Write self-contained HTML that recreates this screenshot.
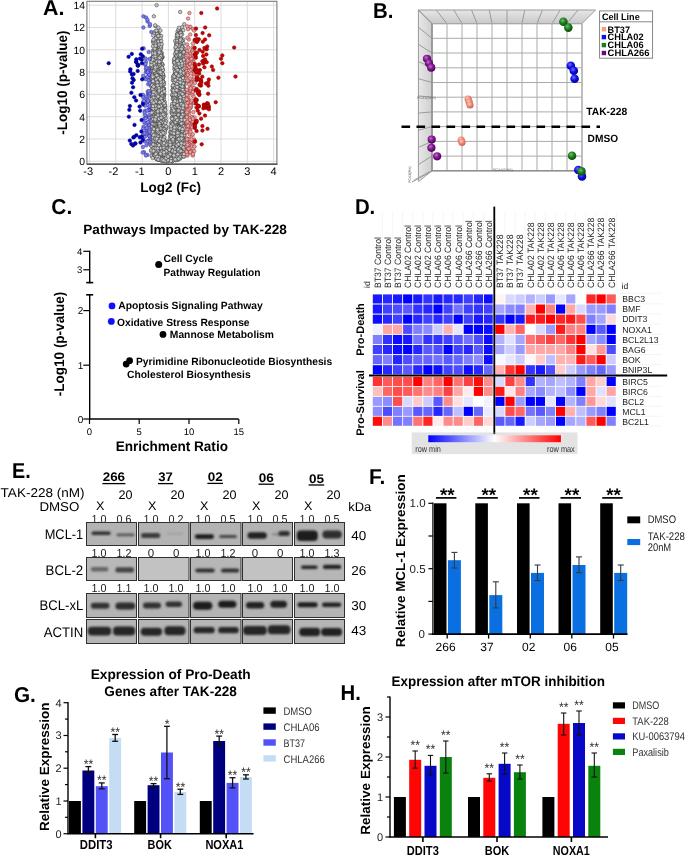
<!DOCTYPE html>
<html><head><meta charset="utf-8"><style>
html,body{margin:0;padding:0;background:#fff;width:685px;height:855px;overflow:hidden;}
svg{display:block;will-change:transform;filter:blur(0.35px);}
text{text-rendering:geometricPrecision;}
body{-webkit-font-smoothing:antialiased;}
</style></head><body>
<svg width="685" height="855" viewBox="0 0 685 855" font-family="Liberation Sans, sans-serif">
<defs>
<linearGradient id="gtop" x1="0" y1="0" x2="0" y2="1"><stop offset="0" stop-color="#e6e6e6"/><stop offset="1" stop-color="#c9c9c9"/></linearGradient>
<linearGradient id="gleft" x1="0" y1="0" x2="1" y2="0"><stop offset="0" stop-color="#e8e8e8"/><stop offset="1" stop-color="#cfcfcf"/></linearGradient>
<linearGradient id="gbar" x1="0" y1="0" x2="1" y2="0"><stop offset="0" stop-color="#0000ff"/><stop offset="0.5" stop-color="#ffffff"/><stop offset="1" stop-color="#ff0000"/></linearGradient>
<radialGradient id="sp" cx="0.4" cy="0.35" r="0.65"><stop offset="0" stop-color="#c070d0"/><stop offset="0.5" stop-color="#80188f"/><stop offset="1" stop-color="#4a0058"/></radialGradient>
<radialGradient id="ss" cx="0.4" cy="0.35" r="0.65"><stop offset="0" stop-color="#ffd0c0"/><stop offset="0.5" stop-color="#f08a78"/><stop offset="1" stop-color="#c86050"/></radialGradient>
<radialGradient id="sg" cx="0.4" cy="0.35" r="0.65"><stop offset="0" stop-color="#70c070"/><stop offset="0.5" stop-color="#1f7f1f"/><stop offset="1" stop-color="#0a4a0a"/></radialGradient>
<radialGradient id="sb" cx="0.4" cy="0.35" r="0.65"><stop offset="0" stop-color="#7070ff"/><stop offset="0.5" stop-color="#1010e8"/><stop offset="1" stop-color="#000090"/></radialGradient>
<filter id="bl7" x="-30%" y="-80%" width="160%" height="260%"><feGaussianBlur stdDeviation="1.05"/></filter>
<filter id="bl8" x="-50%" y="-80%" width="200%" height="260%"><feGaussianBlur stdDeviation="0.8"/></filter>
<filter id="bl10" x="-50%" y="-80%" width="200%" height="260%"><feGaussianBlur stdDeviation="1.0"/></filter>
</defs>
<rect width="685" height="855" fill="#fff"/>
<text x="43.0" y="14.9" font-size="21.5" font-weight="bold" textLength="21.4" lengthAdjust="spacingAndGlyphs">A.</text>
<rect x="86.9" y="1.3" width="190.0" height="162.9" fill="#fff"/>
<line x1="89.5" y1="1.3" x2="89.5" y2="164.2" stroke="#d9d9d9" stroke-width="0.9"/>
<line x1="115.8" y1="1.3" x2="115.8" y2="164.2" stroke="#d9d9d9" stroke-width="0.9"/>
<line x1="142.1" y1="1.3" x2="142.1" y2="164.2" stroke="#d9d9d9" stroke-width="0.9"/>
<line x1="168.4" y1="1.3" x2="168.4" y2="164.2" stroke="#d9d9d9" stroke-width="0.9"/>
<line x1="194.7" y1="1.3" x2="194.7" y2="164.2" stroke="#d9d9d9" stroke-width="0.9"/>
<line x1="221.0" y1="1.3" x2="221.0" y2="164.2" stroke="#d9d9d9" stroke-width="0.9"/>
<line x1="247.3" y1="1.3" x2="247.3" y2="164.2" stroke="#d9d9d9" stroke-width="0.9"/>
<line x1="273.6" y1="1.3" x2="273.6" y2="164.2" stroke="#d9d9d9" stroke-width="0.9"/>
<line x1="86.9" y1="161.3" x2="276.9" y2="161.3" stroke="#d9d9d9" stroke-width="0.9"/>
<line x1="86.9" y1="139.0" x2="276.9" y2="139.0" stroke="#d9d9d9" stroke-width="0.9"/>
<line x1="86.9" y1="116.7" x2="276.9" y2="116.7" stroke="#d9d9d9" stroke-width="0.9"/>
<line x1="86.9" y1="94.4" x2="276.9" y2="94.4" stroke="#d9d9d9" stroke-width="0.9"/>
<line x1="86.9" y1="72.1" x2="276.9" y2="72.1" stroke="#d9d9d9" stroke-width="0.9"/>
<line x1="86.9" y1="49.8" x2="276.9" y2="49.8" stroke="#d9d9d9" stroke-width="0.9"/>
<line x1="86.9" y1="27.5" x2="276.9" y2="27.5" stroke="#d9d9d9" stroke-width="0.9"/>
<line x1="86.9" y1="5.2" x2="276.9" y2="5.2" stroke="#d9d9d9" stroke-width="0.9"/>
<g fill="#c8c8c8" stroke="#3a3a3a" stroke-width="0.55">
<circle cx="176.9" cy="114.4" r="1.75"/>
<circle cx="159.8" cy="152.9" r="1.75"/>
<circle cx="163.3" cy="151.2" r="1.75"/>
<circle cx="178.2" cy="70.4" r="1.75"/>
<circle cx="157.3" cy="140.4" r="1.75"/>
<circle cx="174.6" cy="68.7" r="1.75"/>
<circle cx="178.3" cy="152.7" r="1.75"/>
<circle cx="181.2" cy="95.6" r="1.75"/>
<circle cx="175.4" cy="125.9" r="1.75"/>
<circle cx="158.2" cy="100.7" r="1.75"/>
<circle cx="174.0" cy="155.6" r="1.75"/>
<circle cx="178.9" cy="60.5" r="1.75"/>
<circle cx="152.1" cy="92.6" r="1.75"/>
<circle cx="158.7" cy="105.4" r="1.75"/>
<circle cx="162.3" cy="136.9" r="1.75"/>
<circle cx="158.5" cy="104.6" r="1.75"/>
<circle cx="178.4" cy="81.7" r="1.75"/>
<circle cx="173.8" cy="109.3" r="1.75"/>
<circle cx="162.3" cy="135.8" r="1.75"/>
<circle cx="164.3" cy="160.7" r="1.75"/>
<circle cx="183.1" cy="86.6" r="1.75"/>
<circle cx="155.7" cy="104.4" r="1.75"/>
<circle cx="166.5" cy="152.3" r="1.75"/>
<circle cx="166.4" cy="161.3" r="1.75"/>
<circle cx="174.9" cy="157.6" r="1.75"/>
<circle cx="184.5" cy="108.5" r="1.75"/>
<circle cx="160.3" cy="93.8" r="1.75"/>
<circle cx="153.1" cy="41.2" r="1.75"/>
<circle cx="184.7" cy="84.7" r="1.75"/>
<circle cx="154.5" cy="123.5" r="1.75"/>
<circle cx="151.7" cy="84.1" r="1.75"/>
<circle cx="165.8" cy="128.4" r="1.75"/>
<circle cx="160.2" cy="157.3" r="1.75"/>
<circle cx="163.1" cy="129.3" r="1.75"/>
<circle cx="181.5" cy="70.8" r="1.75"/>
<circle cx="181.4" cy="149.0" r="1.75"/>
<circle cx="153.9" cy="52.6" r="1.75"/>
<circle cx="174.3" cy="103.1" r="1.75"/>
<circle cx="182.1" cy="142.9" r="1.75"/>
<circle cx="165.2" cy="110.5" r="1.75"/>
<circle cx="160.6" cy="85.0" r="1.75"/>
<circle cx="157.6" cy="124.8" r="1.75"/>
<circle cx="158.5" cy="123.7" r="1.75"/>
<circle cx="152.8" cy="76.7" r="1.75"/>
<circle cx="175.4" cy="88.6" r="1.75"/>
<circle cx="165.0" cy="160.7" r="1.75"/>
<circle cx="154.7" cy="56.2" r="1.75"/>
<circle cx="162.3" cy="145.9" r="1.75"/>
<circle cx="178.8" cy="79.9" r="1.75"/>
<circle cx="156.7" cy="87.1" r="1.75"/>
<circle cx="176.4" cy="92.0" r="1.75"/>
<circle cx="174.8" cy="80.2" r="1.75"/>
<circle cx="156.2" cy="143.7" r="1.75"/>
<circle cx="172.5" cy="138.9" r="1.75"/>
<circle cx="155.6" cy="129.5" r="1.75"/>
<circle cx="175.5" cy="137.9" r="1.75"/>
<circle cx="177.5" cy="132.9" r="1.75"/>
<circle cx="175.8" cy="158.7" r="1.75"/>
<circle cx="174.0" cy="152.0" r="1.75"/>
<circle cx="165.2" cy="155.6" r="1.75"/>
<circle cx="183.3" cy="100.1" r="1.75"/>
<circle cx="162.7" cy="78.6" r="1.75"/>
<circle cx="152.9" cy="61.5" r="1.75"/>
<circle cx="153.9" cy="149.2" r="1.75"/>
<circle cx="174.3" cy="95.5" r="1.75"/>
<circle cx="161.5" cy="84.9" r="1.75"/>
<circle cx="162.4" cy="154.0" r="1.75"/>
<circle cx="163.9" cy="88.8" r="1.75"/>
<circle cx="177.5" cy="125.0" r="1.75"/>
<circle cx="157.3" cy="89.5" r="1.75"/>
<circle cx="176.3" cy="111.6" r="1.75"/>
<circle cx="155.7" cy="153.4" r="1.75"/>
<circle cx="155.4" cy="124.3" r="1.75"/>
<circle cx="159.2" cy="120.4" r="1.75"/>
<circle cx="156.9" cy="138.5" r="1.75"/>
<circle cx="160.5" cy="125.9" r="1.75"/>
<circle cx="166.3" cy="161.1" r="1.75"/>
<circle cx="165.1" cy="160.6" r="1.75"/>
<circle cx="158.5" cy="155.3" r="1.75"/>
<circle cx="174.2" cy="104.8" r="1.75"/>
<circle cx="155.0" cy="56.3" r="1.75"/>
<circle cx="181.1" cy="141.1" r="1.75"/>
<circle cx="173.7" cy="76.6" r="1.75"/>
<circle cx="154.3" cy="142.0" r="1.75"/>
<circle cx="173.0" cy="80.3" r="1.75"/>
<circle cx="173.6" cy="88.4" r="1.75"/>
<circle cx="159.8" cy="54.5" r="1.75"/>
<circle cx="154.4" cy="89.7" r="1.75"/>
<circle cx="159.0" cy="68.1" r="1.75"/>
<circle cx="159.5" cy="79.0" r="1.75"/>
<circle cx="179.1" cy="63.9" r="1.75"/>
<circle cx="175.4" cy="93.7" r="1.75"/>
<circle cx="172.9" cy="158.8" r="1.75"/>
<circle cx="157.3" cy="130.9" r="1.75"/>
<circle cx="178.2" cy="140.8" r="1.75"/>
<circle cx="165.8" cy="127.8" r="1.75"/>
<circle cx="166.0" cy="160.8" r="1.75"/>
<circle cx="154.5" cy="115.5" r="1.75"/>
<circle cx="177.7" cy="39.7" r="1.75"/>
<circle cx="178.7" cy="107.3" r="1.75"/>
<circle cx="153.4" cy="109.0" r="1.75"/>
<circle cx="161.4" cy="119.9" r="1.75"/>
<circle cx="152.6" cy="87.2" r="1.75"/>
<circle cx="179.7" cy="69.9" r="1.75"/>
<circle cx="180.2" cy="57.0" r="1.75"/>
<circle cx="173.1" cy="119.8" r="1.75"/>
<circle cx="160.5" cy="92.9" r="1.75"/>
<circle cx="177.7" cy="66.2" r="1.75"/>
<circle cx="162.6" cy="137.0" r="1.75"/>
<circle cx="163.1" cy="96.1" r="1.75"/>
<circle cx="153.1" cy="111.7" r="1.75"/>
<circle cx="156.0" cy="52.6" r="1.75"/>
<circle cx="163.0" cy="106.7" r="1.75"/>
<circle cx="176.1" cy="88.3" r="1.75"/>
<circle cx="154.9" cy="122.0" r="1.75"/>
<circle cx="155.1" cy="34.8" r="1.75"/>
<circle cx="152.2" cy="76.2" r="1.75"/>
<circle cx="179.7" cy="145.5" r="1.75"/>
<circle cx="154.0" cy="67.5" r="1.75"/>
<circle cx="175.3" cy="127.6" r="1.75"/>
<circle cx="171.0" cy="142.8" r="1.75"/>
<circle cx="160.7" cy="85.3" r="1.75"/>
<circle cx="156.5" cy="74.2" r="1.75"/>
<circle cx="180.9" cy="127.3" r="1.75"/>
<circle cx="161.5" cy="116.7" r="1.75"/>
<circle cx="162.4" cy="64.6" r="1.75"/>
<circle cx="181.5" cy="112.3" r="1.75"/>
<circle cx="177.3" cy="88.1" r="1.75"/>
<circle cx="153.3" cy="42.4" r="1.75"/>
<circle cx="158.6" cy="89.4" r="1.75"/>
<circle cx="152.3" cy="64.9" r="1.75"/>
<circle cx="160.1" cy="140.7" r="1.75"/>
<circle cx="176.6" cy="134.4" r="1.75"/>
<circle cx="165.3" cy="107.1" r="1.75"/>
<circle cx="174.5" cy="120.7" r="1.75"/>
<circle cx="178.2" cy="109.6" r="1.75"/>
<circle cx="160.9" cy="154.2" r="1.75"/>
<circle cx="155.2" cy="31.3" r="1.75"/>
<circle cx="158.7" cy="50.2" r="1.75"/>
<circle cx="180.2" cy="112.2" r="1.75"/>
<circle cx="154.8" cy="123.3" r="1.75"/>
<circle cx="183.7" cy="127.4" r="1.75"/>
<circle cx="162.4" cy="105.3" r="1.75"/>
<circle cx="158.5" cy="73.3" r="1.75"/>
<circle cx="161.1" cy="47.9" r="1.75"/>
<circle cx="152.5" cy="156.4" r="1.75"/>
<circle cx="159.4" cy="122.9" r="1.75"/>
<circle cx="180.2" cy="127.4" r="1.75"/>
<circle cx="178.2" cy="65.0" r="1.75"/>
<circle cx="159.0" cy="54.3" r="1.75"/>
<circle cx="183.8" cy="139.1" r="1.75"/>
<circle cx="181.1" cy="87.8" r="1.75"/>
<circle cx="176.5" cy="92.5" r="1.75"/>
<circle cx="178.7" cy="144.0" r="1.75"/>
<circle cx="180.1" cy="123.6" r="1.75"/>
<circle cx="162.6" cy="129.8" r="1.75"/>
<circle cx="175.8" cy="124.4" r="1.75"/>
<circle cx="160.0" cy="63.0" r="1.75"/>
<circle cx="165.9" cy="152.1" r="1.75"/>
<circle cx="161.9" cy="137.6" r="1.75"/>
<circle cx="159.4" cy="116.7" r="1.75"/>
<circle cx="174.6" cy="108.6" r="1.75"/>
<circle cx="161.1" cy="160.4" r="1.75"/>
<circle cx="157.2" cy="94.5" r="1.75"/>
<circle cx="157.0" cy="68.4" r="1.75"/>
<circle cx="182.8" cy="140.2" r="1.75"/>
<circle cx="171.9" cy="145.5" r="1.75"/>
<circle cx="177.6" cy="91.3" r="1.75"/>
<circle cx="181.9" cy="41.8" r="1.75"/>
<circle cx="157.4" cy="41.1" r="1.75"/>
<circle cx="152.8" cy="86.2" r="1.75"/>
<circle cx="169.8" cy="155.3" r="1.75"/>
<circle cx="177.6" cy="39.8" r="1.75"/>
<circle cx="155.9" cy="100.4" r="1.75"/>
<circle cx="161.1" cy="96.5" r="1.75"/>
<circle cx="162.8" cy="94.9" r="1.75"/>
<circle cx="166.4" cy="142.7" r="1.75"/>
<circle cx="182.4" cy="69.0" r="1.75"/>
<circle cx="174.5" cy="87.2" r="1.75"/>
<circle cx="151.2" cy="133.2" r="1.75"/>
<circle cx="174.3" cy="151.8" r="1.75"/>
<circle cx="183.5" cy="43.1" r="1.75"/>
<circle cx="173.4" cy="131.1" r="1.75"/>
<circle cx="183.0" cy="137.9" r="1.75"/>
<circle cx="161.0" cy="136.8" r="1.75"/>
<circle cx="151.9" cy="77.2" r="1.75"/>
<circle cx="180.1" cy="70.0" r="1.75"/>
<circle cx="161.9" cy="109.1" r="1.75"/>
<circle cx="183.5" cy="53.5" r="1.75"/>
<circle cx="163.6" cy="76.4" r="1.75"/>
<circle cx="182.1" cy="156.4" r="1.75"/>
<circle cx="170.1" cy="142.2" r="1.75"/>
<circle cx="165.3" cy="160.9" r="1.75"/>
<circle cx="179.2" cy="75.9" r="1.75"/>
<circle cx="156.5" cy="141.8" r="1.75"/>
<circle cx="155.7" cy="103.0" r="1.75"/>
<circle cx="180.5" cy="79.8" r="1.75"/>
<circle cx="157.5" cy="125.3" r="1.75"/>
<circle cx="157.0" cy="102.5" r="1.75"/>
<circle cx="179.7" cy="132.4" r="1.75"/>
<circle cx="153.8" cy="43.4" r="1.75"/>
<circle cx="172.5" cy="160.4" r="1.75"/>
<circle cx="161.7" cy="53.8" r="1.75"/>
<circle cx="182.7" cy="112.7" r="1.75"/>
<circle cx="179.2" cy="58.1" r="1.75"/>
<circle cx="174.4" cy="122.8" r="1.75"/>
<circle cx="153.9" cy="33.7" r="1.75"/>
<circle cx="178.4" cy="53.1" r="1.75"/>
<circle cx="183.6" cy="126.6" r="1.75"/>
<circle cx="181.9" cy="93.2" r="1.75"/>
<circle cx="180.0" cy="97.9" r="1.75"/>
<circle cx="167.0" cy="150.0" r="1.75"/>
<circle cx="166.5" cy="145.8" r="1.75"/>
<circle cx="182.0" cy="60.9" r="1.75"/>
<circle cx="152.8" cy="151.8" r="1.75"/>
<circle cx="182.4" cy="151.7" r="1.75"/>
<circle cx="153.2" cy="145.8" r="1.75"/>
<circle cx="177.3" cy="69.4" r="1.75"/>
<circle cx="176.5" cy="146.8" r="1.75"/>
<circle cx="156.9" cy="158.3" r="1.75"/>
<circle cx="179.0" cy="108.0" r="1.75"/>
<circle cx="155.0" cy="156.8" r="1.75"/>
<circle cx="172.9" cy="111.0" r="1.75"/>
<circle cx="159.2" cy="42.5" r="1.75"/>
<circle cx="164.6" cy="160.7" r="1.75"/>
<circle cx="152.7" cy="111.0" r="1.75"/>
<circle cx="179.7" cy="120.2" r="1.75"/>
<circle cx="181.4" cy="149.6" r="1.75"/>
<circle cx="162.0" cy="70.3" r="1.75"/>
<circle cx="158.5" cy="32.5" r="1.75"/>
<circle cx="155.2" cy="106.3" r="1.75"/>
<circle cx="153.4" cy="110.8" r="1.75"/>
<circle cx="156.6" cy="65.3" r="1.75"/>
<circle cx="173.9" cy="143.0" r="1.75"/>
<circle cx="172.9" cy="133.5" r="1.75"/>
<circle cx="173.3" cy="125.4" r="1.75"/>
<circle cx="183.7" cy="113.7" r="1.75"/>
<circle cx="181.3" cy="146.6" r="1.75"/>
<circle cx="159.8" cy="55.0" r="1.75"/>
<circle cx="154.3" cy="105.0" r="1.75"/>
<circle cx="180.4" cy="60.8" r="1.75"/>
<circle cx="177.8" cy="102.6" r="1.75"/>
<circle cx="152.8" cy="78.1" r="1.75"/>
<circle cx="154.7" cy="68.3" r="1.75"/>
<circle cx="173.7" cy="147.1" r="1.75"/>
<circle cx="177.2" cy="99.9" r="1.75"/>
<circle cx="158.2" cy="63.4" r="1.75"/>
<circle cx="157.4" cy="90.3" r="1.75"/>
<circle cx="178.6" cy="138.0" r="1.75"/>
<circle cx="180.6" cy="82.9" r="1.75"/>
<circle cx="154.7" cy="101.8" r="1.75"/>
<circle cx="166.1" cy="143.6" r="1.75"/>
<circle cx="155.9" cy="121.5" r="1.75"/>
<circle cx="154.5" cy="110.3" r="1.75"/>
<circle cx="154.5" cy="129.6" r="1.75"/>
<circle cx="151.8" cy="93.3" r="1.75"/>
<circle cx="175.9" cy="110.1" r="1.75"/>
<circle cx="177.3" cy="81.8" r="1.75"/>
<circle cx="155.0" cy="106.8" r="1.75"/>
<circle cx="158.4" cy="120.5" r="1.75"/>
<circle cx="181.8" cy="99.2" r="1.75"/>
<circle cx="182.3" cy="153.0" r="1.75"/>
<circle cx="183.7" cy="140.9" r="1.75"/>
<circle cx="160.9" cy="66.2" r="1.75"/>
<circle cx="153.7" cy="127.4" r="1.75"/>
<circle cx="182.4" cy="137.0" r="1.75"/>
<circle cx="181.6" cy="64.4" r="1.75"/>
<circle cx="153.3" cy="84.4" r="1.75"/>
<circle cx="162.7" cy="80.8" r="1.75"/>
<circle cx="157.1" cy="93.6" r="1.75"/>
<circle cx="156.2" cy="83.1" r="1.75"/>
<circle cx="157.9" cy="64.9" r="1.75"/>
<circle cx="153.1" cy="69.0" r="1.75"/>
<circle cx="177.8" cy="113.4" r="1.75"/>
<circle cx="180.9" cy="31.2" r="1.75"/>
<circle cx="181.3" cy="108.2" r="1.75"/>
<circle cx="161.8" cy="130.8" r="1.75"/>
<circle cx="183.5" cy="88.3" r="1.75"/>
<circle cx="156.0" cy="66.4" r="1.75"/>
<circle cx="154.1" cy="69.3" r="1.75"/>
<circle cx="157.0" cy="154.1" r="1.75"/>
<circle cx="181.5" cy="65.9" r="1.75"/>
<circle cx="176.1" cy="71.9" r="1.75"/>
<circle cx="175.2" cy="64.6" r="1.75"/>
<circle cx="176.4" cy="135.0" r="1.75"/>
<circle cx="158.2" cy="79.8" r="1.75"/>
<circle cx="179.3" cy="115.1" r="1.75"/>
<circle cx="178.3" cy="155.6" r="1.75"/>
<circle cx="175.4" cy="159.3" r="1.75"/>
<circle cx="174.9" cy="101.5" r="1.75"/>
<circle cx="152.3" cy="139.3" r="1.75"/>
<circle cx="167.2" cy="148.5" r="1.75"/>
<circle cx="182.1" cy="57.0" r="1.75"/>
<circle cx="181.5" cy="55.5" r="1.75"/>
<circle cx="164.3" cy="94.5" r="1.75"/>
<circle cx="169.8" cy="159.2" r="1.75"/>
<circle cx="164.5" cy="116.2" r="1.75"/>
<circle cx="156.0" cy="108.0" r="1.75"/>
<circle cx="160.1" cy="140.3" r="1.75"/>
<circle cx="181.2" cy="105.4" r="1.75"/>
<circle cx="152.6" cy="79.1" r="1.75"/>
<circle cx="182.1" cy="113.2" r="1.75"/>
<circle cx="154.6" cy="74.2" r="1.75"/>
<circle cx="176.9" cy="74.1" r="1.75"/>
<circle cx="165.6" cy="161.1" r="1.75"/>
<circle cx="181.9" cy="155.2" r="1.75"/>
<circle cx="183.7" cy="78.4" r="1.75"/>
<circle cx="181.1" cy="111.0" r="1.75"/>
<circle cx="180.3" cy="132.2" r="1.75"/>
<circle cx="153.8" cy="93.9" r="1.75"/>
<circle cx="182.9" cy="148.6" r="1.75"/>
<circle cx="161.2" cy="92.2" r="1.75"/>
<circle cx="158.6" cy="135.1" r="1.75"/>
<circle cx="175.8" cy="139.7" r="1.75"/>
<circle cx="175.5" cy="145.9" r="1.75"/>
<circle cx="151.1" cy="86.0" r="1.75"/>
<circle cx="180.8" cy="79.1" r="1.75"/>
<circle cx="162.7" cy="124.5" r="1.75"/>
<circle cx="184.0" cy="149.2" r="1.75"/>
<circle cx="152.6" cy="74.6" r="1.75"/>
<circle cx="177.1" cy="124.0" r="1.75"/>
<circle cx="183.8" cy="96.3" r="1.75"/>
<circle cx="153.7" cy="129.2" r="1.75"/>
<circle cx="181.7" cy="39.9" r="1.75"/>
<circle cx="151.6" cy="67.6" r="1.75"/>
<circle cx="182.7" cy="63.2" r="1.75"/>
<circle cx="163.9" cy="146.0" r="1.75"/>
<circle cx="170.7" cy="126.7" r="1.75"/>
<circle cx="152.2" cy="57.3" r="1.75"/>
<circle cx="152.8" cy="141.0" r="1.75"/>
<circle cx="174.2" cy="95.7" r="1.75"/>
<circle cx="178.7" cy="129.2" r="1.75"/>
<circle cx="162.2" cy="140.3" r="1.75"/>
<circle cx="152.8" cy="137.0" r="1.75"/>
<circle cx="163.1" cy="144.8" r="1.75"/>
<circle cx="161.4" cy="92.1" r="1.75"/>
<circle cx="175.9" cy="108.5" r="1.75"/>
<circle cx="177.6" cy="31.4" r="1.75"/>
<circle cx="176.6" cy="141.0" r="1.75"/>
<circle cx="154.2" cy="78.5" r="1.75"/>
<circle cx="156.3" cy="58.2" r="1.75"/>
<circle cx="181.1" cy="121.6" r="1.75"/>
<circle cx="171.2" cy="132.0" r="1.75"/>
<circle cx="179.0" cy="89.8" r="1.75"/>
<circle cx="156.9" cy="134.3" r="1.75"/>
<circle cx="164.1" cy="160.6" r="1.75"/>
<circle cx="180.7" cy="143.8" r="1.75"/>
<circle cx="153.6" cy="106.0" r="1.75"/>
<circle cx="176.3" cy="86.9" r="1.75"/>
<circle cx="153.9" cy="134.9" r="1.75"/>
<circle cx="178.7" cy="156.9" r="1.75"/>
<circle cx="174.7" cy="77.7" r="1.75"/>
<circle cx="165.4" cy="154.8" r="1.75"/>
<circle cx="182.7" cy="102.5" r="1.75"/>
<circle cx="184.0" cy="140.0" r="1.75"/>
<circle cx="179.5" cy="105.0" r="1.75"/>
<circle cx="176.5" cy="104.0" r="1.75"/>
<circle cx="183.6" cy="98.2" r="1.75"/>
<circle cx="176.4" cy="153.5" r="1.75"/>
<circle cx="174.6" cy="69.6" r="1.75"/>
<circle cx="153.3" cy="98.5" r="1.75"/>
<circle cx="178.2" cy="33.1" r="1.75"/>
<circle cx="177.3" cy="63.0" r="1.75"/>
<circle cx="176.5" cy="85.9" r="1.75"/>
<circle cx="158.6" cy="117.0" r="1.75"/>
<circle cx="173.1" cy="122.4" r="1.75"/>
<circle cx="162.8" cy="143.3" r="1.75"/>
<circle cx="179.2" cy="148.6" r="1.75"/>
<circle cx="156.6" cy="78.7" r="1.75"/>
<circle cx="160.1" cy="72.5" r="1.75"/>
<circle cx="160.5" cy="129.2" r="1.75"/>
<circle cx="151.9" cy="80.6" r="1.75"/>
<circle cx="158.3" cy="118.5" r="1.75"/>
<circle cx="155.0" cy="152.3" r="1.75"/>
<circle cx="175.2" cy="145.5" r="1.75"/>
<circle cx="182.2" cy="110.2" r="1.75"/>
<circle cx="176.1" cy="51.2" r="1.75"/>
<circle cx="178.6" cy="35.1" r="1.75"/>
<circle cx="182.0" cy="89.1" r="1.75"/>
<circle cx="157.1" cy="73.3" r="1.75"/>
<circle cx="158.7" cy="56.5" r="1.75"/>
<circle cx="159.8" cy="88.9" r="1.75"/>
<circle cx="175.7" cy="140.3" r="1.75"/>
<circle cx="163.9" cy="99.5" r="1.75"/>
<circle cx="184.3" cy="79.4" r="1.75"/>
<circle cx="177.4" cy="86.3" r="1.75"/>
<circle cx="157.0" cy="109.4" r="1.75"/>
<circle cx="158.1" cy="147.0" r="1.75"/>
<circle cx="180.0" cy="78.1" r="1.75"/>
<circle cx="159.4" cy="84.5" r="1.75"/>
<circle cx="183.6" cy="87.0" r="1.75"/>
<circle cx="177.2" cy="138.6" r="1.75"/>
<circle cx="183.6" cy="134.0" r="1.75"/>
<circle cx="154.1" cy="69.0" r="1.75"/>
<circle cx="157.2" cy="116.8" r="1.75"/>
<circle cx="155.4" cy="64.5" r="1.75"/>
<circle cx="177.4" cy="122.7" r="1.75"/>
<circle cx="171.6" cy="143.7" r="1.75"/>
<circle cx="182.0" cy="146.8" r="1.75"/>
<circle cx="174.4" cy="152.3" r="1.75"/>
<circle cx="152.8" cy="57.6" r="1.75"/>
<circle cx="158.2" cy="76.9" r="1.75"/>
<circle cx="179.5" cy="153.4" r="1.75"/>
<circle cx="182.3" cy="125.2" r="1.75"/>
<circle cx="183.4" cy="115.7" r="1.75"/>
<circle cx="158.3" cy="89.5" r="1.75"/>
<circle cx="153.4" cy="57.2" r="1.75"/>
<circle cx="163.0" cy="126.0" r="1.75"/>
<circle cx="174.0" cy="79.9" r="1.75"/>
<circle cx="162.5" cy="143.4" r="1.75"/>
<circle cx="160.4" cy="133.6" r="1.75"/>
<circle cx="162.0" cy="138.7" r="1.75"/>
<circle cx="159.7" cy="40.3" r="1.75"/>
<circle cx="153.2" cy="110.1" r="1.75"/>
<circle cx="172.6" cy="131.1" r="1.75"/>
<circle cx="180.9" cy="58.9" r="1.75"/>
<circle cx="173.6" cy="108.0" r="1.75"/>
<circle cx="153.1" cy="86.9" r="1.75"/>
<circle cx="173.1" cy="105.5" r="1.75"/>
<circle cx="155.8" cy="135.6" r="1.75"/>
<circle cx="166.0" cy="145.5" r="1.75"/>
<circle cx="155.2" cy="116.2" r="1.75"/>
<circle cx="182.8" cy="120.4" r="1.75"/>
<circle cx="157.0" cy="142.1" r="1.75"/>
<circle cx="159.7" cy="65.1" r="1.75"/>
<circle cx="153.4" cy="70.2" r="1.75"/>
<circle cx="160.8" cy="155.4" r="1.75"/>
<circle cx="172.4" cy="155.6" r="1.75"/>
<circle cx="162.5" cy="57.4" r="1.75"/>
<circle cx="179.2" cy="119.8" r="1.75"/>
<circle cx="152.8" cy="154.4" r="1.75"/>
<circle cx="178.4" cy="52.7" r="1.75"/>
<circle cx="179.6" cy="120.5" r="1.75"/>
<circle cx="154.2" cy="70.3" r="1.75"/>
<circle cx="172.8" cy="99.2" r="1.75"/>
<circle cx="155.7" cy="59.4" r="1.75"/>
<circle cx="160.9" cy="82.5" r="1.75"/>
<circle cx="180.7" cy="116.3" r="1.75"/>
<circle cx="175.4" cy="126.8" r="1.75"/>
<circle cx="156.9" cy="117.9" r="1.75"/>
<circle cx="180.4" cy="112.9" r="1.75"/>
<circle cx="182.3" cy="74.5" r="1.75"/>
<circle cx="162.1" cy="144.7" r="1.75"/>
<circle cx="164.4" cy="132.7" r="1.75"/>
<circle cx="165.5" cy="114.3" r="1.75"/>
<circle cx="178.5" cy="149.1" r="1.75"/>
<circle cx="167.2" cy="145.5" r="1.75"/>
<circle cx="177.0" cy="70.3" r="1.75"/>
<circle cx="161.1" cy="125.6" r="1.75"/>
<circle cx="182.1" cy="134.4" r="1.75"/>
<circle cx="173.2" cy="136.9" r="1.75"/>
<circle cx="154.2" cy="107.9" r="1.75"/>
<circle cx="180.0" cy="126.6" r="1.75"/>
<circle cx="160.1" cy="89.6" r="1.75"/>
<circle cx="184.3" cy="77.1" r="1.75"/>
<circle cx="163.6" cy="148.3" r="1.75"/>
<circle cx="179.3" cy="56.5" r="1.75"/>
<circle cx="176.7" cy="120.2" r="1.75"/>
<circle cx="174.1" cy="112.2" r="1.75"/>
<circle cx="175.7" cy="118.4" r="1.75"/>
<circle cx="154.4" cy="133.0" r="1.75"/>
<circle cx="180.5" cy="43.7" r="1.75"/>
<circle cx="175.3" cy="118.2" r="1.75"/>
<circle cx="162.2" cy="111.5" r="1.75"/>
<circle cx="156.0" cy="62.9" r="1.75"/>
<circle cx="177.2" cy="100.9" r="1.75"/>
<circle cx="182.2" cy="144.7" r="1.75"/>
<circle cx="174.7" cy="124.6" r="1.75"/>
<circle cx="157.4" cy="90.4" r="1.75"/>
<circle cx="162.3" cy="76.0" r="1.75"/>
<circle cx="173.9" cy="97.6" r="1.75"/>
<circle cx="164.3" cy="146.5" r="1.75"/>
<circle cx="178.6" cy="49.0" r="1.75"/>
<circle cx="163.8" cy="159.1" r="1.75"/>
<circle cx="179.6" cy="58.8" r="1.75"/>
<circle cx="155.6" cy="136.9" r="1.75"/>
<circle cx="152.9" cy="62.7" r="1.75"/>
<circle cx="175.7" cy="56.7" r="1.75"/>
<circle cx="159.8" cy="81.7" r="1.75"/>
<circle cx="178.7" cy="133.3" r="1.75"/>
<circle cx="157.8" cy="144.8" r="1.75"/>
<circle cx="163.4" cy="119.3" r="1.75"/>
<circle cx="176.2" cy="61.4" r="1.75"/>
<circle cx="173.2" cy="88.6" r="1.75"/>
<circle cx="172.7" cy="134.9" r="1.75"/>
<circle cx="152.7" cy="150.3" r="1.75"/>
<circle cx="156.4" cy="75.9" r="1.75"/>
<circle cx="156.4" cy="105.1" r="1.75"/>
<circle cx="162.9" cy="112.9" r="1.75"/>
<circle cx="156.7" cy="64.0" r="1.75"/>
<circle cx="171.4" cy="123.3" r="1.75"/>
<circle cx="181.5" cy="80.0" r="1.75"/>
<circle cx="153.2" cy="69.5" r="1.75"/>
<circle cx="179.0" cy="117.2" r="1.75"/>
<circle cx="177.7" cy="69.2" r="1.75"/>
<circle cx="159.7" cy="114.5" r="1.75"/>
<circle cx="153.3" cy="126.0" r="1.75"/>
<circle cx="176.5" cy="95.6" r="1.75"/>
<circle cx="158.0" cy="136.8" r="1.75"/>
<circle cx="185.0" cy="149.7" r="1.75"/>
<circle cx="158.0" cy="109.6" r="1.75"/>
<circle cx="161.6" cy="124.0" r="1.75"/>
<circle cx="152.8" cy="59.2" r="1.75"/>
<circle cx="184.7" cy="67.4" r="1.75"/>
<circle cx="175.4" cy="74.2" r="1.75"/>
<circle cx="179.4" cy="134.0" r="1.75"/>
<circle cx="175.9" cy="113.9" r="1.75"/>
<circle cx="156.7" cy="153.0" r="1.75"/>
<circle cx="171.5" cy="112.8" r="1.75"/>
<circle cx="161.7" cy="72.3" r="1.75"/>
<circle cx="177.1" cy="138.7" r="1.75"/>
<circle cx="181.2" cy="83.2" r="1.75"/>
<circle cx="181.9" cy="74.1" r="1.75"/>
<circle cx="184.2" cy="48.8" r="1.75"/>
<circle cx="172.3" cy="95.6" r="1.75"/>
<circle cx="177.2" cy="92.3" r="1.75"/>
<circle cx="156.7" cy="51.6" r="1.75"/>
<circle cx="177.8" cy="80.8" r="1.75"/>
<circle cx="170.4" cy="139.7" r="1.75"/>
<circle cx="179.4" cy="48.5" r="1.75"/>
<circle cx="182.8" cy="69.1" r="1.75"/>
<circle cx="156.5" cy="145.7" r="1.75"/>
<circle cx="153.2" cy="103.1" r="1.75"/>
<circle cx="159.4" cy="128.8" r="1.75"/>
<circle cx="183.8" cy="127.8" r="1.75"/>
<circle cx="153.8" cy="129.9" r="1.75"/>
<circle cx="155.5" cy="120.3" r="1.75"/>
<circle cx="182.9" cy="74.7" r="1.75"/>
<circle cx="163.1" cy="130.9" r="1.75"/>
<circle cx="153.3" cy="118.2" r="1.75"/>
<circle cx="166.2" cy="159.9" r="1.75"/>
<circle cx="152.8" cy="62.3" r="1.75"/>
<circle cx="174.5" cy="127.3" r="1.75"/>
<circle cx="151.6" cy="98.9" r="1.75"/>
<circle cx="159.1" cy="115.4" r="1.75"/>
<circle cx="155.1" cy="135.4" r="1.75"/>
<circle cx="159.8" cy="88.7" r="1.75"/>
<circle cx="180.9" cy="130.1" r="1.75"/>
<circle cx="157.9" cy="121.7" r="1.75"/>
<circle cx="164.8" cy="102.1" r="1.75"/>
<circle cx="183.1" cy="61.6" r="1.75"/>
<circle cx="152.3" cy="103.4" r="1.75"/>
<circle cx="165.1" cy="105.2" r="1.75"/>
<circle cx="154.5" cy="73.2" r="1.75"/>
<circle cx="153.5" cy="106.7" r="1.75"/>
<circle cx="178.4" cy="29.6" r="1.75"/>
<circle cx="154.2" cy="67.6" r="1.75"/>
<circle cx="155.6" cy="75.4" r="1.75"/>
<circle cx="180.1" cy="53.6" r="1.75"/>
<circle cx="180.3" cy="63.1" r="1.75"/>
<circle cx="154.8" cy="128.9" r="1.75"/>
<circle cx="161.9" cy="85.6" r="1.75"/>
<circle cx="182.4" cy="85.4" r="1.75"/>
<circle cx="183.5" cy="94.6" r="1.75"/>
<circle cx="159.9" cy="35.5" r="1.75"/>
<circle cx="161.2" cy="139.0" r="1.75"/>
<circle cx="157.6" cy="95.7" r="1.75"/>
<circle cx="174.7" cy="92.0" r="1.75"/>
<circle cx="178.1" cy="62.7" r="1.75"/>
<circle cx="156.5" cy="106.1" r="1.75"/>
<circle cx="173.4" cy="152.9" r="1.75"/>
<circle cx="182.3" cy="40.4" r="1.75"/>
<circle cx="171.0" cy="132.1" r="1.75"/>
<circle cx="176.2" cy="97.2" r="1.75"/>
<circle cx="179.3" cy="102.2" r="1.75"/>
<circle cx="163.9" cy="107.3" r="1.75"/>
<circle cx="180.5" cy="51.7" r="1.75"/>
<circle cx="159.8" cy="157.6" r="1.75"/>
<circle cx="154.3" cy="92.7" r="1.75"/>
<circle cx="162.2" cy="64.1" r="1.75"/>
<circle cx="176.8" cy="62.8" r="1.75"/>
<circle cx="165.8" cy="150.1" r="1.75"/>
<circle cx="179.9" cy="153.3" r="1.75"/>
<circle cx="182.2" cy="100.7" r="1.75"/>
<circle cx="161.0" cy="112.8" r="1.75"/>
<circle cx="179.0" cy="115.9" r="1.75"/>
<circle cx="154.2" cy="87.2" r="1.75"/>
<circle cx="176.7" cy="132.0" r="1.75"/>
<circle cx="175.0" cy="94.0" r="1.75"/>
<circle cx="176.4" cy="153.9" r="1.75"/>
<circle cx="154.6" cy="79.4" r="1.75"/>
<circle cx="153.5" cy="95.4" r="1.75"/>
<circle cx="170.6" cy="152.9" r="1.75"/>
<circle cx="180.2" cy="74.9" r="1.75"/>
<circle cx="160.7" cy="63.6" r="1.75"/>
<circle cx="184.7" cy="146.7" r="1.75"/>
<circle cx="162.1" cy="101.2" r="1.75"/>
<circle cx="154.5" cy="153.1" r="1.75"/>
<circle cx="173.4" cy="118.7" r="1.75"/>
<circle cx="183.3" cy="39.4" r="1.75"/>
<circle cx="157.3" cy="104.6" r="1.75"/>
<circle cx="176.3" cy="147.7" r="1.75"/>
<circle cx="185.2" cy="62.9" r="1.75"/>
<circle cx="178.7" cy="119.2" r="1.75"/>
<circle cx="174.5" cy="91.0" r="1.75"/>
<circle cx="174.4" cy="122.0" r="1.75"/>
<circle cx="182.1" cy="27.3" r="1.75"/>
<circle cx="157.4" cy="66.1" r="1.75"/>
<circle cx="164.9" cy="125.4" r="1.75"/>
<circle cx="181.7" cy="80.2" r="1.75"/>
<circle cx="155.6" cy="75.0" r="1.75"/>
<circle cx="160.6" cy="142.2" r="1.75"/>
<circle cx="152.8" cy="65.2" r="1.75"/>
<circle cx="171.9" cy="139.7" r="1.75"/>
<circle cx="157.1" cy="89.4" r="1.75"/>
<circle cx="158.4" cy="87.8" r="1.75"/>
<circle cx="152.6" cy="131.8" r="1.75"/>
<circle cx="158.6" cy="159.1" r="1.75"/>
<circle cx="159.9" cy="78.6" r="1.75"/>
<circle cx="174.0" cy="156.8" r="1.75"/>
<circle cx="180.9" cy="32.2" r="1.75"/>
<circle cx="155.1" cy="58.3" r="1.75"/>
<circle cx="178.7" cy="71.7" r="1.75"/>
<circle cx="179.0" cy="27.8" r="1.75"/>
<circle cx="162.4" cy="102.3" r="1.75"/>
<circle cx="162.0" cy="111.4" r="1.75"/>
<circle cx="178.4" cy="113.3" r="1.75"/>
<circle cx="181.0" cy="132.4" r="1.75"/>
<circle cx="155.6" cy="147.9" r="1.75"/>
<circle cx="184.5" cy="53.2" r="1.75"/>
<circle cx="177.2" cy="75.7" r="1.75"/>
<circle cx="163.0" cy="124.8" r="1.75"/>
<circle cx="154.3" cy="94.9" r="1.75"/>
<circle cx="180.3" cy="104.5" r="1.75"/>
<circle cx="179.9" cy="102.4" r="1.75"/>
<circle cx="167.4" cy="160.6" r="1.75"/>
<circle cx="153.2" cy="73.6" r="1.75"/>
<circle cx="159.3" cy="71.5" r="1.75"/>
<circle cx="181.4" cy="59.7" r="1.75"/>
<circle cx="162.8" cy="155.3" r="1.75"/>
<circle cx="178.2" cy="128.8" r="1.75"/>
<circle cx="175.2" cy="40.9" r="1.75"/>
<circle cx="160.6" cy="135.9" r="1.75"/>
<circle cx="177.5" cy="146.7" r="1.75"/>
<circle cx="179.9" cy="106.7" r="1.75"/>
<circle cx="155.7" cy="96.9" r="1.75"/>
<circle cx="179.1" cy="69.7" r="1.75"/>
<circle cx="154.8" cy="108.6" r="1.75"/>
<circle cx="154.3" cy="62.2" r="1.75"/>
<circle cx="160.7" cy="52.6" r="1.75"/>
<circle cx="181.5" cy="140.4" r="1.75"/>
<circle cx="177.4" cy="68.3" r="1.75"/>
<circle cx="180.5" cy="82.4" r="1.75"/>
<circle cx="180.1" cy="106.1" r="1.75"/>
<circle cx="176.4" cy="121.1" r="1.75"/>
<circle cx="172.4" cy="141.0" r="1.75"/>
<circle cx="157.6" cy="54.3" r="1.75"/>
<circle cx="173.6" cy="134.2" r="1.75"/>
<circle cx="159.5" cy="114.8" r="1.75"/>
<circle cx="153.2" cy="131.7" r="1.75"/>
<circle cx="156.8" cy="69.0" r="1.75"/>
<circle cx="177.0" cy="80.3" r="1.75"/>
<circle cx="175.4" cy="108.7" r="1.75"/>
<circle cx="180.6" cy="49.5" r="1.75"/>
<circle cx="157.2" cy="110.0" r="1.75"/>
<circle cx="160.1" cy="101.5" r="1.75"/>
<circle cx="178.2" cy="67.8" r="1.75"/>
<circle cx="176.1" cy="111.8" r="1.75"/>
<circle cx="182.1" cy="134.4" r="1.75"/>
<circle cx="160.0" cy="141.9" r="1.75"/>
<circle cx="179.4" cy="88.5" r="1.75"/>
<circle cx="182.0" cy="121.6" r="1.75"/>
<circle cx="181.6" cy="139.4" r="1.75"/>
<circle cx="154.6" cy="67.3" r="1.75"/>
<circle cx="152.8" cy="59.3" r="1.75"/>
<circle cx="164.2" cy="121.7" r="1.75"/>
<circle cx="174.9" cy="63.3" r="1.75"/>
<circle cx="166.1" cy="160.8" r="1.75"/>
<circle cx="182.0" cy="152.7" r="1.75"/>
<circle cx="175.2" cy="145.3" r="1.75"/>
<circle cx="153.5" cy="113.3" r="1.75"/>
<circle cx="159.2" cy="156.9" r="1.75"/>
<circle cx="177.4" cy="99.9" r="1.75"/>
<circle cx="153.9" cy="87.1" r="1.75"/>
<circle cx="158.2" cy="92.0" r="1.75"/>
<circle cx="161.2" cy="111.8" r="1.75"/>
<circle cx="180.2" cy="133.1" r="1.75"/>
<circle cx="180.6" cy="132.8" r="1.75"/>
<circle cx="156.5" cy="152.2" r="1.75"/>
<circle cx="156.9" cy="123.1" r="1.75"/>
<circle cx="159.2" cy="154.9" r="1.75"/>
<circle cx="155.3" cy="146.5" r="1.75"/>
<circle cx="182.5" cy="93.0" r="1.75"/>
<circle cx="177.3" cy="142.7" r="1.75"/>
<circle cx="151.6" cy="131.0" r="1.75"/>
<circle cx="182.0" cy="55.1" r="1.75"/>
<circle cx="167.0" cy="141.9" r="1.75"/>
<circle cx="179.0" cy="94.1" r="1.75"/>
<circle cx="179.8" cy="151.0" r="1.75"/>
<circle cx="176.1" cy="131.5" r="1.75"/>
<circle cx="157.4" cy="146.2" r="1.75"/>
<circle cx="162.0" cy="69.1" r="1.75"/>
<circle cx="155.2" cy="56.3" r="1.75"/>
<circle cx="178.0" cy="126.5" r="1.75"/>
<circle cx="184.5" cy="140.7" r="1.75"/>
<circle cx="182.2" cy="128.1" r="1.75"/>
<circle cx="152.4" cy="69.4" r="1.75"/>
<circle cx="151.7" cy="155.8" r="1.75"/>
<circle cx="174.4" cy="129.5" r="1.75"/>
<circle cx="171.6" cy="139.1" r="1.75"/>
<circle cx="154.7" cy="134.2" r="1.75"/>
<circle cx="172.3" cy="161.0" r="1.75"/>
<circle cx="173.5" cy="88.5" r="1.75"/>
<circle cx="163.8" cy="82.2" r="1.75"/>
<circle cx="176.0" cy="53.3" r="1.75"/>
<circle cx="161.5" cy="67.1" r="1.75"/>
<circle cx="173.2" cy="110.2" r="1.75"/>
<circle cx="173.7" cy="108.0" r="1.75"/>
<circle cx="175.1" cy="73.4" r="1.75"/>
<circle cx="179.2" cy="60.9" r="1.75"/>
<circle cx="182.8" cy="102.2" r="1.75"/>
<circle cx="182.2" cy="57.4" r="1.75"/>
<circle cx="154.6" cy="98.9" r="1.75"/>
<circle cx="160.8" cy="124.7" r="1.75"/>
<circle cx="180.4" cy="147.6" r="1.75"/>
<circle cx="158.2" cy="52.2" r="1.75"/>
<circle cx="180.0" cy="158.3" r="1.75"/>
<circle cx="157.1" cy="146.1" r="1.75"/>
<circle cx="180.6" cy="108.1" r="1.75"/>
<circle cx="152.0" cy="83.3" r="1.75"/>
<circle cx="162.6" cy="148.3" r="1.75"/>
<circle cx="180.3" cy="135.7" r="1.75"/>
<circle cx="161.8" cy="125.3" r="1.75"/>
<circle cx="181.0" cy="75.6" r="1.75"/>
<circle cx="163.1" cy="117.2" r="1.75"/>
<circle cx="180.2" cy="144.9" r="1.75"/>
<circle cx="159.2" cy="121.7" r="1.75"/>
<circle cx="175.4" cy="61.4" r="1.75"/>
<circle cx="181.6" cy="40.7" r="1.75"/>
<circle cx="159.9" cy="64.1" r="1.75"/>
<circle cx="175.2" cy="65.7" r="1.75"/>
<circle cx="161.9" cy="66.8" r="1.75"/>
<circle cx="158.5" cy="159.2" r="1.75"/>
<circle cx="160.7" cy="141.2" r="1.75"/>
<circle cx="158.6" cy="85.5" r="1.75"/>
<circle cx="159.6" cy="50.4" r="1.75"/>
<circle cx="172.4" cy="105.6" r="1.75"/>
<circle cx="162.4" cy="65.1" r="1.75"/>
<circle cx="162.7" cy="97.8" r="1.75"/>
<circle cx="158.3" cy="91.8" r="1.75"/>
<circle cx="158.8" cy="144.2" r="1.75"/>
<circle cx="178.5" cy="150.9" r="1.75"/>
<circle cx="176.7" cy="36.9" r="1.75"/>
<circle cx="176.9" cy="149.3" r="1.75"/>
<circle cx="155.3" cy="55.3" r="1.75"/>
<circle cx="178.5" cy="108.9" r="1.75"/>
<circle cx="177.3" cy="135.2" r="1.75"/>
<circle cx="156.7" cy="54.0" r="1.75"/>
<circle cx="153.9" cy="73.6" r="1.75"/>
<circle cx="171.7" cy="128.4" r="1.75"/>
<circle cx="154.7" cy="129.9" r="1.75"/>
<circle cx="154.8" cy="76.8" r="1.75"/>
<circle cx="158.2" cy="159.5" r="1.75"/>
<circle cx="175.6" cy="90.0" r="1.75"/>
<circle cx="182.0" cy="40.4" r="1.75"/>
<circle cx="155.7" cy="114.7" r="1.75"/>
<circle cx="158.2" cy="158.0" r="1.75"/>
<circle cx="180.7" cy="123.9" r="1.75"/>
<circle cx="164.3" cy="141.3" r="1.75"/>
<circle cx="173.7" cy="85.6" r="1.75"/>
<circle cx="182.3" cy="127.3" r="1.75"/>
<circle cx="177.3" cy="65.4" r="1.75"/>
<circle cx="162.1" cy="153.8" r="1.75"/>
<circle cx="182.2" cy="100.4" r="1.75"/>
<circle cx="155.8" cy="66.6" r="1.75"/>
<circle cx="172.8" cy="150.3" r="1.75"/>
<circle cx="155.2" cy="61.0" r="1.75"/>
<circle cx="177.3" cy="150.7" r="1.75"/>
<circle cx="155.3" cy="63.9" r="1.75"/>
<circle cx="182.4" cy="67.4" r="1.75"/>
<circle cx="183.9" cy="127.5" r="1.75"/>
<circle cx="182.4" cy="54.7" r="1.75"/>
<circle cx="164.5" cy="142.8" r="1.75"/>
<circle cx="156.5" cy="102.4" r="1.75"/>
<circle cx="165.0" cy="109.7" r="1.75"/>
<circle cx="151.4" cy="63.3" r="1.75"/>
<circle cx="182.4" cy="68.2" r="1.75"/>
<circle cx="179.4" cy="117.7" r="1.75"/>
<circle cx="160.0" cy="76.0" r="1.75"/>
<circle cx="156.1" cy="151.1" r="1.75"/>
<circle cx="168.2" cy="160.7" r="1.75"/>
<circle cx="171.9" cy="144.7" r="1.75"/>
<circle cx="161.5" cy="112.7" r="1.75"/>
<circle cx="165.8" cy="153.3" r="1.75"/>
<circle cx="158.5" cy="70.8" r="1.75"/>
<circle cx="179.0" cy="90.0" r="1.75"/>
<circle cx="173.0" cy="153.9" r="1.75"/>
<circle cx="155.2" cy="147.6" r="1.75"/>
<circle cx="173.6" cy="127.8" r="1.75"/>
<circle cx="176.4" cy="76.9" r="1.75"/>
<circle cx="180.9" cy="123.8" r="1.75"/>
<circle cx="180.3" cy="129.3" r="1.75"/>
<circle cx="159.8" cy="72.2" r="1.75"/>
<circle cx="182.8" cy="138.5" r="1.75"/>
<circle cx="155.9" cy="46.2" r="1.75"/>
<circle cx="172.1" cy="148.4" r="1.75"/>
<circle cx="159.5" cy="94.4" r="1.75"/>
<circle cx="175.7" cy="57.5" r="1.75"/>
<circle cx="163.3" cy="151.1" r="1.75"/>
<circle cx="182.3" cy="115.2" r="1.75"/>
<circle cx="173.4" cy="107.4" r="1.75"/>
<circle cx="163.9" cy="95.2" r="1.75"/>
<circle cx="180.9" cy="142.6" r="1.75"/>
<circle cx="157.7" cy="49.6" r="1.75"/>
<circle cx="164.8" cy="147.7" r="1.75"/>
<circle cx="157.6" cy="145.9" r="1.75"/>
<circle cx="158.2" cy="40.5" r="1.75"/>
<circle cx="171.7" cy="143.4" r="1.75"/>
<circle cx="184.3" cy="123.7" r="1.75"/>
<circle cx="154.9" cy="73.7" r="1.75"/>
<circle cx="153.5" cy="54.9" r="1.75"/>
<circle cx="158.4" cy="112.2" r="1.75"/>
<circle cx="153.8" cy="136.3" r="1.75"/>
<circle cx="178.0" cy="159.8" r="1.75"/>
<circle cx="164.1" cy="122.7" r="1.75"/>
<circle cx="156.1" cy="128.4" r="1.75"/>
<circle cx="182.1" cy="125.9" r="1.75"/>
<circle cx="178.5" cy="43.5" r="1.75"/>
<circle cx="178.0" cy="39.6" r="1.75"/>
<circle cx="152.0" cy="63.2" r="1.75"/>
<circle cx="152.9" cy="81.9" r="1.75"/>
<circle cx="164.7" cy="130.3" r="1.75"/>
<circle cx="172.4" cy="113.9" r="1.75"/>
<circle cx="157.6" cy="53.9" r="1.75"/>
<circle cx="180.0" cy="116.4" r="1.75"/>
<circle cx="172.9" cy="116.1" r="1.75"/>
<circle cx="182.4" cy="76.1" r="1.75"/>
<circle cx="158.2" cy="64.8" r="1.75"/>
<circle cx="156.0" cy="143.2" r="1.75"/>
<circle cx="182.0" cy="99.1" r="1.75"/>
<circle cx="159.4" cy="47.0" r="1.75"/>
<circle cx="182.3" cy="98.5" r="1.75"/>
<circle cx="157.8" cy="132.1" r="1.75"/>
<circle cx="152.6" cy="88.8" r="1.75"/>
<circle cx="181.3" cy="46.0" r="1.75"/>
<circle cx="164.9" cy="108.9" r="1.75"/>
<circle cx="184.2" cy="88.5" r="1.75"/>
<circle cx="182.1" cy="80.1" r="1.75"/>
<circle cx="157.5" cy="99.9" r="1.75"/>
<circle cx="159.2" cy="93.4" r="1.75"/>
<circle cx="183.4" cy="126.9" r="1.75"/>
<circle cx="181.7" cy="132.0" r="1.75"/>
<circle cx="161.7" cy="58.1" r="1.75"/>
<circle cx="179.0" cy="148.8" r="1.75"/>
<circle cx="181.7" cy="140.7" r="1.75"/>
<circle cx="159.5" cy="125.8" r="1.75"/>
<circle cx="160.5" cy="71.7" r="1.75"/>
<circle cx="158.1" cy="115.5" r="1.75"/>
<circle cx="161.3" cy="97.5" r="1.75"/>
<circle cx="162.3" cy="75.5" r="1.75"/>
<circle cx="159.3" cy="102.8" r="1.75"/>
<circle cx="169.8" cy="139.2" r="1.75"/>
<circle cx="175.7" cy="109.9" r="1.75"/>
<circle cx="184.1" cy="81.0" r="1.75"/>
<circle cx="180.2" cy="140.2" r="1.75"/>
<circle cx="176.8" cy="112.0" r="1.75"/>
<circle cx="175.4" cy="134.9" r="1.75"/>
<circle cx="153.0" cy="91.8" r="1.75"/>
<circle cx="176.1" cy="110.6" r="1.75"/>
<circle cx="175.4" cy="105.2" r="1.75"/>
<circle cx="160.6" cy="107.6" r="1.75"/>
<circle cx="155.8" cy="113.1" r="1.75"/>
<circle cx="164.0" cy="158.1" r="1.75"/>
<circle cx="180.2" cy="153.0" r="1.75"/>
<circle cx="160.7" cy="81.4" r="1.75"/>
<circle cx="181.2" cy="105.4" r="1.75"/>
<circle cx="163.1" cy="74.8" r="1.75"/>
<circle cx="160.3" cy="58.6" r="1.75"/>
<circle cx="184.5" cy="135.1" r="1.75"/>
<circle cx="161.1" cy="98.3" r="1.75"/>
<circle cx="154.0" cy="59.0" r="1.75"/>
<circle cx="169.8" cy="152.8" r="1.75"/>
<circle cx="179.1" cy="97.6" r="1.75"/>
<circle cx="183.0" cy="112.5" r="1.75"/>
<circle cx="154.4" cy="140.6" r="1.75"/>
<circle cx="163.0" cy="160.5" r="1.75"/>
<circle cx="150.9" cy="78.7" r="1.75"/>
<circle cx="159.7" cy="72.1" r="1.75"/>
<circle cx="153.7" cy="115.2" r="1.75"/>
<circle cx="173.8" cy="90.5" r="1.75"/>
<circle cx="177.0" cy="139.7" r="1.75"/>
<circle cx="160.7" cy="48.7" r="1.75"/>
<circle cx="179.4" cy="56.0" r="1.75"/>
<circle cx="177.4" cy="56.7" r="1.75"/>
<circle cx="179.8" cy="107.6" r="1.75"/>
<circle cx="152.3" cy="95.2" r="1.75"/>
<circle cx="173.3" cy="92.8" r="1.75"/>
<circle cx="178.8" cy="54.0" r="1.75"/>
<circle cx="153.8" cy="125.2" r="1.75"/>
<circle cx="157.2" cy="31.8" r="1.75"/>
<circle cx="160.5" cy="57.1" r="1.75"/>
<circle cx="157.0" cy="43.2" r="1.75"/>
<circle cx="174.8" cy="112.5" r="1.75"/>
<circle cx="179.0" cy="69.9" r="1.75"/>
<circle cx="173.4" cy="147.0" r="1.75"/>
<circle cx="182.5" cy="94.1" r="1.75"/>
<circle cx="172.3" cy="138.0" r="1.75"/>
<circle cx="159.0" cy="93.1" r="1.75"/>
<circle cx="178.0" cy="81.0" r="1.75"/>
<circle cx="176.6" cy="141.0" r="1.75"/>
<circle cx="159.7" cy="81.9" r="1.75"/>
<circle cx="181.5" cy="70.1" r="1.75"/>
<circle cx="179.6" cy="108.8" r="1.75"/>
<circle cx="152.4" cy="109.1" r="1.75"/>
<circle cx="162.4" cy="125.9" r="1.75"/>
<circle cx="180.8" cy="87.7" r="1.75"/>
<circle cx="174.0" cy="62.1" r="1.75"/>
<circle cx="174.2" cy="154.2" r="1.75"/>
<circle cx="152.9" cy="78.9" r="1.75"/>
<circle cx="158.9" cy="159.4" r="1.75"/>
<circle cx="161.3" cy="146.6" r="1.75"/>
<circle cx="183.4" cy="60.2" r="1.75"/>
<circle cx="156.1" cy="145.3" r="1.75"/>
<circle cx="180.3" cy="66.6" r="1.75"/>
<circle cx="162.7" cy="109.3" r="1.75"/>
<circle cx="156.8" cy="76.0" r="1.75"/>
<circle cx="162.7" cy="78.0" r="1.75"/>
<circle cx="175.5" cy="100.0" r="1.75"/>
<circle cx="158.5" cy="41.9" r="1.75"/>
<circle cx="182.3" cy="50.4" r="1.75"/>
<circle cx="173.3" cy="95.7" r="1.75"/>
<circle cx="156.8" cy="149.4" r="1.75"/>
<circle cx="174.5" cy="99.9" r="1.75"/>
<circle cx="180.6" cy="117.0" r="1.75"/>
<circle cx="155.1" cy="99.1" r="1.75"/>
<circle cx="158.0" cy="138.6" r="1.75"/>
<circle cx="174.0" cy="112.7" r="1.75"/>
<circle cx="175.1" cy="64.2" r="1.75"/>
<circle cx="160.4" cy="30.5" r="1.75"/>
<circle cx="174.8" cy="112.7" r="1.75"/>
<circle cx="157.1" cy="103.2" r="1.75"/>
<circle cx="163.6" cy="146.8" r="1.75"/>
<circle cx="182.2" cy="64.2" r="1.75"/>
<circle cx="162.1" cy="92.7" r="1.75"/>
<circle cx="181.8" cy="61.9" r="1.75"/>
<circle cx="161.1" cy="45.2" r="1.75"/>
<circle cx="154.9" cy="76.8" r="1.75"/>
<circle cx="166.0" cy="121.2" r="1.75"/>
<circle cx="182.3" cy="148.0" r="1.75"/>
<circle cx="155.2" cy="57.4" r="1.75"/>
<circle cx="165.5" cy="160.8" r="1.75"/>
<circle cx="161.4" cy="132.8" r="1.75"/>
<circle cx="178.6" cy="107.1" r="1.75"/>
<circle cx="175.4" cy="88.3" r="1.75"/>
<circle cx="179.1" cy="84.2" r="1.75"/>
<circle cx="175.9" cy="125.2" r="1.75"/>
<circle cx="181.3" cy="119.2" r="1.75"/>
<circle cx="161.4" cy="130.4" r="1.75"/>
<circle cx="181.9" cy="109.2" r="1.75"/>
<circle cx="181.7" cy="66.4" r="1.75"/>
<circle cx="156.9" cy="121.8" r="1.75"/>
<circle cx="176.9" cy="64.2" r="1.75"/>
<circle cx="176.7" cy="112.5" r="1.75"/>
<circle cx="182.3" cy="122.2" r="1.75"/>
<circle cx="162.0" cy="97.6" r="1.75"/>
<circle cx="175.9" cy="120.6" r="1.75"/>
<circle cx="182.9" cy="99.4" r="1.75"/>
<circle cx="175.9" cy="97.6" r="1.75"/>
<circle cx="156.4" cy="158.4" r="1.75"/>
<circle cx="174.3" cy="113.0" r="1.75"/>
<circle cx="180.3" cy="158.3" r="1.75"/>
<circle cx="162.9" cy="76.4" r="1.75"/>
<circle cx="174.5" cy="114.1" r="1.75"/>
<circle cx="152.9" cy="116.2" r="1.75"/>
<circle cx="157.2" cy="144.5" r="1.75"/>
<circle cx="181.8" cy="106.6" r="1.75"/>
<circle cx="159.7" cy="122.3" r="1.75"/>
<circle cx="182.3" cy="128.3" r="1.75"/>
<circle cx="182.1" cy="81.8" r="1.75"/>
<circle cx="157.9" cy="97.5" r="1.75"/>
<circle cx="159.1" cy="130.5" r="1.75"/>
<circle cx="179.4" cy="87.7" r="1.75"/>
<circle cx="152.8" cy="87.3" r="1.75"/>
<circle cx="179.0" cy="109.4" r="1.75"/>
<circle cx="180.0" cy="120.1" r="1.75"/>
<circle cx="153.1" cy="84.2" r="1.75"/>
<circle cx="173.8" cy="112.2" r="1.75"/>
<circle cx="157.5" cy="65.3" r="1.75"/>
<circle cx="154.9" cy="127.6" r="1.75"/>
<circle cx="179.5" cy="157.1" r="1.75"/>
<circle cx="155.1" cy="63.4" r="1.75"/>
<circle cx="176.0" cy="60.7" r="1.75"/>
<circle cx="175.3" cy="72.4" r="1.75"/>
<circle cx="159.5" cy="91.2" r="1.75"/>
<circle cx="176.8" cy="62.9" r="1.75"/>
<circle cx="180.9" cy="97.2" r="1.75"/>
<circle cx="173.3" cy="108.5" r="1.75"/>
<circle cx="183.1" cy="72.6" r="1.75"/>
<circle cx="180.1" cy="55.8" r="1.75"/>
<circle cx="156.5" cy="159.0" r="1.75"/>
<circle cx="178.2" cy="61.5" r="1.75"/>
<circle cx="166.3" cy="157.5" r="1.75"/>
<circle cx="152.6" cy="70.8" r="1.75"/>
<circle cx="182.2" cy="45.9" r="1.75"/>
<circle cx="155.1" cy="55.2" r="1.75"/>
<circle cx="178.8" cy="36.4" r="1.75"/>
<circle cx="162.2" cy="132.8" r="1.75"/>
<circle cx="160.1" cy="60.6" r="1.75"/>
<circle cx="153.0" cy="87.4" r="1.75"/>
<circle cx="155.7" cy="109.6" r="1.75"/>
<circle cx="179.7" cy="65.9" r="1.75"/>
<circle cx="153.8" cy="87.8" r="1.75"/>
<circle cx="158.2" cy="110.1" r="1.75"/>
<circle cx="158.1" cy="106.7" r="1.75"/>
<circle cx="165.3" cy="161.0" r="1.75"/>
<circle cx="177.0" cy="70.6" r="1.75"/>
<circle cx="160.3" cy="63.0" r="1.75"/>
<circle cx="171.9" cy="146.7" r="1.75"/>
<circle cx="157.1" cy="129.2" r="1.75"/>
<circle cx="177.2" cy="133.8" r="1.75"/>
<circle cx="163.5" cy="88.3" r="1.75"/>
<circle cx="176.9" cy="83.3" r="1.75"/>
<circle cx="179.2" cy="55.9" r="1.75"/>
<circle cx="171.9" cy="151.8" r="1.75"/>
<circle cx="162.9" cy="81.5" r="1.75"/>
<circle cx="164.7" cy="125.3" r="1.75"/>
<circle cx="154.5" cy="90.4" r="1.75"/>
<circle cx="162.3" cy="56.5" r="1.75"/>
<circle cx="174.7" cy="113.6" r="1.75"/>
<circle cx="154.7" cy="156.0" r="1.75"/>
<circle cx="158.1" cy="104.4" r="1.75"/>
<circle cx="178.3" cy="97.9" r="1.75"/>
<circle cx="178.1" cy="135.5" r="1.75"/>
<circle cx="156.4" cy="94.4" r="1.75"/>
<circle cx="161.1" cy="36.0" r="1.75"/>
<circle cx="178.5" cy="70.4" r="1.75"/>
<circle cx="179.5" cy="142.3" r="1.75"/>
<circle cx="157.6" cy="66.1" r="1.75"/>
<circle cx="160.7" cy="114.2" r="1.75"/>
<circle cx="182.4" cy="46.7" r="1.75"/>
<circle cx="155.4" cy="144.5" r="1.75"/>
<circle cx="157.8" cy="107.9" r="1.75"/>
<circle cx="177.0" cy="101.2" r="1.75"/>
<circle cx="177.2" cy="98.2" r="1.75"/>
<circle cx="161.4" cy="67.6" r="1.75"/>
<circle cx="172.6" cy="155.2" r="1.75"/>
<circle cx="158.3" cy="97.5" r="1.75"/>
<circle cx="165.6" cy="126.8" r="1.75"/>
<circle cx="163.6" cy="96.9" r="1.75"/>
<circle cx="160.0" cy="117.6" r="1.75"/>
<circle cx="165.5" cy="142.9" r="1.75"/>
<circle cx="172.0" cy="148.2" r="1.75"/>
<circle cx="172.5" cy="124.8" r="1.75"/>
<circle cx="162.4" cy="74.7" r="1.75"/>
<circle cx="176.4" cy="60.8" r="1.75"/>
<circle cx="176.6" cy="97.9" r="1.75"/>
<circle cx="162.0" cy="121.5" r="1.75"/>
<circle cx="180.0" cy="144.6" r="1.75"/>
<circle cx="182.8" cy="107.1" r="1.75"/>
<circle cx="174.5" cy="124.0" r="1.75"/>
<circle cx="163.8" cy="149.8" r="1.75"/>
<circle cx="154.9" cy="94.3" r="1.75"/>
<circle cx="172.9" cy="146.2" r="1.75"/>
<circle cx="181.3" cy="99.7" r="1.75"/>
<circle cx="183.3" cy="67.1" r="1.75"/>
<circle cx="182.4" cy="116.0" r="1.75"/>
<circle cx="171.9" cy="136.6" r="1.75"/>
<circle cx="153.2" cy="138.9" r="1.75"/>
<circle cx="165.4" cy="113.6" r="1.75"/>
<circle cx="152.7" cy="98.2" r="1.75"/>
<circle cx="172.0" cy="106.9" r="1.75"/>
<circle cx="177.9" cy="146.9" r="1.75"/>
<circle cx="181.6" cy="125.6" r="1.75"/>
<circle cx="154.6" cy="143.2" r="1.75"/>
<circle cx="158.6" cy="81.6" r="1.75"/>
<circle cx="181.4" cy="133.6" r="1.75"/>
<circle cx="177.8" cy="70.2" r="1.75"/>
<circle cx="182.6" cy="146.5" r="1.75"/>
<circle cx="179.2" cy="67.7" r="1.75"/>
<circle cx="156.1" cy="51.2" r="1.75"/>
<circle cx="176.5" cy="44.0" r="1.75"/>
<circle cx="183.9" cy="89.8" r="1.75"/>
<circle cx="175.0" cy="96.7" r="1.75"/>
<circle cx="158.3" cy="150.3" r="1.75"/>
<circle cx="156.1" cy="101.6" r="1.75"/>
<circle cx="160.2" cy="126.8" r="1.75"/>
<circle cx="160.6" cy="67.7" r="1.75"/>
<circle cx="164.6" cy="112.6" r="1.75"/>
<circle cx="180.5" cy="100.0" r="1.75"/>
<circle cx="159.9" cy="77.2" r="1.75"/>
<circle cx="178.2" cy="71.3" r="1.75"/>
<circle cx="179.2" cy="146.5" r="1.75"/>
<circle cx="170.5" cy="144.5" r="1.75"/>
<circle cx="182.9" cy="121.2" r="1.75"/>
<circle cx="156.9" cy="125.4" r="1.75"/>
<circle cx="179.8" cy="113.2" r="1.75"/>
<circle cx="179.1" cy="94.6" r="1.75"/>
<circle cx="183.5" cy="69.4" r="1.75"/>
<circle cx="169.2" cy="159.3" r="1.75"/>
<circle cx="157.9" cy="67.3" r="1.75"/>
<circle cx="178.8" cy="128.5" r="1.75"/>
<circle cx="154.1" cy="86.5" r="1.75"/>
<circle cx="174.6" cy="135.9" r="1.75"/>
<circle cx="153.5" cy="89.8" r="1.75"/>
<circle cx="174.3" cy="103.7" r="1.75"/>
<circle cx="178.9" cy="141.9" r="1.75"/>
<circle cx="182.5" cy="143.6" r="1.75"/>
<circle cx="174.4" cy="129.9" r="1.75"/>
<circle cx="172.3" cy="161.2" r="1.75"/>
<circle cx="177.9" cy="69.4" r="1.75"/>
<circle cx="175.5" cy="115.9" r="1.75"/>
<circle cx="154.1" cy="124.8" r="1.75"/>
<circle cx="158.6" cy="60.2" r="1.75"/>
<circle cx="176.5" cy="147.1" r="1.75"/>
<circle cx="160.1" cy="43.1" r="1.75"/>
<circle cx="155.6" cy="150.7" r="1.75"/>
<circle cx="177.0" cy="149.2" r="1.75"/>
<circle cx="155.1" cy="156.8" r="1.75"/>
<circle cx="160.0" cy="84.2" r="1.75"/>
<circle cx="158.8" cy="54.2" r="1.75"/>
<circle cx="180.0" cy="91.6" r="1.75"/>
<circle cx="181.2" cy="123.8" r="1.75"/>
<circle cx="181.6" cy="138.6" r="1.75"/>
<circle cx="183.3" cy="143.4" r="1.75"/>
<circle cx="179.1" cy="65.6" r="1.75"/>
<circle cx="154.1" cy="107.1" r="1.75"/>
<circle cx="162.9" cy="93.4" r="1.75"/>
<circle cx="182.1" cy="106.9" r="1.75"/>
<circle cx="158.9" cy="108.3" r="1.75"/>
<circle cx="152.5" cy="110.4" r="1.75"/>
<circle cx="157.1" cy="75.6" r="1.75"/>
<circle cx="175.4" cy="96.6" r="1.75"/>
<circle cx="163.1" cy="153.5" r="1.75"/>
<circle cx="162.9" cy="83.4" r="1.75"/>
<circle cx="158.5" cy="64.5" r="1.75"/>
<circle cx="173.1" cy="151.6" r="1.75"/>
<circle cx="162.5" cy="154.9" r="1.75"/>
<circle cx="161.9" cy="96.7" r="1.75"/>
<circle cx="178.3" cy="57.6" r="1.75"/>
<circle cx="180.6" cy="79.9" r="1.75"/>
<circle cx="153.6" cy="84.1" r="1.75"/>
<circle cx="177.6" cy="159.4" r="1.75"/>
<circle cx="154.6" cy="57.1" r="1.75"/>
<circle cx="181.7" cy="110.6" r="1.75"/>
<circle cx="177.4" cy="34.1" r="1.75"/>
<circle cx="181.8" cy="131.1" r="1.75"/>
<circle cx="172.4" cy="90.4" r="1.75"/>
<circle cx="180.3" cy="123.8" r="1.75"/>
<circle cx="180.0" cy="97.1" r="1.75"/>
<circle cx="158.0" cy="55.7" r="1.75"/>
<circle cx="180.4" cy="147.4" r="1.75"/>
<circle cx="165.3" cy="144.4" r="1.75"/>
<circle cx="160.9" cy="124.8" r="1.75"/>
<circle cx="182.8" cy="80.0" r="1.75"/>
<circle cx="157.5" cy="159.4" r="1.75"/>
<circle cx="167.8" cy="157.8" r="1.75"/>
<circle cx="162.0" cy="130.6" r="1.75"/>
<circle cx="156.6" cy="77.5" r="1.75"/>
<circle cx="176.0" cy="111.5" r="1.75"/>
<circle cx="171.5" cy="141.9" r="1.75"/>
<circle cx="161.9" cy="156.4" r="1.75"/>
<circle cx="156.0" cy="89.1" r="1.75"/>
<circle cx="160.5" cy="99.7" r="1.75"/>
<circle cx="172.7" cy="144.2" r="1.75"/>
<circle cx="177.2" cy="46.1" r="1.75"/>
<circle cx="178.0" cy="50.4" r="1.75"/>
<circle cx="161.4" cy="103.6" r="1.75"/>
<circle cx="153.5" cy="82.2" r="1.75"/>
<circle cx="182.3" cy="74.2" r="1.75"/>
<circle cx="154.2" cy="115.3" r="1.75"/>
<circle cx="154.1" cy="155.0" r="1.75"/>
<circle cx="158.6" cy="117.6" r="1.75"/>
<circle cx="182.0" cy="149.8" r="1.75"/>
<circle cx="174.4" cy="59.2" r="1.75"/>
<circle cx="159.2" cy="75.1" r="1.75"/>
<circle cx="180.9" cy="155.3" r="1.75"/>
<circle cx="172.5" cy="130.9" r="1.75"/>
<circle cx="159.0" cy="101.4" r="1.75"/>
<circle cx="154.6" cy="153.0" r="1.75"/>
<circle cx="159.3" cy="155.2" r="1.75"/>
<circle cx="177.0" cy="140.3" r="1.75"/>
<circle cx="155.5" cy="122.7" r="1.75"/>
<circle cx="175.5" cy="78.7" r="1.75"/>
<circle cx="166.1" cy="158.9" r="1.75"/>
<circle cx="179.9" cy="100.7" r="1.75"/>
<circle cx="157.2" cy="117.6" r="1.75"/>
<circle cx="154.3" cy="75.0" r="1.75"/>
<circle cx="181.9" cy="130.8" r="1.75"/>
<circle cx="180.0" cy="67.4" r="1.75"/>
<circle cx="154.5" cy="66.2" r="1.75"/>
<circle cx="156.8" cy="78.3" r="1.75"/>
<circle cx="159.4" cy="108.9" r="1.75"/>
<circle cx="163.0" cy="158.8" r="1.75"/>
<circle cx="183.7" cy="126.6" r="1.75"/>
<circle cx="152.6" cy="119.9" r="1.75"/>
<circle cx="182.2" cy="126.4" r="1.75"/>
<circle cx="152.9" cy="93.2" r="1.75"/>
<circle cx="179.6" cy="144.7" r="1.75"/>
<circle cx="153.9" cy="94.7" r="1.75"/>
<circle cx="183.4" cy="64.8" r="1.75"/>
<circle cx="183.1" cy="71.9" r="1.75"/>
<circle cx="158.2" cy="55.4" r="1.75"/>
<circle cx="154.5" cy="78.3" r="1.75"/>
<circle cx="176.0" cy="113.4" r="1.75"/>
<circle cx="159.0" cy="73.5" r="1.75"/>
<circle cx="172.0" cy="156.4" r="1.75"/>
<circle cx="179.0" cy="116.9" r="1.75"/>
<circle cx="161.5" cy="121.3" r="1.75"/>
<circle cx="161.3" cy="97.7" r="1.75"/>
<circle cx="177.3" cy="113.1" r="1.75"/>
<circle cx="183.9" cy="92.4" r="1.75"/>
<circle cx="180.1" cy="125.0" r="1.75"/>
<circle cx="154.9" cy="106.0" r="1.75"/>
<circle cx="161.8" cy="94.5" r="1.75"/>
<circle cx="178.0" cy="112.6" r="1.75"/>
<circle cx="154.2" cy="151.3" r="1.75"/>
<circle cx="159.0" cy="81.6" r="1.75"/>
<circle cx="160.5" cy="66.5" r="1.75"/>
<circle cx="174.4" cy="123.9" r="1.75"/>
<circle cx="175.1" cy="111.8" r="1.75"/>
<circle cx="177.4" cy="38.4" r="1.75"/>
<circle cx="185.0" cy="146.7" r="1.75"/>
<circle cx="151.9" cy="68.1" r="1.75"/>
<circle cx="164.1" cy="155.0" r="1.75"/>
<circle cx="155.3" cy="98.1" r="1.75"/>
<circle cx="174.5" cy="87.3" r="1.75"/>
<circle cx="180.1" cy="136.1" r="1.75"/>
<circle cx="161.8" cy="155.2" r="1.75"/>
<circle cx="182.6" cy="140.6" r="1.75"/>
<circle cx="182.7" cy="61.4" r="1.75"/>
<circle cx="174.4" cy="102.1" r="1.75"/>
<circle cx="156.8" cy="103.0" r="1.75"/>
<circle cx="184.0" cy="81.3" r="1.75"/>
<circle cx="153.1" cy="144.3" r="1.75"/>
<circle cx="182.5" cy="114.6" r="1.75"/>
<circle cx="181.1" cy="115.3" r="1.75"/>
<circle cx="153.6" cy="107.4" r="1.75"/>
<circle cx="180.8" cy="112.1" r="1.75"/>
<circle cx="178.3" cy="60.8" r="1.75"/>
<circle cx="175.3" cy="121.6" r="1.75"/>
<circle cx="178.5" cy="149.0" r="1.75"/>
<circle cx="156.3" cy="81.0" r="1.75"/>
<circle cx="156.3" cy="148.3" r="1.75"/>
<circle cx="170.6" cy="159.8" r="1.75"/>
<circle cx="155.5" cy="84.3" r="1.75"/>
<circle cx="152.4" cy="103.6" r="1.75"/>
<circle cx="153.0" cy="117.2" r="1.75"/>
<circle cx="182.0" cy="62.1" r="1.75"/>
<circle cx="156.9" cy="84.6" r="1.75"/>
<circle cx="155.8" cy="38.1" r="1.75"/>
<circle cx="163.0" cy="154.7" r="1.75"/>
<circle cx="182.3" cy="96.4" r="1.75"/>
<circle cx="152.4" cy="80.3" r="1.75"/>
<circle cx="158.3" cy="41.6" r="1.75"/>
<circle cx="173.8" cy="143.0" r="1.75"/>
<circle cx="165.4" cy="129.1" r="1.75"/>
<circle cx="176.5" cy="84.7" r="1.75"/>
<circle cx="159.0" cy="57.8" r="1.75"/>
<circle cx="183.0" cy="155.5" r="1.75"/>
<circle cx="153.7" cy="90.5" r="1.75"/>
<circle cx="161.7" cy="160.4" r="1.75"/>
<circle cx="160.6" cy="112.3" r="1.75"/>
<circle cx="178.4" cy="135.8" r="1.75"/>
<circle cx="183.5" cy="107.2" r="1.75"/>
<circle cx="176.2" cy="124.6" r="1.75"/>
<circle cx="183.8" cy="77.6" r="1.75"/>
<circle cx="162.2" cy="124.1" r="1.75"/>
<circle cx="154.6" cy="108.1" r="1.75"/>
<circle cx="178.4" cy="66.7" r="1.75"/>
<circle cx="182.0" cy="140.5" r="1.75"/>
<circle cx="176.4" cy="94.8" r="1.75"/>
<circle cx="180.6" cy="86.1" r="1.75"/>
<circle cx="156.6" cy="80.3" r="1.75"/>
<circle cx="178.5" cy="78.0" r="1.75"/>
<circle cx="171.8" cy="134.5" r="1.75"/>
<circle cx="153.7" cy="57.9" r="1.75"/>
<circle cx="170.3" cy="136.0" r="1.75"/>
<circle cx="183.6" cy="98.8" r="1.75"/>
<circle cx="177.3" cy="131.0" r="1.75"/>
<circle cx="159.2" cy="115.5" r="1.75"/>
<circle cx="180.9" cy="59.8" r="1.75"/>
<circle cx="154.3" cy="95.6" r="1.75"/>
<circle cx="157.4" cy="64.2" r="1.75"/>
<circle cx="177.6" cy="92.8" r="1.75"/>
<circle cx="179.6" cy="134.3" r="1.75"/>
<circle cx="180.2" cy="113.7" r="1.75"/>
<circle cx="176.6" cy="125.4" r="1.75"/>
<circle cx="158.1" cy="66.8" r="1.75"/>
<circle cx="179.6" cy="116.9" r="1.75"/>
<circle cx="166.9" cy="161.1" r="1.75"/>
<circle cx="176.1" cy="157.4" r="1.75"/>
<circle cx="152.9" cy="71.4" r="1.75"/>
<circle cx="167.9" cy="160.7" r="1.75"/>
<circle cx="172.8" cy="118.0" r="1.75"/>
<circle cx="182.6" cy="48.3" r="1.75"/>
<circle cx="180.2" cy="140.8" r="1.75"/>
<circle cx="162.8" cy="69.9" r="1.75"/>
<circle cx="152.3" cy="111.9" r="1.75"/>
<circle cx="163.1" cy="160.7" r="1.75"/>
<circle cx="160.9" cy="46.5" r="1.75"/>
<circle cx="172.7" cy="86.5" r="1.75"/>
<circle cx="183.9" cy="77.1" r="1.75"/>
<circle cx="161.5" cy="52.5" r="1.75"/>
<circle cx="179.6" cy="98.3" r="1.75"/>
<circle cx="181.6" cy="59.6" r="1.75"/>
<circle cx="179.5" cy="116.5" r="1.75"/>
<circle cx="162.7" cy="102.1" r="1.75"/>
<circle cx="179.2" cy="154.2" r="1.75"/>
<circle cx="178.5" cy="131.5" r="1.75"/>
<circle cx="153.6" cy="104.1" r="1.75"/>
<circle cx="162.2" cy="69.6" r="1.75"/>
<circle cx="152.1" cy="117.5" r="1.75"/>
<circle cx="173.1" cy="77.6" r="1.75"/>
<circle cx="156.8" cy="142.9" r="1.75"/>
<circle cx="160.2" cy="142.3" r="1.75"/>
<circle cx="162.2" cy="131.6" r="1.75"/>
<circle cx="153.7" cy="114.3" r="1.75"/>
<circle cx="159.4" cy="54.3" r="1.75"/>
<circle cx="179.0" cy="131.5" r="1.75"/>
<circle cx="180.3" cy="144.3" r="1.75"/>
<circle cx="153.2" cy="70.2" r="1.75"/>
<circle cx="161.2" cy="150.3" r="1.75"/>
<circle cx="183.7" cy="132.3" r="1.75"/>
<circle cx="174.3" cy="123.6" r="1.75"/>
<circle cx="175.8" cy="106.0" r="1.75"/>
<circle cx="183.1" cy="68.5" r="1.75"/>
<circle cx="176.3" cy="52.2" r="1.75"/>
<circle cx="179.9" cy="150.1" r="1.75"/>
<circle cx="171.1" cy="148.6" r="1.75"/>
<circle cx="154.1" cy="79.3" r="1.75"/>
<circle cx="176.3" cy="126.5" r="1.75"/>
<circle cx="185.4" cy="100.0" r="1.75"/>
<circle cx="177.2" cy="57.4" r="1.75"/>
<circle cx="154.1" cy="78.9" r="1.75"/>
<circle cx="156.0" cy="129.2" r="1.75"/>
<circle cx="179.7" cy="45.3" r="1.75"/>
<circle cx="163.5" cy="109.5" r="1.75"/>
<circle cx="158.1" cy="91.1" r="1.75"/>
<circle cx="171.7" cy="110.8" r="1.75"/>
<circle cx="158.8" cy="80.2" r="1.75"/>
<circle cx="163.3" cy="115.0" r="1.75"/>
<circle cx="160.1" cy="131.4" r="1.75"/>
<circle cx="177.1" cy="77.9" r="1.75"/>
<circle cx="178.0" cy="156.1" r="1.75"/>
<circle cx="153.1" cy="151.6" r="1.75"/>
<circle cx="174.8" cy="107.8" r="1.75"/>
<circle cx="182.1" cy="122.0" r="1.75"/>
<circle cx="180.6" cy="150.4" r="1.75"/>
<circle cx="178.8" cy="46.3" r="1.75"/>
<circle cx="165.1" cy="123.9" r="1.75"/>
<circle cx="177.6" cy="137.5" r="1.75"/>
<circle cx="152.8" cy="93.4" r="1.75"/>
<circle cx="181.1" cy="56.4" r="1.75"/>
<circle cx="163.5" cy="154.0" r="1.75"/>
<circle cx="172.2" cy="141.4" r="1.75"/>
<circle cx="153.3" cy="57.2" r="1.75"/>
<circle cx="162.7" cy="105.0" r="1.75"/>
<circle cx="177.7" cy="87.9" r="1.75"/>
<circle cx="174.3" cy="146.1" r="1.75"/>
<circle cx="178.4" cy="72.7" r="1.75"/>
<circle cx="161.8" cy="154.4" r="1.75"/>
<circle cx="180.6" cy="57.4" r="1.75"/>
<circle cx="156.4" cy="147.1" r="1.75"/>
<circle cx="162.0" cy="143.9" r="1.75"/>
<circle cx="182.5" cy="69.0" r="1.75"/>
<circle cx="180.2" cy="50.8" r="1.75"/>
<circle cx="154.2" cy="144.1" r="1.75"/>
<circle cx="171.4" cy="159.8" r="1.75"/>
<circle cx="157.1" cy="123.0" r="1.75"/>
<circle cx="179.6" cy="73.1" r="1.75"/>
<circle cx="174.0" cy="144.8" r="1.75"/>
<circle cx="175.2" cy="109.6" r="1.75"/>
<circle cx="152.6" cy="79.3" r="1.75"/>
<circle cx="177.8" cy="68.7" r="1.75"/>
<circle cx="156.6" cy="92.7" r="1.75"/>
<circle cx="156.8" cy="70.0" r="1.75"/>
<circle cx="176.1" cy="84.1" r="1.75"/>
<circle cx="153.7" cy="151.0" r="1.75"/>
<circle cx="158.2" cy="62.9" r="1.75"/>
<circle cx="160.0" cy="76.5" r="1.75"/>
<circle cx="183.8" cy="156.7" r="1.75"/>
<circle cx="158.1" cy="93.3" r="1.75"/>
<circle cx="166.2" cy="161.0" r="1.75"/>
<circle cx="178.5" cy="148.6" r="1.75"/>
<circle cx="156.5" cy="66.7" r="1.75"/>
<circle cx="178.2" cy="154.9" r="1.75"/>
<circle cx="182.3" cy="137.5" r="1.75"/>
<circle cx="174.9" cy="148.6" r="1.75"/>
<circle cx="178.6" cy="140.4" r="1.75"/>
<circle cx="177.0" cy="34.3" r="1.75"/>
<circle cx="155.4" cy="113.2" r="1.75"/>
<circle cx="183.6" cy="150.3" r="1.75"/>
<circle cx="179.9" cy="90.0" r="1.75"/>
<circle cx="178.7" cy="114.0" r="1.75"/>
<circle cx="178.0" cy="121.4" r="1.75"/>
<circle cx="151.6" cy="65.9" r="1.75"/>
<circle cx="152.7" cy="122.6" r="1.75"/>
<circle cx="180.7" cy="48.6" r="1.75"/>
<circle cx="174.5" cy="91.4" r="1.75"/>
<circle cx="178.9" cy="116.4" r="1.75"/>
<circle cx="158.3" cy="58.4" r="1.75"/>
<circle cx="179.5" cy="155.6" r="1.75"/>
<circle cx="156.8" cy="138.4" r="1.75"/>
<circle cx="179.4" cy="53.8" r="1.75"/>
<circle cx="154.9" cy="124.4" r="1.75"/>
<circle cx="173.7" cy="90.3" r="1.75"/>
<circle cx="174.8" cy="109.4" r="1.75"/>
<circle cx="183.3" cy="64.1" r="1.75"/>
<circle cx="151.5" cy="86.7" r="1.75"/>
<circle cx="152.7" cy="50.8" r="1.75"/>
<circle cx="180.4" cy="153.7" r="1.75"/>
<circle cx="179.3" cy="104.9" r="1.75"/>
<circle cx="172.4" cy="114.0" r="1.75"/>
<circle cx="159.7" cy="150.3" r="1.75"/>
<circle cx="181.9" cy="69.2" r="1.75"/>
<circle cx="182.0" cy="57.4" r="1.75"/>
<circle cx="153.4" cy="70.1" r="1.75"/>
<circle cx="175.6" cy="48.0" r="1.75"/>
<circle cx="160.4" cy="152.4" r="1.75"/>
<circle cx="152.3" cy="69.9" r="1.75"/>
<circle cx="157.9" cy="121.1" r="1.75"/>
<circle cx="153.1" cy="152.7" r="1.75"/>
<circle cx="155.2" cy="154.8" r="1.75"/>
<circle cx="156.9" cy="98.2" r="1.75"/>
<circle cx="160.0" cy="120.6" r="1.75"/>
<circle cx="178.6" cy="56.7" r="1.75"/>
<circle cx="177.6" cy="98.5" r="1.75"/>
<circle cx="155.5" cy="58.7" r="1.75"/>
<circle cx="160.4" cy="57.2" r="1.75"/>
<circle cx="175.7" cy="134.7" r="1.75"/>
<circle cx="162.0" cy="125.7" r="1.75"/>
<circle cx="177.6" cy="99.2" r="1.75"/>
<circle cx="171.0" cy="148.0" r="1.75"/>
<circle cx="175.6" cy="107.2" r="1.75"/>
<circle cx="182.1" cy="130.9" r="1.75"/>
<circle cx="153.5" cy="39.8" r="1.75"/>
<circle cx="159.3" cy="71.5" r="1.75"/>
<circle cx="183.2" cy="143.6" r="1.75"/>
<circle cx="156.0" cy="118.7" r="1.75"/>
<circle cx="157.5" cy="80.9" r="1.75"/>
<circle cx="153.6" cy="85.5" r="1.75"/>
<circle cx="164.7" cy="127.6" r="1.75"/>
<circle cx="158.5" cy="58.6" r="1.75"/>
<circle cx="173.7" cy="80.6" r="1.75"/>
<circle cx="159.0" cy="111.0" r="1.75"/>
<circle cx="162.9" cy="73.9" r="1.75"/>
<circle cx="176.4" cy="54.7" r="1.75"/>
<circle cx="181.1" cy="66.6" r="1.75"/>
<circle cx="173.3" cy="85.6" r="1.75"/>
<circle cx="157.2" cy="129.9" r="1.75"/>
<circle cx="155.7" cy="129.5" r="1.75"/>
<circle cx="181.9" cy="62.3" r="1.75"/>
<circle cx="182.6" cy="123.4" r="1.75"/>
<circle cx="179.1" cy="62.9" r="1.75"/>
<circle cx="172.2" cy="104.0" r="1.75"/>
<circle cx="158.5" cy="159.4" r="1.75"/>
<circle cx="155.7" cy="148.5" r="1.75"/>
<circle cx="184.4" cy="101.8" r="1.75"/>
<circle cx="162.5" cy="87.7" r="1.75"/>
<circle cx="157.0" cy="110.1" r="1.75"/>
<circle cx="173.0" cy="134.7" r="1.75"/>
<circle cx="177.8" cy="112.7" r="1.75"/>
<circle cx="158.5" cy="117.5" r="1.75"/>
<circle cx="179.7" cy="58.9" r="1.75"/>
<circle cx="165.8" cy="159.6" r="1.75"/>
<circle cx="154.2" cy="152.0" r="1.75"/>
<circle cx="159.8" cy="86.3" r="1.75"/>
<circle cx="158.0" cy="127.5" r="1.75"/>
<circle cx="180.4" cy="67.4" r="1.75"/>
<circle cx="182.7" cy="134.8" r="1.75"/>
<circle cx="158.8" cy="152.2" r="1.75"/>
<circle cx="158.3" cy="121.1" r="1.75"/>
<circle cx="159.4" cy="84.4" r="1.75"/>
<circle cx="152.5" cy="108.1" r="1.75"/>
<circle cx="170.3" cy="132.2" r="1.75"/>
<circle cx="158.6" cy="143.3" r="1.75"/>
<circle cx="162.2" cy="111.1" r="1.75"/>
<circle cx="159.3" cy="79.4" r="1.75"/>
<circle cx="178.6" cy="129.4" r="1.75"/>
<circle cx="180.0" cy="41.4" r="1.75"/>
<circle cx="179.7" cy="69.7" r="1.75"/>
<circle cx="170.0" cy="141.0" r="1.75"/>
<circle cx="179.0" cy="69.7" r="1.75"/>
<circle cx="177.6" cy="52.7" r="1.75"/>
<circle cx="158.5" cy="75.9" r="1.75"/>
<circle cx="151.2" cy="122.3" r="1.75"/>
<circle cx="176.9" cy="69.8" r="1.75"/>
<circle cx="174.5" cy="150.8" r="1.75"/>
<circle cx="180.4" cy="33.5" r="1.75"/>
<circle cx="185.3" cy="93.8" r="1.75"/>
<circle cx="182.6" cy="103.3" r="1.75"/>
<circle cx="181.6" cy="61.5" r="1.75"/>
<circle cx="169.4" cy="160.2" r="1.75"/>
<circle cx="153.7" cy="124.3" r="1.75"/>
<circle cx="158.5" cy="124.0" r="1.75"/>
<circle cx="159.1" cy="62.6" r="1.75"/>
<circle cx="163.4" cy="146.0" r="1.75"/>
<circle cx="175.3" cy="58.3" r="1.75"/>
<circle cx="154.1" cy="77.1" r="1.75"/>
<circle cx="157.2" cy="79.7" r="1.75"/>
<circle cx="166.0" cy="159.2" r="1.75"/>
<circle cx="180.4" cy="115.6" r="1.75"/>
<circle cx="158.5" cy="105.2" r="1.75"/>
<circle cx="180.5" cy="115.5" r="1.75"/>
<circle cx="171.8" cy="134.9" r="1.75"/>
<circle cx="181.0" cy="74.6" r="1.75"/>
<circle cx="159.9" cy="152.2" r="1.75"/>
<circle cx="176.5" cy="83.3" r="1.75"/>
<circle cx="163.5" cy="121.5" r="1.75"/>
<circle cx="182.8" cy="109.1" r="1.75"/>
<circle cx="177.3" cy="151.7" r="1.75"/>
<circle cx="158.5" cy="62.5" r="1.75"/>
<circle cx="166.5" cy="148.1" r="1.75"/>
<circle cx="174.8" cy="66.9" r="1.75"/>
<circle cx="166.7" cy="154.6" r="1.75"/>
<circle cx="156.7" cy="147.6" r="1.75"/>
<circle cx="155.1" cy="63.8" r="1.75"/>
<circle cx="151.6" cy="61.1" r="1.75"/>
<circle cx="179.2" cy="75.7" r="1.75"/>
<circle cx="182.5" cy="130.3" r="1.75"/>
<circle cx="178.9" cy="57.0" r="1.75"/>
<circle cx="178.9" cy="87.5" r="1.75"/>
<circle cx="162.0" cy="144.0" r="1.75"/>
<circle cx="174.2" cy="107.5" r="1.75"/>
<circle cx="158.6" cy="70.1" r="1.75"/>
<circle cx="161.2" cy="140.4" r="1.75"/>
<circle cx="175.1" cy="94.1" r="1.75"/>
<circle cx="160.1" cy="107.8" r="1.75"/>
<circle cx="162.4" cy="135.6" r="1.75"/>
<circle cx="153.7" cy="61.9" r="1.75"/>
<circle cx="180.8" cy="118.7" r="1.75"/>
<circle cx="157.4" cy="81.8" r="1.75"/>
<circle cx="181.8" cy="75.5" r="1.75"/>
<circle cx="158.5" cy="135.2" r="1.75"/>
<circle cx="161.9" cy="149.5" r="1.75"/>
<circle cx="171.5" cy="140.9" r="1.75"/>
<circle cx="156.3" cy="45.6" r="1.75"/>
<circle cx="159.4" cy="50.6" r="1.75"/>
<circle cx="155.2" cy="138.9" r="1.75"/>
<circle cx="161.8" cy="57.1" r="1.75"/>
<circle cx="158.0" cy="68.5" r="1.75"/>
<circle cx="179.8" cy="86.1" r="1.75"/>
<circle cx="157.9" cy="86.6" r="1.75"/>
<circle cx="160.4" cy="112.7" r="1.75"/>
<circle cx="155.0" cy="95.1" r="1.75"/>
<circle cx="179.8" cy="105.2" r="1.75"/>
<circle cx="153.3" cy="66.6" r="1.75"/>
<circle cx="181.7" cy="65.2" r="1.75"/>
<circle cx="171.4" cy="141.9" r="1.75"/>
<circle cx="177.2" cy="59.1" r="1.75"/>
<circle cx="182.1" cy="90.7" r="1.75"/>
<circle cx="169.7" cy="159.4" r="1.75"/>
<circle cx="182.6" cy="100.6" r="1.75"/>
<circle cx="175.5" cy="144.4" r="1.75"/>
<circle cx="153.4" cy="131.0" r="1.75"/>
<circle cx="155.0" cy="80.3" r="1.75"/>
<circle cx="167.6" cy="161.3" r="1.75"/>
<circle cx="171.6" cy="117.9" r="1.75"/>
<circle cx="160.4" cy="145.3" r="1.75"/>
<circle cx="184.1" cy="135.2" r="1.75"/>
<circle cx="180.3" cy="48.6" r="1.75"/>
<circle cx="155.8" cy="73.7" r="1.75"/>
<circle cx="159.9" cy="106.4" r="1.75"/>
<circle cx="182.2" cy="88.0" r="1.75"/>
<circle cx="162.0" cy="106.0" r="1.75"/>
<circle cx="170.4" cy="135.9" r="1.75"/>
<circle cx="182.1" cy="34.3" r="1.75"/>
<circle cx="180.1" cy="37.2" r="1.75"/>
<circle cx="155.8" cy="48.7" r="1.75"/>
<circle cx="174.3" cy="135.3" r="1.75"/>
<circle cx="161.7" cy="63.8" r="1.75"/>
<circle cx="176.4" cy="120.8" r="1.75"/>
<circle cx="153.9" cy="58.2" r="1.75"/>
<circle cx="160.3" cy="155.1" r="1.75"/>
<circle cx="182.8" cy="82.7" r="1.75"/>
<circle cx="152.9" cy="85.0" r="1.75"/>
<circle cx="179.0" cy="90.9" r="1.75"/>
<circle cx="163.8" cy="142.3" r="1.75"/>
<circle cx="163.1" cy="141.7" r="1.75"/>
<circle cx="154.8" cy="69.0" r="1.75"/>
<circle cx="156.4" cy="76.9" r="1.75"/>
<circle cx="153.5" cy="112.7" r="1.75"/>
<circle cx="172.7" cy="90.0" r="1.75"/>
<circle cx="183.8" cy="90.1" r="1.75"/>
<circle cx="162.2" cy="102.5" r="1.75"/>
<circle cx="157.7" cy="34.2" r="1.75"/>
<circle cx="161.9" cy="122.7" r="1.75"/>
<circle cx="155.8" cy="116.4" r="1.75"/>
<circle cx="159.1" cy="44.5" r="1.75"/>
<circle cx="158.8" cy="54.7" r="1.75"/>
<circle cx="182.3" cy="151.7" r="1.75"/>
<circle cx="156.4" cy="131.3" r="1.75"/>
<circle cx="180.6" cy="75.1" r="1.75"/>
<circle cx="178.1" cy="90.8" r="1.75"/>
<circle cx="183.3" cy="75.0" r="1.75"/>
<circle cx="179.8" cy="152.1" r="1.75"/>
<circle cx="178.5" cy="129.1" r="1.75"/>
<circle cx="179.7" cy="122.9" r="1.75"/>
<circle cx="153.6" cy="98.0" r="1.75"/>
<circle cx="165.7" cy="118.1" r="1.75"/>
<circle cx="158.2" cy="62.0" r="1.75"/>
<circle cx="162.1" cy="141.0" r="1.75"/>
<circle cx="180.0" cy="106.5" r="1.75"/>
<circle cx="153.1" cy="57.3" r="1.75"/>
<circle cx="164.7" cy="158.8" r="1.75"/>
<circle cx="152.4" cy="85.1" r="1.75"/>
<circle cx="180.5" cy="32.9" r="1.75"/>
<circle cx="183.4" cy="68.4" r="1.75"/>
<circle cx="151.2" cy="144.4" r="1.75"/>
<circle cx="181.4" cy="51.8" r="1.75"/>
<circle cx="178.8" cy="152.9" r="1.75"/>
<circle cx="182.4" cy="54.6" r="1.75"/>
<circle cx="160.6" cy="107.8" r="1.75"/>
<circle cx="152.4" cy="104.4" r="1.75"/>
<circle cx="156.1" cy="88.4" r="1.75"/>
<circle cx="177.0" cy="148.2" r="1.75"/>
<circle cx="159.4" cy="157.1" r="1.75"/>
<circle cx="178.2" cy="122.1" r="1.75"/>
<circle cx="161.1" cy="149.2" r="1.75"/>
<circle cx="178.2" cy="67.1" r="1.75"/>
<circle cx="155.9" cy="95.4" r="1.75"/>
<circle cx="174.4" cy="153.4" r="1.75"/>
<circle cx="163.2" cy="118.8" r="1.75"/>
<circle cx="161.7" cy="128.7" r="1.75"/>
<circle cx="158.7" cy="63.5" r="1.75"/>
<circle cx="155.4" cy="141.9" r="1.75"/>
<circle cx="154.0" cy="100.3" r="1.75"/>
<circle cx="179.7" cy="141.0" r="1.75"/>
<circle cx="182.8" cy="50.8" r="1.75"/>
<circle cx="184.3" cy="114.6" r="1.75"/>
<circle cx="158.1" cy="71.4" r="1.75"/>
<circle cx="160.0" cy="129.3" r="1.75"/>
<circle cx="176.4" cy="116.3" r="1.75"/>
<circle cx="181.8" cy="100.1" r="1.75"/>
<circle cx="164.1" cy="84.2" r="1.75"/>
<circle cx="155.6" cy="26.2" r="1.75"/>
<circle cx="153.2" cy="63.7" r="1.75"/>
<circle cx="179.2" cy="92.0" r="1.75"/>
<circle cx="181.8" cy="92.4" r="1.75"/>
<circle cx="153.4" cy="106.9" r="1.75"/>
<circle cx="157.3" cy="106.0" r="1.75"/>
<circle cx="182.8" cy="100.3" r="1.75"/>
<circle cx="157.1" cy="56.7" r="1.75"/>
<circle cx="183.9" cy="95.0" r="1.75"/>
<circle cx="177.4" cy="49.5" r="1.75"/>
<circle cx="179.3" cy="63.0" r="1.75"/>
<circle cx="155.7" cy="68.1" r="1.75"/>
<circle cx="178.4" cy="67.6" r="1.75"/>
<circle cx="153.8" cy="108.7" r="1.75"/>
<circle cx="178.6" cy="152.5" r="1.75"/>
<circle cx="179.7" cy="68.2" r="1.75"/>
<circle cx="179.5" cy="129.6" r="1.75"/>
<circle cx="156.2" cy="96.5" r="1.75"/>
<circle cx="162.0" cy="134.5" r="1.75"/>
<circle cx="174.9" cy="54.0" r="1.75"/>
<circle cx="182.7" cy="77.2" r="1.75"/>
<circle cx="175.5" cy="160.0" r="1.75"/>
<circle cx="178.8" cy="74.9" r="1.75"/>
<circle cx="159.9" cy="78.1" r="1.75"/>
<circle cx="158.8" cy="155.9" r="1.75"/>
<circle cx="173.3" cy="119.4" r="1.75"/>
<circle cx="171.7" cy="155.0" r="1.75"/>
<circle cx="164.4" cy="154.3" r="1.75"/>
<circle cx="159.8" cy="101.9" r="1.75"/>
<circle cx="182.1" cy="76.6" r="1.75"/>
<circle cx="183.8" cy="117.7" r="1.75"/>
<circle cx="154.1" cy="111.4" r="1.75"/>
<circle cx="157.0" cy="134.1" r="1.75"/>
<circle cx="155.0" cy="49.2" r="1.75"/>
<circle cx="160.5" cy="129.2" r="1.75"/>
<circle cx="158.7" cy="95.0" r="1.75"/>
<circle cx="158.7" cy="133.0" r="1.75"/>
<circle cx="181.0" cy="153.8" r="1.75"/>
<circle cx="171.5" cy="123.2" r="1.75"/>
<circle cx="162.5" cy="89.8" r="1.75"/>
<circle cx="154.9" cy="146.9" r="1.75"/>
<circle cx="179.4" cy="101.7" r="1.75"/>
<circle cx="182.9" cy="96.0" r="1.75"/>
<circle cx="181.9" cy="124.6" r="1.75"/>
<circle cx="179.4" cy="96.4" r="1.75"/>
<circle cx="155.5" cy="71.0" r="1.75"/>
<circle cx="163.2" cy="129.5" r="1.75"/>
<circle cx="159.9" cy="83.0" r="1.75"/>
<circle cx="160.3" cy="148.0" r="1.75"/>
<circle cx="161.2" cy="137.1" r="1.75"/>
<circle cx="157.6" cy="150.9" r="1.75"/>
<circle cx="183.4" cy="51.6" r="1.75"/>
<circle cx="177.7" cy="98.0" r="1.75"/>
<circle cx="160.6" cy="124.3" r="1.75"/>
<circle cx="178.2" cy="110.2" r="1.75"/>
<circle cx="151.4" cy="146.0" r="1.75"/>
<circle cx="172.1" cy="122.1" r="1.75"/>
<circle cx="151.6" cy="120.2" r="1.75"/>
<circle cx="174.4" cy="61.1" r="1.75"/>
<circle cx="156.1" cy="61.6" r="1.75"/>
<circle cx="151.6" cy="145.9" r="1.75"/>
<circle cx="154.1" cy="54.9" r="1.75"/>
<circle cx="178.9" cy="157.9" r="1.75"/>
<circle cx="161.6" cy="70.6" r="1.75"/>
<circle cx="152.8" cy="136.9" r="1.75"/>
<circle cx="183.4" cy="120.9" r="1.75"/>
<circle cx="182.7" cy="56.5" r="1.75"/>
<circle cx="160.7" cy="52.7" r="1.75"/>
<circle cx="152.7" cy="68.1" r="1.75"/>
<circle cx="173.5" cy="96.6" r="1.75"/>
<circle cx="156.4" cy="30.6" r="1.75"/>
<circle cx="184.9" cy="132.8" r="1.75"/>
<circle cx="179.9" cy="66.1" r="1.75"/>
<circle cx="160.4" cy="60.4" r="1.75"/>
<circle cx="163.0" cy="95.2" r="1.75"/>
<circle cx="181.4" cy="56.0" r="1.75"/>
<circle cx="179.8" cy="132.5" r="1.75"/>
<circle cx="175.4" cy="134.5" r="1.75"/>
<circle cx="157.1" cy="33.9" r="1.75"/>
<circle cx="160.1" cy="99.0" r="1.75"/>
<circle cx="154.1" cy="95.8" r="1.75"/>
<circle cx="156.3" cy="51.2" r="1.75"/>
<circle cx="183.8" cy="52.2" r="1.75"/>
<circle cx="152.9" cy="79.1" r="1.75"/>
<circle cx="175.8" cy="153.4" r="1.75"/>
<circle cx="154.7" cy="80.8" r="1.75"/>
<circle cx="173.2" cy="135.1" r="1.75"/>
<circle cx="178.5" cy="110.7" r="1.75"/>
<circle cx="156.0" cy="84.6" r="1.75"/>
<circle cx="181.2" cy="115.4" r="1.75"/>
<circle cx="183.8" cy="59.7" r="1.75"/>
<circle cx="175.5" cy="125.9" r="1.75"/>
<circle cx="155.1" cy="48.0" r="1.75"/>
<circle cx="156.5" cy="85.8" r="1.75"/>
<circle cx="180.0" cy="71.4" r="1.75"/>
<circle cx="152.8" cy="62.2" r="1.75"/>
<circle cx="156.1" cy="141.7" r="1.75"/>
<circle cx="178.8" cy="103.5" r="1.75"/>
<circle cx="180.9" cy="38.8" r="1.75"/>
<circle cx="158.1" cy="75.3" r="1.75"/>
<circle cx="173.0" cy="148.7" r="1.75"/>
<circle cx="166.2" cy="128.7" r="1.75"/>
<circle cx="174.9" cy="119.7" r="1.75"/>
<circle cx="178.6" cy="102.8" r="1.75"/>
<circle cx="178.4" cy="126.9" r="1.75"/>
<circle cx="178.3" cy="153.2" r="1.75"/>
<circle cx="172.7" cy="108.5" r="1.75"/>
<circle cx="159.6" cy="81.0" r="1.75"/>
<circle cx="178.2" cy="152.6" r="1.75"/>
<circle cx="153.4" cy="52.0" r="1.75"/>
<circle cx="182.3" cy="138.0" r="1.75"/>
<circle cx="155.4" cy="93.7" r="1.75"/>
<circle cx="155.5" cy="118.2" r="1.75"/>
<circle cx="178.5" cy="101.3" r="1.75"/>
<circle cx="153.7" cy="96.9" r="1.75"/>
<circle cx="172.2" cy="94.7" r="1.75"/>
<circle cx="153.5" cy="103.2" r="1.75"/>
<circle cx="162.0" cy="139.6" r="1.75"/>
<circle cx="171.5" cy="136.5" r="1.75"/>
<circle cx="164.7" cy="129.0" r="1.75"/>
<circle cx="158.7" cy="78.1" r="1.75"/>
<circle cx="177.0" cy="96.8" r="1.75"/>
<circle cx="155.8" cy="104.7" r="1.75"/>
<circle cx="156.2" cy="61.9" r="1.75"/>
<circle cx="160.1" cy="111.2" r="1.75"/>
<circle cx="174.8" cy="93.7" r="1.75"/>
<circle cx="178.0" cy="82.7" r="1.75"/>
<circle cx="178.9" cy="111.9" r="1.75"/>
<circle cx="180.0" cy="71.7" r="1.75"/>
<circle cx="183.5" cy="67.3" r="1.75"/>
<circle cx="180.5" cy="105.5" r="1.75"/>
<circle cx="155.8" cy="98.3" r="1.75"/>
<circle cx="159.0" cy="93.8" r="1.75"/>
<circle cx="160.0" cy="125.0" r="1.75"/>
<circle cx="176.7" cy="144.6" r="1.75"/>
<circle cx="163.7" cy="97.3" r="1.75"/>
<circle cx="174.7" cy="114.7" r="1.75"/>
<circle cx="175.2" cy="67.7" r="1.75"/>
<circle cx="153.8" cy="119.3" r="1.75"/>
<circle cx="179.3" cy="121.4" r="1.75"/>
<circle cx="179.6" cy="73.8" r="1.75"/>
<circle cx="153.4" cy="110.3" r="1.75"/>
<circle cx="153.3" cy="66.5" r="1.75"/>
<circle cx="169.9" cy="142.3" r="1.75"/>
<circle cx="179.8" cy="59.2" r="1.75"/>
<circle cx="176.6" cy="56.5" r="1.75"/>
<circle cx="180.4" cy="56.9" r="1.75"/>
<circle cx="162.6" cy="102.0" r="1.75"/>
<circle cx="159.5" cy="143.3" r="1.75"/>
<circle cx="171.1" cy="132.3" r="1.75"/>
<circle cx="179.6" cy="76.8" r="1.75"/>
<circle cx="181.4" cy="66.3" r="1.75"/>
<circle cx="179.2" cy="64.8" r="1.75"/>
<circle cx="177.5" cy="141.0" r="1.75"/>
<circle cx="160.8" cy="138.8" r="1.75"/>
<circle cx="182.1" cy="47.3" r="1.75"/>
<circle cx="159.3" cy="127.4" r="1.75"/>
<circle cx="175.0" cy="93.2" r="1.75"/>
<circle cx="177.4" cy="157.6" r="1.75"/>
<circle cx="153.6" cy="62.3" r="1.75"/>
<circle cx="183.2" cy="115.5" r="1.75"/>
<circle cx="157.6" cy="67.7" r="1.75"/>
<circle cx="157.6" cy="97.0" r="1.75"/>
<circle cx="153.9" cy="83.1" r="1.75"/>
<circle cx="180.8" cy="80.6" r="1.75"/>
<circle cx="154.4" cy="104.8" r="1.75"/>
<circle cx="173.8" cy="85.2" r="1.75"/>
<circle cx="151.6" cy="143.1" r="1.75"/>
<circle cx="177.6" cy="111.5" r="1.75"/>
<circle cx="178.4" cy="52.8" r="1.75"/>
<circle cx="156.3" cy="79.0" r="1.75"/>
<circle cx="181.5" cy="49.0" r="1.75"/>
<circle cx="173.6" cy="156.6" r="1.75"/>
<circle cx="174.8" cy="116.8" r="1.75"/>
<circle cx="181.8" cy="69.3" r="1.75"/>
<circle cx="161.6" cy="108.0" r="1.75"/>
<circle cx="179.7" cy="64.7" r="1.75"/>
<circle cx="180.7" cy="130.2" r="1.75"/>
<circle cx="184.0" cy="62.8" r="1.75"/>
<circle cx="175.6" cy="98.4" r="1.75"/>
<circle cx="154.4" cy="90.3" r="1.75"/>
<circle cx="161.0" cy="158.6" r="1.75"/>
<circle cx="175.9" cy="130.4" r="1.75"/>
<circle cx="159.4" cy="118.5" r="1.75"/>
<circle cx="156.3" cy="127.8" r="1.75"/>
<circle cx="178.3" cy="82.2" r="1.75"/>
<circle cx="153.7" cy="141.1" r="1.75"/>
<circle cx="154.9" cy="51.0" r="1.75"/>
<circle cx="160.8" cy="107.6" r="1.75"/>
<circle cx="163.8" cy="137.7" r="1.75"/>
<circle cx="182.4" cy="128.1" r="1.75"/>
<circle cx="176.5" cy="156.8" r="1.75"/>
<circle cx="174.1" cy="147.7" r="1.75"/>
<circle cx="157.2" cy="100.0" r="1.75"/>
<circle cx="155.5" cy="81.6" r="1.75"/>
<circle cx="178.5" cy="136.3" r="1.75"/>
<circle cx="179.1" cy="118.5" r="1.75"/>
<circle cx="179.6" cy="122.0" r="1.75"/>
<circle cx="175.2" cy="129.3" r="1.75"/>
<circle cx="161.1" cy="73.6" r="1.75"/>
<circle cx="183.5" cy="82.1" r="1.75"/>
<circle cx="155.3" cy="73.1" r="1.75"/>
<circle cx="155.8" cy="98.3" r="1.75"/>
<circle cx="156.4" cy="86.2" r="1.75"/>
<circle cx="154.8" cy="49.3" r="1.75"/>
<circle cx="181.8" cy="133.6" r="1.75"/>
<circle cx="163.5" cy="128.9" r="1.75"/>
<circle cx="174.1" cy="75.1" r="1.75"/>
<circle cx="158.5" cy="83.4" r="1.75"/>
<circle cx="158.6" cy="61.0" r="1.75"/>
<circle cx="175.9" cy="133.4" r="1.75"/>
<circle cx="167.4" cy="144.2" r="1.75"/>
<circle cx="170.7" cy="154.7" r="1.75"/>
<circle cx="172.0" cy="129.0" r="1.75"/>
<circle cx="183.3" cy="30.1" r="1.75"/>
<circle cx="183.1" cy="110.4" r="1.75"/>
<circle cx="179.6" cy="130.3" r="1.75"/>
<circle cx="152.5" cy="96.4" r="1.75"/>
<circle cx="154.1" cy="117.6" r="1.75"/>
<circle cx="154.8" cy="120.7" r="1.75"/>
<circle cx="160.0" cy="62.9" r="1.75"/>
<circle cx="182.6" cy="123.1" r="1.75"/>
<circle cx="156.9" cy="107.9" r="1.75"/>
<circle cx="158.9" cy="157.0" r="1.75"/>
<circle cx="182.1" cy="130.0" r="1.75"/>
<circle cx="161.5" cy="108.0" r="1.75"/>
<circle cx="176.7" cy="95.9" r="1.75"/>
<circle cx="172.7" cy="160.7" r="1.75"/>
<circle cx="180.3" cy="73.3" r="1.75"/>
<circle cx="176.8" cy="112.2" r="1.75"/>
<circle cx="161.2" cy="57.5" r="1.75"/>
<circle cx="158.2" cy="81.1" r="1.75"/>
<circle cx="182.9" cy="81.7" r="1.75"/>
<circle cx="162.5" cy="85.5" r="1.75"/>
<circle cx="156.9" cy="120.1" r="1.75"/>
<circle cx="154.9" cy="144.7" r="1.75"/>
<circle cx="177.1" cy="62.8" r="1.75"/>
<circle cx="160.4" cy="53.1" r="1.75"/>
<circle cx="159.3" cy="124.9" r="1.75"/>
<circle cx="173.5" cy="98.6" r="1.75"/>
<circle cx="156.7" cy="130.1" r="1.75"/>
<circle cx="171.7" cy="122.4" r="1.75"/>
<circle cx="158.2" cy="129.8" r="1.75"/>
<circle cx="155.6" cy="42.8" r="1.75"/>
<circle cx="155.1" cy="62.9" r="1.75"/>
<circle cx="178.2" cy="94.7" r="1.75"/>
<circle cx="183.7" cy="90.0" r="1.75"/>
<circle cx="175.8" cy="117.1" r="1.75"/>
<circle cx="159.8" cy="135.4" r="1.75"/>
<circle cx="181.3" cy="124.2" r="1.75"/>
<circle cx="158.5" cy="133.0" r="1.75"/>
<circle cx="174.7" cy="63.4" r="1.75"/>
<circle cx="178.3" cy="87.8" r="1.75"/>
<circle cx="172.2" cy="123.7" r="1.75"/>
<circle cx="176.6" cy="121.1" r="1.75"/>
<circle cx="173.6" cy="157.9" r="1.75"/>
<circle cx="152.9" cy="104.1" r="1.75"/>
<circle cx="155.8" cy="84.3" r="1.75"/>
<circle cx="156.3" cy="64.9" r="1.75"/>
<circle cx="160.0" cy="101.0" r="1.75"/>
<circle cx="156.4" cy="93.2" r="1.75"/>
<circle cx="178.4" cy="127.5" r="1.75"/>
<circle cx="183.6" cy="114.7" r="1.75"/>
<circle cx="181.0" cy="90.4" r="1.75"/>
<circle cx="173.7" cy="120.1" r="1.75"/>
<circle cx="152.3" cy="124.2" r="1.75"/>
<circle cx="177.7" cy="88.3" r="1.75"/>
<circle cx="155.7" cy="85.9" r="1.75"/>
<circle cx="182.0" cy="126.3" r="1.75"/>
<circle cx="177.7" cy="133.0" r="1.75"/>
<circle cx="154.7" cy="75.9" r="1.75"/>
<circle cx="175.0" cy="64.7" r="1.75"/>
<circle cx="180.8" cy="98.3" r="1.75"/>
<circle cx="165.8" cy="155.5" r="1.75"/>
<circle cx="177.1" cy="76.3" r="1.75"/>
<circle cx="181.0" cy="106.7" r="1.75"/>
<circle cx="180.9" cy="134.4" r="1.75"/>
<circle cx="179.5" cy="72.0" r="1.75"/>
<circle cx="182.2" cy="119.9" r="1.75"/>
<circle cx="180.9" cy="88.1" r="1.75"/>
<circle cx="155.3" cy="105.7" r="1.75"/>
<circle cx="160.9" cy="99.3" r="1.75"/>
<circle cx="154.9" cy="65.6" r="1.75"/>
<circle cx="180.0" cy="76.6" r="1.75"/>
<circle cx="162.0" cy="111.8" r="1.75"/>
<circle cx="156.0" cy="45.1" r="1.75"/>
<circle cx="161.3" cy="104.3" r="1.75"/>
<circle cx="152.4" cy="61.2" r="1.75"/>
<circle cx="181.5" cy="105.4" r="1.75"/>
<circle cx="155.5" cy="94.8" r="1.75"/>
<circle cx="156.9" cy="146.0" r="1.75"/>
<circle cx="172.6" cy="111.4" r="1.75"/>
<circle cx="172.8" cy="130.6" r="1.75"/>
<circle cx="180.9" cy="108.3" r="1.75"/>
<circle cx="174.3" cy="91.1" r="1.75"/>
<circle cx="157.7" cy="93.1" r="1.75"/>
<circle cx="152.1" cy="89.0" r="1.75"/>
<circle cx="176.5" cy="130.3" r="1.75"/>
<circle cx="182.1" cy="111.6" r="1.75"/>
<circle cx="157.3" cy="120.8" r="1.75"/>
<circle cx="155.4" cy="145.4" r="1.75"/>
<circle cx="157.6" cy="135.9" r="1.75"/>
<circle cx="175.7" cy="96.0" r="1.75"/>
<circle cx="158.8" cy="59.0" r="1.75"/>
<circle cx="176.8" cy="121.8" r="1.75"/>
<circle cx="184.4" cy="80.0" r="1.75"/>
<circle cx="178.7" cy="156.8" r="1.75"/>
<circle cx="157.9" cy="111.6" r="1.75"/>
<circle cx="181.7" cy="97.4" r="1.75"/>
<circle cx="175.3" cy="128.9" r="1.75"/>
<circle cx="182.0" cy="119.4" r="1.75"/>
<circle cx="155.7" cy="105.5" r="1.75"/>
<circle cx="173.1" cy="140.9" r="1.75"/>
<circle cx="156.7" cy="153.4" r="1.75"/>
<circle cx="156.5" cy="119.9" r="1.75"/>
<circle cx="157.7" cy="145.5" r="1.75"/>
<circle cx="156.6" cy="134.0" r="1.75"/>
<circle cx="163.0" cy="81.7" r="1.75"/>
<circle cx="177.4" cy="53.0" r="1.75"/>
<circle cx="161.1" cy="57.1" r="1.75"/>
<circle cx="152.5" cy="103.7" r="1.75"/>
<circle cx="164.9" cy="131.3" r="1.75"/>
<circle cx="181.1" cy="87.9" r="1.75"/>
<circle cx="154.1" cy="62.7" r="1.75"/>
<circle cx="164.2" cy="146.5" r="1.75"/>
<circle cx="178.6" cy="55.1" r="1.75"/>
<circle cx="152.9" cy="129.6" r="1.75"/>
<circle cx="176.3" cy="127.5" r="1.75"/>
<circle cx="176.8" cy="54.9" r="1.75"/>
<circle cx="176.7" cy="44.4" r="1.75"/>
<circle cx="174.8" cy="119.0" r="1.75"/>
<circle cx="159.3" cy="61.6" r="1.75"/>
<circle cx="161.0" cy="99.4" r="1.75"/>
<circle cx="151.9" cy="85.0" r="1.75"/>
<circle cx="160.9" cy="68.3" r="1.75"/>
<circle cx="180.3" cy="88.9" r="1.75"/>
<circle cx="151.0" cy="150.5" r="1.75"/>
<circle cx="177.2" cy="142.1" r="1.75"/>
<circle cx="178.1" cy="54.5" r="1.75"/>
<circle cx="156.3" cy="94.2" r="1.75"/>
<circle cx="178.4" cy="90.3" r="1.75"/>
<circle cx="151.5" cy="126.8" r="1.75"/>
<circle cx="152.7" cy="63.6" r="1.75"/>
<circle cx="165.5" cy="161.2" r="1.75"/>
<circle cx="164.1" cy="151.5" r="1.75"/>
<circle cx="161.1" cy="146.6" r="1.75"/>
<circle cx="182.6" cy="88.0" r="1.75"/>
<circle cx="173.4" cy="75.8" r="1.75"/>
<circle cx="162.0" cy="84.4" r="1.75"/>
<circle cx="153.9" cy="63.5" r="1.75"/>
<circle cx="175.9" cy="61.9" r="1.75"/>
<circle cx="159.8" cy="91.6" r="1.75"/>
<circle cx="177.6" cy="153.4" r="1.75"/>
<circle cx="182.9" cy="71.5" r="1.75"/>
<circle cx="155.5" cy="44.3" r="1.75"/>
<circle cx="180.7" cy="77.2" r="1.75"/>
<circle cx="160.1" cy="145.2" r="1.75"/>
<circle cx="182.5" cy="66.5" r="1.75"/>
<circle cx="181.2" cy="67.6" r="1.75"/>
<circle cx="172.9" cy="155.5" r="1.75"/>
<circle cx="174.1" cy="97.3" r="1.75"/>
<circle cx="176.7" cy="132.1" r="1.75"/>
<circle cx="152.0" cy="133.3" r="1.75"/>
<circle cx="152.6" cy="157.9" r="1.75"/>
<circle cx="180.3" cy="79.1" r="1.75"/>
<circle cx="152.7" cy="97.2" r="1.75"/>
<circle cx="183.7" cy="126.1" r="1.75"/>
<circle cx="183.0" cy="117.8" r="1.75"/>
<circle cx="157.0" cy="69.4" r="1.75"/>
<circle cx="154.8" cy="155.2" r="1.75"/>
<circle cx="172.4" cy="132.9" r="1.75"/>
<circle cx="176.9" cy="77.0" r="1.75"/>
<circle cx="181.1" cy="64.3" r="1.75"/>
<circle cx="156.2" cy="152.6" r="1.75"/>
<circle cx="172.5" cy="110.7" r="1.75"/>
<circle cx="151.9" cy="126.6" r="1.75"/>
<circle cx="179.6" cy="120.8" r="1.75"/>
<circle cx="176.1" cy="73.6" r="1.75"/>
<circle cx="174.6" cy="148.8" r="1.75"/>
<circle cx="160.7" cy="120.7" r="1.75"/>
<circle cx="180.1" cy="157.0" r="1.75"/>
<circle cx="181.8" cy="130.8" r="1.75"/>
<circle cx="179.9" cy="134.6" r="1.75"/>
<circle cx="170.3" cy="157.3" r="1.75"/>
<circle cx="178.8" cy="76.8" r="1.75"/>
<circle cx="155.8" cy="108.5" r="1.75"/>
<circle cx="159.4" cy="124.2" r="1.75"/>
<circle cx="155.5" cy="141.0" r="1.75"/>
<circle cx="161.7" cy="44.2" r="1.75"/>
<circle cx="158.6" cy="110.2" r="1.75"/>
<circle cx="178.5" cy="62.2" r="1.75"/>
<circle cx="182.8" cy="154.3" r="1.75"/>
<circle cx="179.9" cy="64.8" r="1.75"/>
<circle cx="158.4" cy="84.3" r="1.75"/>
<circle cx="175.2" cy="118.9" r="1.75"/>
<circle cx="162.8" cy="133.5" r="1.75"/>
<circle cx="176.0" cy="160.2" r="1.75"/>
<circle cx="158.0" cy="36.1" r="1.75"/>
<circle cx="160.6" cy="59.7" r="1.75"/>
<circle cx="178.2" cy="144.6" r="1.75"/>
<circle cx="175.0" cy="122.7" r="1.75"/>
<circle cx="182.2" cy="144.3" r="1.75"/>
<circle cx="182.6" cy="78.6" r="1.75"/>
<circle cx="178.7" cy="91.2" r="1.75"/>
<circle cx="165.3" cy="142.3" r="1.75"/>
<circle cx="181.1" cy="85.7" r="1.75"/>
<circle cx="178.2" cy="91.5" r="1.75"/>
<circle cx="160.6" cy="131.9" r="1.75"/>
<circle cx="153.0" cy="70.7" r="1.75"/>
<circle cx="180.6" cy="72.9" r="1.75"/>
<circle cx="154.1" cy="69.8" r="1.75"/>
<circle cx="156.5" cy="158.6" r="1.75"/>
<circle cx="164.4" cy="125.2" r="1.75"/>
<circle cx="175.5" cy="90.1" r="1.75"/>
<circle cx="175.6" cy="122.1" r="1.75"/>
<circle cx="158.0" cy="78.5" r="1.75"/>
<circle cx="162.5" cy="96.5" r="1.75"/>
<circle cx="176.6" cy="55.9" r="1.75"/>
<circle cx="152.5" cy="94.9" r="1.75"/>
<circle cx="161.3" cy="102.4" r="1.75"/>
<circle cx="176.9" cy="117.3" r="1.75"/>
<circle cx="177.8" cy="36.5" r="1.75"/>
<circle cx="181.2" cy="124.0" r="1.75"/>
<circle cx="177.3" cy="85.6" r="1.75"/>
<circle cx="181.3" cy="118.1" r="1.75"/>
<circle cx="174.7" cy="98.2" r="1.75"/>
<circle cx="158.4" cy="117.4" r="1.75"/>
<circle cx="183.6" cy="156.2" r="1.75"/>
<circle cx="179.6" cy="66.6" r="1.75"/>
<circle cx="171.1" cy="158.2" r="1.75"/>
<circle cx="179.4" cy="93.5" r="1.75"/>
<circle cx="154.8" cy="150.3" r="1.75"/>
<circle cx="162.2" cy="97.4" r="1.75"/>
<circle cx="165.9" cy="159.0" r="1.75"/>
<circle cx="154.1" cy="105.2" r="1.75"/>
<circle cx="159.8" cy="65.3" r="1.75"/>
<circle cx="182.2" cy="131.1" r="1.75"/>
<circle cx="159.5" cy="131.8" r="1.75"/>
<circle cx="161.5" cy="126.8" r="1.75"/>
<circle cx="155.4" cy="100.6" r="1.75"/>
<circle cx="179.0" cy="154.2" r="1.75"/>
<circle cx="163.0" cy="116.9" r="1.75"/>
<circle cx="165.0" cy="140.6" r="1.75"/>
<circle cx="181.5" cy="72.1" r="1.75"/>
<circle cx="175.8" cy="130.5" r="1.75"/>
<circle cx="153.1" cy="119.1" r="1.75"/>
<circle cx="157.3" cy="128.5" r="1.75"/>
<circle cx="175.6" cy="99.7" r="1.75"/>
<circle cx="177.7" cy="154.3" r="1.75"/>
<circle cx="151.5" cy="126.9" r="1.75"/>
<circle cx="183.6" cy="91.4" r="1.75"/>
<circle cx="183.5" cy="108.8" r="1.75"/>
<circle cx="178.6" cy="132.9" r="1.75"/>
<circle cx="181.6" cy="97.1" r="1.75"/>
<circle cx="182.8" cy="108.0" r="1.75"/>
<circle cx="166.2" cy="126.5" r="1.75"/>
<circle cx="180.5" cy="145.6" r="1.75"/>
<circle cx="175.3" cy="111.4" r="1.75"/>
<circle cx="176.7" cy="111.0" r="1.75"/>
<circle cx="153.3" cy="57.9" r="1.75"/>
<circle cx="159.4" cy="123.7" r="1.75"/>
<circle cx="156.0" cy="75.7" r="1.75"/>
<circle cx="152.4" cy="88.6" r="1.75"/>
<circle cx="163.0" cy="69.9" r="1.75"/>
<circle cx="174.6" cy="66.5" r="1.75"/>
<circle cx="157.0" cy="156.4" r="1.75"/>
<circle cx="178.0" cy="119.6" r="1.75"/>
<circle cx="181.3" cy="103.9" r="1.75"/>
<circle cx="159.0" cy="63.7" r="1.75"/>
<circle cx="182.2" cy="116.5" r="1.75"/>
<circle cx="161.7" cy="151.8" r="1.75"/>
<circle cx="159.9" cy="126.3" r="1.75"/>
<circle cx="152.9" cy="112.1" r="1.75"/>
<circle cx="173.1" cy="147.1" r="1.75"/>
<circle cx="184.2" cy="149.1" r="1.75"/>
<circle cx="184.0" cy="154.0" r="1.75"/>
<circle cx="155.3" cy="46.7" r="1.75"/>
<circle cx="157.5" cy="136.5" r="1.75"/>
<circle cx="160.6" cy="38.5" r="1.75"/>
<circle cx="154.6" cy="81.2" r="1.75"/>
<circle cx="183.7" cy="73.5" r="1.75"/>
<circle cx="153.5" cy="148.4" r="1.75"/>
<circle cx="173.7" cy="137.1" r="1.75"/>
<circle cx="161.6" cy="87.8" r="1.75"/>
<circle cx="156.2" cy="76.0" r="1.75"/>
<circle cx="181.8" cy="135.6" r="1.75"/>
<circle cx="160.9" cy="144.2" r="1.75"/>
<circle cx="177.2" cy="101.1" r="1.75"/>
<circle cx="160.9" cy="105.8" r="1.75"/>
<circle cx="151.5" cy="61.9" r="1.75"/>
<circle cx="179.5" cy="76.1" r="1.75"/>
<circle cx="160.7" cy="118.7" r="1.75"/>
<circle cx="174.2" cy="95.3" r="1.75"/>
<circle cx="161.9" cy="91.5" r="1.75"/>
<circle cx="163.3" cy="88.8" r="1.75"/>
<circle cx="157.8" cy="114.3" r="1.75"/>
<circle cx="155.5" cy="58.4" r="1.75"/>
<circle cx="171.2" cy="128.8" r="1.75"/>
<circle cx="157.1" cy="82.7" r="1.75"/>
<circle cx="170.5" cy="159.1" r="1.75"/>
<circle cx="181.6" cy="94.2" r="1.75"/>
<circle cx="161.1" cy="78.2" r="1.75"/>
<circle cx="177.0" cy="64.6" r="1.75"/>
<circle cx="177.6" cy="78.5" r="1.75"/>
<circle cx="177.3" cy="62.2" r="1.75"/>
<circle cx="164.8" cy="105.2" r="1.75"/>
<circle cx="173.7" cy="94.6" r="1.75"/>
<circle cx="155.0" cy="69.2" r="1.75"/>
<circle cx="165.4" cy="123.1" r="1.75"/>
<circle cx="162.8" cy="132.1" r="1.75"/>
<circle cx="161.0" cy="85.5" r="1.75"/>
<circle cx="161.0" cy="143.2" r="1.75"/>
<circle cx="152.9" cy="53.3" r="1.75"/>
<circle cx="155.1" cy="120.2" r="1.75"/>
<circle cx="174.3" cy="103.4" r="1.75"/>
<circle cx="182.0" cy="64.4" r="1.75"/>
<circle cx="172.2" cy="118.8" r="1.75"/>
<circle cx="179.4" cy="95.1" r="1.75"/>
<circle cx="157.5" cy="87.5" r="1.75"/>
<circle cx="161.7" cy="96.4" r="1.75"/>
<circle cx="178.4" cy="114.8" r="1.75"/>
<circle cx="178.0" cy="111.1" r="1.75"/>
<circle cx="180.9" cy="72.0" r="1.75"/>
<circle cx="173.1" cy="152.2" r="1.75"/>
<circle cx="157.8" cy="111.4" r="1.75"/>
<circle cx="153.3" cy="128.2" r="1.75"/>
<circle cx="154.6" cy="59.5" r="1.75"/>
<circle cx="155.0" cy="100.6" r="1.75"/>
<circle cx="172.1" cy="139.2" r="1.75"/>
<circle cx="181.0" cy="69.8" r="1.75"/>
<circle cx="180.6" cy="74.1" r="1.75"/>
<circle cx="174.5" cy="82.3" r="1.75"/>
<circle cx="175.9" cy="80.4" r="1.75"/>
<circle cx="164.6" cy="133.5" r="1.75"/>
<circle cx="157.7" cy="116.4" r="1.75"/>
<circle cx="161.2" cy="115.5" r="1.75"/>
<circle cx="161.3" cy="41.0" r="1.75"/>
<circle cx="160.7" cy="148.0" r="1.75"/>
<circle cx="163.1" cy="89.2" r="1.75"/>
<circle cx="159.6" cy="82.8" r="1.75"/>
<circle cx="175.7" cy="64.3" r="1.75"/>
<circle cx="175.8" cy="62.5" r="1.75"/>
<circle cx="181.3" cy="146.0" r="1.75"/>
<circle cx="164.3" cy="114.0" r="1.75"/>
<circle cx="152.9" cy="71.3" r="1.75"/>
<circle cx="160.5" cy="80.3" r="1.75"/>
<circle cx="154.9" cy="134.3" r="1.75"/>
<circle cx="177.1" cy="40.9" r="1.75"/>
<circle cx="161.2" cy="118.0" r="1.75"/>
<circle cx="178.5" cy="110.5" r="1.75"/>
<circle cx="158.2" cy="96.6" r="1.75"/>
<circle cx="158.4" cy="159.6" r="1.75"/>
<circle cx="166.0" cy="144.7" r="1.75"/>
<circle cx="156.7" cy="118.2" r="1.75"/>
<circle cx="183.5" cy="72.7" r="1.75"/>
<circle cx="156.7" cy="85.8" r="1.75"/>
<circle cx="178.3" cy="54.9" r="1.75"/>
<circle cx="160.9" cy="110.6" r="1.75"/>
<circle cx="155.1" cy="70.6" r="1.75"/>
<circle cx="177.5" cy="84.3" r="1.75"/>
<circle cx="180.8" cy="85.8" r="1.75"/>
<circle cx="179.9" cy="66.6" r="1.75"/>
<circle cx="185.1" cy="95.6" r="1.75"/>
<circle cx="184.2" cy="143.8" r="1.75"/>
<circle cx="160.5" cy="84.6" r="1.75"/>
<circle cx="172.5" cy="124.8" r="1.75"/>
<circle cx="183.4" cy="147.5" r="1.75"/>
<circle cx="153.4" cy="97.5" r="1.75"/>
<circle cx="154.4" cy="128.9" r="1.75"/>
<circle cx="159.4" cy="77.9" r="1.75"/>
<circle cx="157.8" cy="115.3" r="1.75"/>
<circle cx="175.2" cy="87.7" r="1.75"/>
<circle cx="164.6" cy="147.6" r="1.75"/>
<circle cx="164.4" cy="115.8" r="1.75"/>
<circle cx="163.9" cy="148.6" r="1.75"/>
<circle cx="176.9" cy="134.7" r="1.75"/>
<circle cx="161.9" cy="131.8" r="1.75"/>
<circle cx="153.0" cy="46.3" r="1.75"/>
<circle cx="160.4" cy="72.2" r="1.75"/>
<circle cx="166.5" cy="159.1" r="1.75"/>
<circle cx="181.6" cy="119.8" r="1.75"/>
<circle cx="166.2" cy="155.8" r="1.75"/>
<circle cx="183.5" cy="83.8" r="1.75"/>
<circle cx="179.8" cy="56.0" r="1.75"/>
<circle cx="184.7" cy="100.3" r="1.75"/>
<circle cx="155.8" cy="117.1" r="1.75"/>
<circle cx="160.4" cy="118.0" r="1.75"/>
<circle cx="183.0" cy="83.3" r="1.75"/>
<circle cx="182.6" cy="114.7" r="1.75"/>
<circle cx="177.7" cy="135.8" r="1.75"/>
<circle cx="151.7" cy="112.6" r="1.75"/>
<circle cx="152.5" cy="89.0" r="1.75"/>
<circle cx="151.7" cy="152.0" r="1.75"/>
<circle cx="176.9" cy="132.0" r="1.75"/>
<circle cx="155.1" cy="135.4" r="1.75"/>
<circle cx="163.2" cy="103.4" r="1.75"/>
<circle cx="171.8" cy="106.5" r="1.75"/>
<circle cx="180.8" cy="35.1" r="1.75"/>
<circle cx="163.6" cy="139.2" r="1.75"/>
<circle cx="153.2" cy="94.3" r="1.75"/>
<circle cx="174.0" cy="92.4" r="1.75"/>
<circle cx="160.4" cy="61.5" r="1.75"/>
<circle cx="184.6" cy="65.7" r="1.75"/>
<circle cx="184.3" cy="128.4" r="1.75"/>
<circle cx="153.5" cy="56.9" r="1.75"/>
<circle cx="175.4" cy="80.1" r="1.75"/>
<circle cx="163.5" cy="147.1" r="1.75"/>
<circle cx="179.2" cy="60.6" r="1.75"/>
<circle cx="181.4" cy="123.5" r="1.75"/>
<circle cx="163.1" cy="114.4" r="1.75"/>
<circle cx="154.8" cy="48.6" r="1.75"/>
<circle cx="161.2" cy="128.4" r="1.75"/>
<circle cx="156.1" cy="58.0" r="1.75"/>
<circle cx="180.3" cy="99.7" r="1.75"/>
<circle cx="163.9" cy="158.8" r="1.75"/>
<circle cx="162.2" cy="67.7" r="1.75"/>
<circle cx="179.7" cy="53.9" r="1.75"/>
<circle cx="182.4" cy="98.1" r="1.75"/>
<circle cx="175.4" cy="71.4" r="1.75"/>
<circle cx="183.2" cy="83.5" r="1.75"/>
<circle cx="160.5" cy="153.7" r="1.75"/>
<circle cx="158.9" cy="106.5" r="1.75"/>
<circle cx="159.2" cy="52.5" r="1.75"/>
<circle cx="181.9" cy="80.3" r="1.75"/>
<circle cx="156.0" cy="76.8" r="1.75"/>
<circle cx="157.0" cy="75.8" r="1.75"/>
<circle cx="160.9" cy="81.7" r="1.75"/>
<circle cx="179.1" cy="148.6" r="1.75"/>
<circle cx="170.3" cy="147.2" r="1.75"/>
<circle cx="182.5" cy="94.0" r="1.75"/>
<circle cx="175.4" cy="85.4" r="1.75"/>
<circle cx="184.1" cy="98.7" r="1.75"/>
<circle cx="176.9" cy="70.2" r="1.75"/>
<circle cx="151.5" cy="150.5" r="1.75"/>
<circle cx="166.3" cy="151.3" r="1.75"/>
<circle cx="171.0" cy="158.9" r="1.75"/>
<circle cx="164.0" cy="154.4" r="1.75"/>
<circle cx="176.5" cy="43.1" r="1.75"/>
<circle cx="158.7" cy="132.7" r="1.75"/>
<circle cx="181.8" cy="65.5" r="1.75"/>
<circle cx="174.3" cy="76.6" r="1.75"/>
<circle cx="177.9" cy="82.1" r="1.75"/>
<circle cx="152.2" cy="74.9" r="1.75"/>
<circle cx="162.0" cy="95.4" r="1.75"/>
<circle cx="180.2" cy="79.6" r="1.75"/>
<circle cx="177.1" cy="120.0" r="1.75"/>
<circle cx="177.0" cy="74.6" r="1.75"/>
<circle cx="155.4" cy="56.2" r="1.75"/>
<circle cx="161.2" cy="94.0" r="1.75"/>
<circle cx="153.9" cy="76.5" r="1.75"/>
<circle cx="163.9" cy="152.5" r="1.75"/>
<circle cx="161.2" cy="134.0" r="1.75"/>
<circle cx="177.9" cy="151.0" r="1.75"/>
<circle cx="176.5" cy="68.0" r="1.75"/>
<circle cx="155.7" cy="45.7" r="1.75"/>
<circle cx="174.5" cy="62.4" r="1.75"/>
<circle cx="176.9" cy="101.6" r="1.75"/>
<circle cx="154.1" cy="71.0" r="1.75"/>
<circle cx="160.2" cy="128.5" r="1.75"/>
<circle cx="153.1" cy="35.6" r="1.75"/>
<circle cx="177.7" cy="90.9" r="1.75"/>
<circle cx="181.3" cy="116.9" r="1.75"/>
<circle cx="176.8" cy="145.6" r="1.75"/>
<circle cx="151.6" cy="99.4" r="1.75"/>
<circle cx="170.3" cy="144.8" r="1.75"/>
<circle cx="179.6" cy="137.9" r="1.75"/>
<circle cx="180.4" cy="39.8" r="1.75"/>
<circle cx="153.0" cy="81.2" r="1.75"/>
<circle cx="177.4" cy="62.4" r="1.75"/>
<circle cx="183.1" cy="78.0" r="1.75"/>
<circle cx="177.3" cy="131.9" r="1.75"/>
<circle cx="180.3" cy="82.5" r="1.75"/>
<circle cx="164.0" cy="103.1" r="1.75"/>
<circle cx="161.0" cy="91.0" r="1.75"/>
<circle cx="164.4" cy="137.3" r="1.75"/>
<circle cx="176.2" cy="44.4" r="1.75"/>
<circle cx="161.0" cy="89.7" r="1.75"/>
<circle cx="172.4" cy="150.8" r="1.75"/>
<circle cx="173.7" cy="90.5" r="1.75"/>
<circle cx="170.0" cy="154.5" r="1.75"/>
<circle cx="183.1" cy="69.3" r="1.75"/>
<circle cx="152.1" cy="106.3" r="1.75"/>
<circle cx="174.3" cy="58.8" r="1.75"/>
<circle cx="181.9" cy="128.7" r="1.75"/>
<circle cx="156.2" cy="69.1" r="1.75"/>
<circle cx="176.5" cy="52.0" r="1.75"/>
<circle cx="152.0" cy="101.3" r="1.75"/>
<circle cx="167.9" cy="160.1" r="1.75"/>
<circle cx="181.1" cy="61.2" r="1.75"/>
<circle cx="180.3" cy="97.4" r="1.75"/>
<circle cx="157.7" cy="78.8" r="1.75"/>
<circle cx="155.6" cy="148.3" r="1.75"/>
<circle cx="179.6" cy="151.6" r="1.75"/>
<circle cx="158.2" cy="129.3" r="1.75"/>
<circle cx="173.9" cy="155.5" r="1.75"/>
<circle cx="161.5" cy="160.3" r="1.75"/>
<circle cx="162.0" cy="92.9" r="1.75"/>
<circle cx="153.2" cy="144.5" r="1.75"/>
<circle cx="170.8" cy="126.3" r="1.75"/>
<circle cx="160.9" cy="55.9" r="1.75"/>
<circle cx="155.2" cy="69.2" r="1.75"/>
<circle cx="158.5" cy="57.9" r="1.75"/>
<circle cx="178.4" cy="144.2" r="1.75"/>
<circle cx="156.8" cy="67.1" r="1.75"/>
<circle cx="162.4" cy="144.7" r="1.75"/>
<circle cx="158.3" cy="76.5" r="1.75"/>
<circle cx="171.3" cy="137.1" r="1.75"/>
<circle cx="180.2" cy="100.7" r="1.75"/>
<circle cx="158.8" cy="62.2" r="1.75"/>
<circle cx="178.6" cy="107.1" r="1.75"/>
<circle cx="180.1" cy="54.8" r="1.75"/>
<circle cx="178.9" cy="63.7" r="1.75"/>
<circle cx="155.0" cy="53.6" r="1.75"/>
<circle cx="155.3" cy="92.7" r="1.75"/>
<circle cx="165.4" cy="110.2" r="1.75"/>
<circle cx="178.4" cy="149.5" r="1.75"/>
<circle cx="158.1" cy="60.3" r="1.75"/>
<circle cx="162.1" cy="159.4" r="1.75"/>
<circle cx="163.3" cy="139.6" r="1.75"/>
<circle cx="158.2" cy="84.8" r="1.75"/>
<circle cx="159.0" cy="118.8" r="1.75"/>
<circle cx="156.8" cy="61.4" r="1.75"/>
<circle cx="174.1" cy="130.5" r="1.75"/>
<circle cx="153.6" cy="91.9" r="1.75"/>
<circle cx="177.1" cy="45.0" r="1.75"/>
<circle cx="178.5" cy="75.7" r="1.75"/>
<circle cx="160.3" cy="77.7" r="1.75"/>
<circle cx="178.5" cy="158.7" r="1.75"/>
<circle cx="180.7" cy="151.0" r="1.75"/>
<circle cx="177.7" cy="70.1" r="1.75"/>
<circle cx="180.5" cy="71.5" r="1.75"/>
<circle cx="156.4" cy="140.2" r="1.75"/>
<circle cx="158.1" cy="143.9" r="1.75"/>
<circle cx="179.8" cy="128.2" r="1.75"/>
<circle cx="159.8" cy="142.4" r="1.75"/>
<circle cx="184.7" cy="119.9" r="1.75"/>
<circle cx="183.2" cy="105.4" r="1.75"/>
<circle cx="172.9" cy="108.7" r="1.75"/>
<circle cx="155.2" cy="138.7" r="1.75"/>
<circle cx="160.5" cy="99.1" r="1.75"/>
<circle cx="152.7" cy="131.7" r="1.75"/>
<circle cx="158.9" cy="60.3" r="1.75"/>
<circle cx="176.1" cy="73.8" r="1.75"/>
<circle cx="153.9" cy="129.0" r="1.75"/>
<circle cx="156.3" cy="79.5" r="1.75"/>
<circle cx="175.2" cy="159.4" r="1.75"/>
<circle cx="173.0" cy="139.4" r="1.75"/>
<circle cx="178.9" cy="139.2" r="1.75"/>
<circle cx="155.9" cy="101.7" r="1.75"/>
<circle cx="165.8" cy="158.5" r="1.75"/>
<circle cx="160.9" cy="142.4" r="1.75"/>
<circle cx="152.7" cy="76.8" r="1.75"/>
<circle cx="161.1" cy="98.6" r="1.75"/>
<circle cx="173.8" cy="110.5" r="1.75"/>
<circle cx="175.7" cy="47.0" r="1.75"/>
<circle cx="182.0" cy="63.4" r="1.75"/>
<circle cx="155.3" cy="67.5" r="1.75"/>
<circle cx="159.3" cy="140.9" r="1.75"/>
<circle cx="157.5" cy="131.2" r="1.75"/>
<circle cx="176.6" cy="90.2" r="1.75"/>
<circle cx="156.7" cy="138.7" r="1.75"/>
<circle cx="155.7" cy="154.0" r="1.75"/>
<circle cx="153.6" cy="102.8" r="1.75"/>
<circle cx="180.3" cy="93.1" r="1.75"/>
<circle cx="151.4" cy="64.9" r="1.75"/>
<circle cx="182.6" cy="89.6" r="1.75"/>
<circle cx="183.7" cy="96.1" r="1.75"/>
<circle cx="182.3" cy="86.6" r="1.75"/>
<circle cx="176.7" cy="60.7" r="1.75"/>
<circle cx="158.3" cy="35.9" r="1.75"/>
<circle cx="153.5" cy="150.9" r="1.75"/>
<circle cx="174.5" cy="127.5" r="1.75"/>
<circle cx="176.8" cy="84.0" r="1.75"/>
<circle cx="162.2" cy="143.8" r="1.75"/>
<circle cx="152.0" cy="107.6" r="1.75"/>
<circle cx="161.3" cy="117.8" r="1.75"/>
<circle cx="161.8" cy="101.3" r="1.75"/>
<circle cx="157.3" cy="82.4" r="1.75"/>
<circle cx="157.4" cy="129.7" r="1.75"/>
<circle cx="159.6" cy="102.2" r="1.75"/>
<circle cx="163.4" cy="144.4" r="1.75"/>
<circle cx="179.7" cy="92.9" r="1.75"/>
<circle cx="174.0" cy="133.6" r="1.75"/>
<circle cx="158.9" cy="91.7" r="1.75"/>
<circle cx="155.1" cy="105.8" r="1.75"/>
<circle cx="168.0" cy="156.5" r="1.75"/>
<circle cx="152.7" cy="59.7" r="1.75"/>
<circle cx="177.7" cy="59.7" r="1.75"/>
<circle cx="169.4" cy="149.6" r="1.75"/>
<circle cx="177.3" cy="86.9" r="1.75"/>
<circle cx="172.9" cy="85.4" r="1.75"/>
<circle cx="175.7" cy="117.4" r="1.75"/>
<circle cx="164.0" cy="143.1" r="1.75"/>
<circle cx="157.7" cy="85.5" r="1.75"/>
<circle cx="164.2" cy="91.5" r="1.75"/>
<circle cx="174.7" cy="151.9" r="1.75"/>
<circle cx="159.5" cy="57.8" r="1.75"/>
<circle cx="184.6" cy="68.3" r="1.75"/>
<circle cx="157.7" cy="148.3" r="1.75"/>
<circle cx="158.9" cy="88.1" r="1.75"/>
<circle cx="181.3" cy="92.9" r="1.75"/>
<circle cx="174.9" cy="101.1" r="1.75"/>
<circle cx="156.8" cy="75.2" r="1.75"/>
<circle cx="158.4" cy="78.0" r="1.75"/>
<circle cx="181.4" cy="143.3" r="1.75"/>
<circle cx="153.6" cy="86.7" r="1.75"/>
<circle cx="165.0" cy="161.3" r="1.75"/>
<circle cx="153.3" cy="108.6" r="1.75"/>
<circle cx="177.5" cy="105.3" r="1.75"/>
<circle cx="170.9" cy="161.0" r="1.75"/>
<circle cx="152.9" cy="106.1" r="1.75"/>
<circle cx="163.5" cy="160.4" r="1.75"/>
<circle cx="163.3" cy="132.9" r="1.75"/>
<circle cx="155.1" cy="119.5" r="1.75"/>
<circle cx="177.6" cy="133.0" r="1.75"/>
<circle cx="175.7" cy="94.5" r="1.75"/>
<circle cx="160.2" cy="79.6" r="1.75"/>
<circle cx="159.2" cy="90.6" r="1.75"/>
<circle cx="182.4" cy="94.1" r="1.75"/>
<circle cx="177.3" cy="60.9" r="1.75"/>
<circle cx="153.5" cy="135.1" r="1.75"/>
<circle cx="159.3" cy="61.8" r="1.75"/>
<circle cx="181.6" cy="138.7" r="1.75"/>
<circle cx="182.5" cy="129.2" r="1.75"/>
<circle cx="159.0" cy="145.2" r="1.75"/>
<circle cx="156.6" cy="5.2" r="1.75"/>
<circle cx="180.2" cy="11.9" r="1.75"/>
<circle cx="155.2" cy="25.3" r="1.75"/>
<circle cx="177.6" cy="35.3" r="1.75"/>
<circle cx="153.9" cy="16.3" r="1.75"/>
<circle cx="184.2" cy="24.2" r="1.75"/>
<circle cx="158.4" cy="27.5" r="1.75"/>
</g>
<g fill="#f4a0a0" stroke="#8a3a3a" stroke-width="0.55">
<circle cx="193.5" cy="73.7" r="1.75"/>
<circle cx="186.6" cy="71.8" r="1.75"/>
<circle cx="186.5" cy="78.3" r="1.75"/>
<circle cx="193.5" cy="61.6" r="1.75"/>
<circle cx="186.8" cy="68.8" r="1.75"/>
<circle cx="192.6" cy="95.4" r="1.75"/>
<circle cx="189.2" cy="113.5" r="1.75"/>
<circle cx="188.2" cy="82.0" r="1.75"/>
<circle cx="188.6" cy="127.9" r="1.75"/>
<circle cx="189.7" cy="119.3" r="1.75"/>
<circle cx="189.0" cy="122.7" r="1.75"/>
<circle cx="188.5" cy="102.0" r="1.75"/>
<circle cx="193.8" cy="124.4" r="1.75"/>
<circle cx="187.1" cy="61.9" r="1.75"/>
<circle cx="192.3" cy="59.6" r="1.75"/>
<circle cx="188.9" cy="146.1" r="1.75"/>
<circle cx="188.9" cy="146.7" r="1.75"/>
<circle cx="189.2" cy="133.0" r="1.75"/>
<circle cx="190.2" cy="55.9" r="1.75"/>
<circle cx="188.3" cy="149.2" r="1.75"/>
<circle cx="187.4" cy="155.6" r="1.75"/>
<circle cx="187.0" cy="107.3" r="1.75"/>
<circle cx="193.9" cy="146.5" r="1.75"/>
<circle cx="187.1" cy="51.9" r="1.75"/>
<circle cx="192.2" cy="119.1" r="1.75"/>
<circle cx="189.2" cy="125.8" r="1.75"/>
<circle cx="187.2" cy="62.5" r="1.75"/>
<circle cx="194.7" cy="40.1" r="1.75"/>
<circle cx="191.5" cy="143.8" r="1.75"/>
<circle cx="186.5" cy="71.2" r="1.75"/>
<circle cx="190.0" cy="104.7" r="1.75"/>
<circle cx="190.1" cy="108.3" r="1.75"/>
<circle cx="194.1" cy="50.8" r="1.75"/>
<circle cx="191.9" cy="58.4" r="1.75"/>
<circle cx="191.6" cy="135.7" r="1.75"/>
<circle cx="191.2" cy="106.9" r="1.75"/>
<circle cx="187.1" cy="53.3" r="1.75"/>
<circle cx="190.6" cy="90.2" r="1.75"/>
<circle cx="191.2" cy="125.5" r="1.75"/>
<circle cx="187.5" cy="57.3" r="1.75"/>
<circle cx="193.5" cy="124.5" r="1.75"/>
<circle cx="190.5" cy="103.1" r="1.75"/>
<circle cx="192.5" cy="47.5" r="1.75"/>
<circle cx="187.4" cy="91.2" r="1.75"/>
<circle cx="194.5" cy="142.1" r="1.75"/>
<circle cx="189.6" cy="152.7" r="1.75"/>
<circle cx="188.7" cy="111.2" r="1.75"/>
<circle cx="187.3" cy="75.1" r="1.75"/>
<circle cx="189.8" cy="83.3" r="1.75"/>
<circle cx="192.3" cy="117.0" r="1.75"/>
<circle cx="194.0" cy="73.5" r="1.75"/>
<circle cx="189.4" cy="129.2" r="1.75"/>
<circle cx="194.3" cy="121.8" r="1.75"/>
<circle cx="186.7" cy="67.8" r="1.75"/>
<circle cx="186.7" cy="125.2" r="1.75"/>
<circle cx="186.6" cy="65.9" r="1.75"/>
<circle cx="191.9" cy="52.0" r="1.75"/>
<circle cx="188.1" cy="127.6" r="1.75"/>
<circle cx="190.7" cy="142.5" r="1.75"/>
<circle cx="189.7" cy="27.3" r="1.75"/>
<circle cx="190.9" cy="104.2" r="1.75"/>
<circle cx="189.7" cy="134.3" r="1.75"/>
<circle cx="190.6" cy="124.2" r="1.75"/>
<circle cx="189.7" cy="87.7" r="1.75"/>
<circle cx="187.0" cy="149.8" r="1.75"/>
<circle cx="190.1" cy="68.4" r="1.75"/>
<circle cx="186.6" cy="124.1" r="1.75"/>
<circle cx="194.4" cy="140.4" r="1.75"/>
<circle cx="191.3" cy="69.6" r="1.75"/>
<circle cx="189.5" cy="93.1" r="1.75"/>
<circle cx="187.6" cy="147.0" r="1.75"/>
<circle cx="187.7" cy="138.9" r="1.75"/>
<circle cx="189.0" cy="92.7" r="1.75"/>
<circle cx="190.2" cy="90.7" r="1.75"/>
<circle cx="189.5" cy="140.7" r="1.75"/>
<circle cx="187.9" cy="59.3" r="1.75"/>
<circle cx="193.6" cy="66.5" r="1.75"/>
<circle cx="190.3" cy="26.7" r="1.75"/>
<circle cx="188.3" cy="111.7" r="1.75"/>
<circle cx="194.5" cy="117.4" r="1.75"/>
<circle cx="186.6" cy="57.7" r="1.75"/>
<circle cx="189.0" cy="60.7" r="1.75"/>
<circle cx="194.2" cy="103.1" r="1.75"/>
<circle cx="188.1" cy="29.2" r="1.75"/>
<circle cx="192.1" cy="87.0" r="1.75"/>
<circle cx="191.6" cy="121.1" r="1.75"/>
<circle cx="189.3" cy="144.4" r="1.75"/>
<circle cx="187.1" cy="154.3" r="1.75"/>
<circle cx="192.6" cy="126.2" r="1.75"/>
<circle cx="187.8" cy="92.3" r="1.75"/>
<circle cx="191.8" cy="80.0" r="1.75"/>
<circle cx="190.4" cy="78.5" r="1.75"/>
<circle cx="192.3" cy="118.5" r="1.75"/>
<circle cx="187.0" cy="138.4" r="1.75"/>
<circle cx="194.1" cy="139.6" r="1.75"/>
<circle cx="191.6" cy="117.2" r="1.75"/>
<circle cx="189.2" cy="100.9" r="1.75"/>
<circle cx="191.3" cy="53.3" r="1.75"/>
<circle cx="190.9" cy="103.2" r="1.75"/>
<circle cx="188.5" cy="97.8" r="1.75"/>
<circle cx="191.6" cy="82.0" r="1.75"/>
<circle cx="193.7" cy="81.9" r="1.75"/>
<circle cx="193.6" cy="68.8" r="1.75"/>
<circle cx="188.0" cy="65.4" r="1.75"/>
<circle cx="190.2" cy="34.5" r="1.75"/>
<circle cx="187.8" cy="60.6" r="1.75"/>
<circle cx="187.8" cy="99.8" r="1.75"/>
<circle cx="191.8" cy="150.7" r="1.75"/>
<circle cx="192.5" cy="121.3" r="1.75"/>
<circle cx="194.1" cy="74.4" r="1.75"/>
<circle cx="186.8" cy="75.6" r="1.75"/>
<circle cx="191.5" cy="82.3" r="1.75"/>
<circle cx="186.6" cy="151.3" r="1.75"/>
<circle cx="187.7" cy="102.8" r="1.75"/>
<circle cx="186.9" cy="140.9" r="1.75"/>
<circle cx="188.4" cy="143.7" r="1.75"/>
<circle cx="192.7" cy="134.4" r="1.75"/>
<circle cx="193.7" cy="55.5" r="1.75"/>
<circle cx="188.2" cy="99.9" r="1.75"/>
<circle cx="188.9" cy="39.5" r="1.75"/>
<circle cx="192.7" cy="118.7" r="1.75"/>
<circle cx="193.2" cy="49.4" r="1.75"/>
<circle cx="190.7" cy="102.0" r="1.75"/>
<circle cx="188.9" cy="139.1" r="1.75"/>
<circle cx="189.5" cy="64.2" r="1.75"/>
<circle cx="192.6" cy="72.5" r="1.75"/>
<circle cx="190.1" cy="130.4" r="1.75"/>
<circle cx="192.4" cy="50.1" r="1.75"/>
<circle cx="187.8" cy="73.2" r="1.75"/>
<circle cx="187.8" cy="65.7" r="1.75"/>
<circle cx="187.2" cy="125.0" r="1.75"/>
<circle cx="187.9" cy="73.2" r="1.75"/>
<circle cx="191.0" cy="83.4" r="1.75"/>
<circle cx="192.8" cy="64.1" r="1.75"/>
<circle cx="189.9" cy="64.6" r="1.75"/>
<circle cx="187.5" cy="80.6" r="1.75"/>
<circle cx="186.6" cy="98.3" r="1.75"/>
<circle cx="189.3" cy="67.1" r="1.75"/>
<circle cx="186.9" cy="125.8" r="1.75"/>
<circle cx="186.8" cy="142.1" r="1.75"/>
<circle cx="189.4" cy="108.6" r="1.75"/>
<circle cx="187.1" cy="44.4" r="1.75"/>
<circle cx="189.2" cy="84.3" r="1.75"/>
<circle cx="187.0" cy="116.3" r="1.75"/>
<circle cx="186.8" cy="89.8" r="1.75"/>
<circle cx="188.6" cy="122.7" r="1.75"/>
<circle cx="192.9" cy="28.9" r="1.75"/>
<circle cx="186.7" cy="99.3" r="1.75"/>
<circle cx="188.7" cy="93.4" r="1.75"/>
<circle cx="187.0" cy="111.4" r="1.75"/>
<circle cx="194.9" cy="53.4" r="1.75"/>
<circle cx="191.4" cy="58.9" r="1.75"/>
<circle cx="190.5" cy="105.7" r="1.75"/>
<circle cx="192.7" cy="155.6" r="1.75"/>
<circle cx="194.2" cy="87.9" r="1.75"/>
<circle cx="186.8" cy="109.9" r="1.75"/>
<circle cx="187.1" cy="129.5" r="1.75"/>
<circle cx="193.8" cy="96.6" r="1.75"/>
<circle cx="189.3" cy="118.2" r="1.75"/>
<circle cx="189.9" cy="120.0" r="1.75"/>
<circle cx="186.9" cy="126.3" r="1.75"/>
<circle cx="191.5" cy="139.4" r="1.75"/>
<circle cx="194.6" cy="146.6" r="1.75"/>
<circle cx="193.4" cy="91.2" r="1.75"/>
<circle cx="194.5" cy="141.0" r="1.75"/>
<circle cx="186.6" cy="106.6" r="1.75"/>
<circle cx="190.2" cy="148.3" r="1.75"/>
<circle cx="186.8" cy="117.2" r="1.75"/>
<circle cx="194.2" cy="151.1" r="1.75"/>
<circle cx="190.6" cy="131.9" r="1.75"/>
<circle cx="188.3" cy="124.4" r="1.75"/>
<circle cx="187.6" cy="93.1" r="1.75"/>
<circle cx="190.3" cy="126.1" r="1.75"/>
<circle cx="186.6" cy="122.6" r="1.75"/>
<circle cx="187.5" cy="55.5" r="1.75"/>
<circle cx="190.7" cy="151.1" r="1.75"/>
<circle cx="190.1" cy="64.1" r="1.75"/>
<circle cx="192.3" cy="51.1" r="1.75"/>
<circle cx="186.6" cy="105.8" r="1.75"/>
<circle cx="194.1" cy="30.6" r="1.75"/>
<circle cx="186.8" cy="143.2" r="1.75"/>
<circle cx="189.1" cy="123.8" r="1.75"/>
<circle cx="186.7" cy="146.0" r="1.75"/>
<circle cx="187.7" cy="124.7" r="1.75"/>
<circle cx="190.5" cy="88.3" r="1.75"/>
<circle cx="192.9" cy="43.5" r="1.75"/>
<circle cx="187.3" cy="26.3" r="1.75"/>
<circle cx="188.3" cy="47.6" r="1.75"/>
<circle cx="187.6" cy="144.7" r="1.75"/>
<circle cx="193.4" cy="74.2" r="1.75"/>
<circle cx="187.0" cy="94.9" r="1.75"/>
<circle cx="190.3" cy="152.0" r="1.75"/>
<circle cx="191.7" cy="100.5" r="1.75"/>
<circle cx="187.7" cy="110.2" r="1.75"/>
<circle cx="187.8" cy="74.8" r="1.75"/>
<circle cx="193.0" cy="154.1" r="1.75"/>
<circle cx="186.6" cy="151.9" r="1.75"/>
<circle cx="190.9" cy="73.5" r="1.75"/>
<circle cx="186.6" cy="132.1" r="1.75"/>
<circle cx="195.0" cy="101.0" r="1.75"/>
<circle cx="193.2" cy="52.8" r="1.75"/>
<circle cx="188.1" cy="126.1" r="1.75"/>
<circle cx="188.6" cy="148.7" r="1.75"/>
<circle cx="193.9" cy="76.7" r="1.75"/>
<circle cx="194.8" cy="83.0" r="1.75"/>
<circle cx="193.3" cy="112.1" r="1.75"/>
<circle cx="187.4" cy="37.7" r="1.75"/>
<circle cx="193.0" cy="92.0" r="1.75"/>
<circle cx="192.1" cy="127.4" r="1.75"/>
<circle cx="186.8" cy="112.3" r="1.75"/>
<circle cx="187.4" cy="121.9" r="1.75"/>
<circle cx="187.0" cy="139.3" r="1.75"/>
<circle cx="187.5" cy="51.0" r="1.75"/>
<circle cx="191.7" cy="66.3" r="1.75"/>
<circle cx="194.2" cy="71.3" r="1.75"/>
<circle cx="189.4" cy="13.0" r="1.75"/>
<circle cx="188.1" cy="18.6" r="1.75"/>
</g>
<g fill="#8080ec" stroke="#3030a0" stroke-width="0.55">
<circle cx="146.0" cy="61.9" r="1.75"/>
<circle cx="145.7" cy="58.6" r="1.75"/>
<circle cx="147.4" cy="154.9" r="1.75"/>
<circle cx="145.2" cy="64.9" r="1.75"/>
<circle cx="142.9" cy="135.0" r="1.75"/>
<circle cx="146.5" cy="145.3" r="1.75"/>
<circle cx="149.5" cy="110.0" r="1.75"/>
<circle cx="149.0" cy="77.0" r="1.75"/>
<circle cx="144.2" cy="77.5" r="1.75"/>
<circle cx="144.6" cy="122.8" r="1.75"/>
<circle cx="146.5" cy="130.2" r="1.75"/>
<circle cx="148.0" cy="93.4" r="1.75"/>
<circle cx="149.4" cy="136.3" r="1.75"/>
<circle cx="149.4" cy="121.6" r="1.75"/>
<circle cx="143.0" cy="94.8" r="1.75"/>
<circle cx="147.2" cy="71.7" r="1.75"/>
<circle cx="149.0" cy="127.8" r="1.75"/>
<circle cx="149.0" cy="73.9" r="1.75"/>
<circle cx="143.3" cy="137.6" r="1.75"/>
<circle cx="149.1" cy="117.2" r="1.75"/>
<circle cx="143.8" cy="104.8" r="1.75"/>
<circle cx="146.0" cy="117.3" r="1.75"/>
<circle cx="147.5" cy="124.0" r="1.75"/>
<circle cx="146.5" cy="128.1" r="1.75"/>
<circle cx="149.5" cy="139.7" r="1.75"/>
<circle cx="149.7" cy="25.9" r="1.75"/>
<circle cx="143.2" cy="75.8" r="1.75"/>
<circle cx="144.1" cy="152.2" r="1.75"/>
<circle cx="148.6" cy="110.3" r="1.75"/>
<circle cx="146.5" cy="132.7" r="1.75"/>
<circle cx="149.7" cy="143.5" r="1.75"/>
<circle cx="148.8" cy="68.3" r="1.75"/>
<circle cx="148.8" cy="95.8" r="1.75"/>
<circle cx="149.6" cy="72.6" r="1.75"/>
<circle cx="148.8" cy="80.6" r="1.75"/>
<circle cx="146.6" cy="102.7" r="1.75"/>
<circle cx="145.7" cy="79.3" r="1.75"/>
<circle cx="145.0" cy="110.7" r="1.75"/>
<circle cx="149.2" cy="125.0" r="1.75"/>
<circle cx="146.6" cy="123.5" r="1.75"/>
<circle cx="149.2" cy="134.9" r="1.75"/>
<circle cx="144.3" cy="118.7" r="1.75"/>
<circle cx="145.0" cy="115.1" r="1.75"/>
<circle cx="143.2" cy="97.4" r="1.75"/>
<circle cx="148.2" cy="84.3" r="1.75"/>
<circle cx="149.6" cy="131.9" r="1.75"/>
<circle cx="149.0" cy="115.2" r="1.75"/>
<circle cx="149.6" cy="73.8" r="1.75"/>
<circle cx="147.8" cy="91.6" r="1.75"/>
<circle cx="149.7" cy="93.5" r="1.75"/>
<circle cx="148.7" cy="52.1" r="1.75"/>
<circle cx="148.3" cy="110.0" r="1.75"/>
<circle cx="142.7" cy="152.5" r="1.75"/>
<circle cx="145.8" cy="69.1" r="1.75"/>
<circle cx="149.4" cy="106.5" r="1.75"/>
<circle cx="148.5" cy="141.1" r="1.75"/>
<circle cx="149.6" cy="141.8" r="1.75"/>
<circle cx="149.7" cy="82.8" r="1.75"/>
<circle cx="145.9" cy="72.3" r="1.75"/>
<circle cx="149.6" cy="59.0" r="1.75"/>
<circle cx="149.6" cy="106.0" r="1.75"/>
<circle cx="148.1" cy="68.7" r="1.75"/>
<circle cx="144.6" cy="112.5" r="1.75"/>
<circle cx="146.6" cy="96.7" r="1.75"/>
<circle cx="148.3" cy="101.8" r="1.75"/>
<circle cx="148.8" cy="75.1" r="1.75"/>
<circle cx="147.0" cy="99.3" r="1.75"/>
<circle cx="145.5" cy="63.8" r="1.75"/>
<circle cx="147.7" cy="101.9" r="1.75"/>
<circle cx="144.9" cy="136.7" r="1.75"/>
<circle cx="147.1" cy="110.7" r="1.75"/>
<circle cx="149.3" cy="117.8" r="1.75"/>
<circle cx="143.6" cy="126.7" r="1.75"/>
<circle cx="145.9" cy="155.5" r="1.75"/>
<circle cx="147.5" cy="72.0" r="1.75"/>
<circle cx="143.0" cy="102.4" r="1.75"/>
<circle cx="147.9" cy="70.7" r="1.75"/>
<circle cx="147.5" cy="77.0" r="1.75"/>
<circle cx="143.9" cy="101.0" r="1.75"/>
<circle cx="149.4" cy="136.0" r="1.75"/>
<circle cx="144.8" cy="141.6" r="1.75"/>
<circle cx="146.4" cy="67.8" r="1.75"/>
<circle cx="147.9" cy="100.7" r="1.75"/>
<circle cx="147.6" cy="21.6" r="1.75"/>
<circle cx="143.7" cy="48.3" r="1.75"/>
<circle cx="143.2" cy="128.6" r="1.75"/>
<circle cx="146.2" cy="134.0" r="1.75"/>
<circle cx="142.9" cy="147.0" r="1.75"/>
<circle cx="147.8" cy="72.2" r="1.75"/>
<circle cx="147.4" cy="141.3" r="1.75"/>
<circle cx="144.6" cy="133.1" r="1.75"/>
<circle cx="145.7" cy="118.5" r="1.75"/>
<circle cx="148.8" cy="91.1" r="1.75"/>
<circle cx="147.8" cy="122.2" r="1.75"/>
<circle cx="145.4" cy="105.8" r="1.75"/>
<circle cx="143.4" cy="16.3" r="1.75"/>
<circle cx="146.0" cy="17.5" r="1.75"/>
<circle cx="147.4" cy="19.7" r="1.75"/>
<circle cx="143.4" cy="27.5" r="1.75"/>
<circle cx="150.0" cy="24.2" r="1.75"/>
<circle cx="151.3" cy="32.0" r="1.75"/>
</g>
<g fill="#d40000" stroke="#7a0000" stroke-width="0.55">
<circle cx="204.0" cy="105.8" r="1.75"/>
<circle cx="195.1" cy="69.2" r="1.75"/>
<circle cx="202.3" cy="76.7" r="1.75"/>
<circle cx="207.0" cy="103.2" r="1.75"/>
<circle cx="199.3" cy="94.1" r="1.75"/>
<circle cx="205.8" cy="107.8" r="1.75"/>
<circle cx="196.0" cy="103.5" r="1.75"/>
<circle cx="205.1" cy="61.7" r="1.75"/>
<circle cx="195.5" cy="53.5" r="1.75"/>
<circle cx="208.9" cy="107.0" r="1.75"/>
<circle cx="204.4" cy="67.3" r="1.75"/>
<circle cx="201.1" cy="118.7" r="1.75"/>
<circle cx="194.7" cy="47.8" r="1.75"/>
<circle cx="196.9" cy="52.8" r="1.75"/>
<circle cx="205.8" cy="49.0" r="1.75"/>
<circle cx="203.2" cy="63.6" r="1.75"/>
<circle cx="205.0" cy="39.5" r="1.75"/>
<circle cx="207.2" cy="46.5" r="1.75"/>
<circle cx="196.8" cy="41.9" r="1.75"/>
<circle cx="194.9" cy="124.0" r="1.75"/>
<circle cx="206.0" cy="83.6" r="1.75"/>
<circle cx="208.0" cy="107.7" r="1.75"/>
<circle cx="194.8" cy="127.9" r="1.75"/>
<circle cx="206.4" cy="54.4" r="1.75"/>
<circle cx="198.1" cy="71.7" r="1.75"/>
<circle cx="194.8" cy="40.1" r="1.75"/>
<circle cx="196.4" cy="122.4" r="1.75"/>
<circle cx="198.9" cy="91.2" r="1.75"/>
<circle cx="199.0" cy="64.4" r="1.75"/>
<circle cx="195.5" cy="55.9" r="1.75"/>
<circle cx="196.8" cy="100.1" r="1.75"/>
<circle cx="206.7" cy="62.2" r="1.75"/>
<circle cx="203.1" cy="56.1" r="1.75"/>
<circle cx="198.1" cy="105.9" r="1.75"/>
<circle cx="199.5" cy="50.0" r="1.75"/>
<circle cx="195.4" cy="66.4" r="1.75"/>
<circle cx="198.8" cy="39.3" r="1.75"/>
<circle cx="202.8" cy="41.7" r="1.75"/>
<circle cx="197.9" cy="93.1" r="1.75"/>
<circle cx="196.1" cy="121.4" r="1.75"/>
<circle cx="196.7" cy="120.8" r="1.75"/>
<circle cx="201.2" cy="81.2" r="1.75"/>
<circle cx="203.3" cy="60.9" r="1.75"/>
<circle cx="208.4" cy="85.7" r="1.75"/>
<circle cx="201.0" cy="85.6" r="1.75"/>
<circle cx="198.8" cy="106.6" r="1.75"/>
<circle cx="196.7" cy="107.5" r="1.75"/>
<circle cx="199.3" cy="95.0" r="1.75"/>
<circle cx="199.9" cy="70.0" r="1.75"/>
<circle cx="208.9" cy="79.5" r="1.75"/>
<circle cx="208.9" cy="109.3" r="1.75"/>
<circle cx="200.9" cy="79.7" r="1.75"/>
<circle cx="198.4" cy="93.3" r="1.75"/>
<circle cx="195.9" cy="35.1" r="1.75"/>
<circle cx="194.9" cy="54.7" r="1.75"/>
<circle cx="198.8" cy="106.0" r="1.75"/>
<circle cx="196.6" cy="39.1" r="1.75"/>
<circle cx="197.0" cy="80.1" r="1.75"/>
<circle cx="198.0" cy="70.8" r="1.75"/>
<circle cx="200.1" cy="85.3" r="1.75"/>
<circle cx="195.0" cy="141.6" r="1.75"/>
<circle cx="201.7" cy="144.3" r="1.75"/>
<circle cx="199.4" cy="113.4" r="1.75"/>
<circle cx="203.4" cy="108.3" r="1.75"/>
<circle cx="194.8" cy="126.9" r="1.75"/>
<circle cx="196.9" cy="72.6" r="1.75"/>
<circle cx="202.7" cy="51.8" r="1.75"/>
<circle cx="208.1" cy="82.5" r="1.75"/>
<circle cx="194.8" cy="70.4" r="1.75"/>
<circle cx="197.2" cy="77.0" r="1.75"/>
<circle cx="195.4" cy="100.3" r="1.75"/>
<circle cx="196.0" cy="68.9" r="1.75"/>
<circle cx="207.9" cy="103.6" r="1.75"/>
<circle cx="199.2" cy="73.6" r="1.75"/>
<circle cx="203.9" cy="104.6" r="1.75"/>
<circle cx="196.2" cy="71.6" r="1.75"/>
<circle cx="196.7" cy="89.1" r="1.75"/>
<circle cx="201.3" cy="82.6" r="1.75"/>
<circle cx="208.5" cy="105.7" r="1.75"/>
<circle cx="195.8" cy="99.3" r="1.75"/>
<circle cx="206.7" cy="49.2" r="1.75"/>
<circle cx="194.8" cy="125.2" r="1.75"/>
<circle cx="195.9" cy="57.7" r="1.75"/>
<circle cx="202.4" cy="126.1" r="1.75"/>
<circle cx="204.4" cy="48.1" r="1.75"/>
<circle cx="204.9" cy="105.8" r="1.75"/>
<circle cx="205.0" cy="115.5" r="1.75"/>
<circle cx="207.5" cy="128.8" r="1.75"/>
<circle cx="197.7" cy="110.6" r="1.75"/>
<circle cx="205.0" cy="59.4" r="1.75"/>
<circle cx="199.6" cy="84.6" r="1.75"/>
<circle cx="196.5" cy="79.1" r="1.75"/>
<circle cx="194.8" cy="64.0" r="1.75"/>
<circle cx="208.1" cy="93.7" r="1.75"/>
<circle cx="198.6" cy="79.3" r="1.75"/>
<circle cx="197.5" cy="41.1" r="1.75"/>
<circle cx="195.8" cy="90.2" r="1.75"/>
<circle cx="202.4" cy="61.3" r="1.75"/>
<circle cx="196.6" cy="131.0" r="1.75"/>
<circle cx="202.4" cy="130.6" r="1.75"/>
<circle cx="217.1" cy="8.5" r="1.75"/>
<circle cx="201.3" cy="13.0" r="1.75"/>
<circle cx="234.2" cy="47.6" r="1.75"/>
<circle cx="235.5" cy="76.6" r="1.75"/>
<circle cx="222.3" cy="55.4" r="1.75"/>
<circle cx="221.0" cy="58.7" r="1.75"/>
<circle cx="222.3" cy="63.2" r="1.75"/>
<circle cx="215.7" cy="102.2" r="1.75"/>
<circle cx="209.2" cy="35.3" r="1.75"/>
<circle cx="218.4" cy="77.7" r="1.75"/>
<circle cx="213.1" cy="69.9" r="1.75"/>
<circle cx="211.8" cy="66.5" r="1.75"/>
<circle cx="205.2" cy="27.5" r="1.75"/>
<circle cx="196.0" cy="28.6" r="1.75"/>
<circle cx="202.6" cy="33.1" r="1.75"/>
</g>
<g fill="#0000c8" stroke="#00006a" stroke-width="0.55">
<circle cx="131.3" cy="143.9" r="1.75"/>
<circle cx="130.4" cy="69.3" r="1.75"/>
<circle cx="136.3" cy="62.3" r="1.75"/>
<circle cx="132.0" cy="82.7" r="1.75"/>
<circle cx="139.8" cy="137.3" r="1.75"/>
<circle cx="141.7" cy="136.7" r="1.75"/>
<circle cx="133.7" cy="80.0" r="1.75"/>
<circle cx="129.3" cy="109.8" r="1.75"/>
<circle cx="138.4" cy="65.1" r="1.75"/>
<circle cx="131.8" cy="53.9" r="1.75"/>
<circle cx="142.8" cy="56.3" r="1.75"/>
<circle cx="137.7" cy="70.9" r="1.75"/>
<circle cx="140.5" cy="95.0" r="1.75"/>
<circle cx="132.5" cy="78.3" r="1.75"/>
<circle cx="133.4" cy="137.4" r="1.75"/>
<circle cx="129.8" cy="140.6" r="1.75"/>
<circle cx="131.4" cy="92.7" r="1.75"/>
<circle cx="134.5" cy="124.9" r="1.75"/>
<circle cx="131.9" cy="74.5" r="1.75"/>
<circle cx="140.0" cy="58.6" r="1.75"/>
<circle cx="137.6" cy="65.1" r="1.75"/>
<circle cx="140.2" cy="110.7" r="1.75"/>
<circle cx="140.5" cy="142.5" r="1.75"/>
<circle cx="141.4" cy="131.4" r="1.75"/>
<circle cx="136.1" cy="100.5" r="1.75"/>
<circle cx="141.8" cy="59.8" r="1.75"/>
<circle cx="134.3" cy="97.2" r="1.75"/>
<circle cx="139.6" cy="106.6" r="1.75"/>
<circle cx="129.9" cy="106.0" r="1.75"/>
<circle cx="136.3" cy="59.3" r="1.75"/>
<circle cx="137.9" cy="65.8" r="1.75"/>
<circle cx="142.2" cy="79.3" r="1.75"/>
<circle cx="141.6" cy="120.1" r="1.75"/>
<circle cx="142.0" cy="63.2" r="1.75"/>
<circle cx="130.2" cy="71.4" r="1.75"/>
<circle cx="136.4" cy="135.2" r="1.75"/>
<circle cx="136.1" cy="61.5" r="1.75"/>
<circle cx="133.0" cy="145.5" r="1.75"/>
<circle cx="128.6" cy="56.8" r="1.75"/>
<circle cx="135.0" cy="143.6" r="1.75"/>
<circle cx="133.1" cy="87.2" r="1.75"/>
<circle cx="142.9" cy="104.1" r="1.75"/>
<circle cx="142.8" cy="139.9" r="1.75"/>
<circle cx="133.6" cy="74.0" r="1.75"/>
<circle cx="108.7" cy="63.2" r="1.75"/>
<circle cx="142.1" cy="48.7" r="1.75"/>
<circle cx="140.8" cy="54.3" r="1.75"/>
<circle cx="128.9" cy="116.7" r="1.75"/>
<circle cx="134.2" cy="136.8" r="1.75"/>
<circle cx="135.5" cy="143.5" r="1.75"/>
</g>
<rect x="86.9" y="1.3" width="190.0" height="162.9" fill="none" stroke="#7a7a7a" stroke-width="1.1"/>
<line x1="86.9" y1="164.2" x2="277.4" y2="164.2" stroke="#404040" stroke-width="1.3"/>
<text x="88.2" y="174.9" font-size="11" text-anchor="middle">-3</text>
<text x="113.5" y="174.9" font-size="11" text-anchor="middle">-2</text>
<text x="139.8" y="174.9" font-size="11" text-anchor="middle">-1</text>
<text x="168.4" y="174.9" font-size="11" text-anchor="middle">0</text>
<text x="194.7" y="174.9" font-size="11" text-anchor="middle">1</text>
<text x="221.0" y="174.9" font-size="11" text-anchor="middle">2</text>
<text x="247.3" y="174.9" font-size="11" text-anchor="middle">3</text>
<text x="273.6" y="174.9" font-size="11" text-anchor="middle">4</text>
<text x="85.0" y="165.1" font-size="10.4" text-anchor="end">0</text>
<text x="85.0" y="142.8" font-size="10.4" text-anchor="end">2</text>
<text x="85.0" y="120.5" font-size="10.4" text-anchor="end">4</text>
<text x="85.0" y="98.2" font-size="10.4" text-anchor="end">6</text>
<text x="85.0" y="75.9" font-size="10.4" text-anchor="end">8</text>
<text x="85.0" y="53.6" font-size="10.4" text-anchor="end">10</text>
<text x="85.0" y="31.3" font-size="10.4" text-anchor="end">12</text>
<text x="85.0" y="9.0" font-size="10.4" text-anchor="end">14</text>
<text transform="translate(66.8,82.7) rotate(-90)" font-size="14" font-weight="bold" text-anchor="middle" textLength="104.2" lengthAdjust="spacingAndGlyphs">-Log10 (p-value)</text>
<text x="170.6" y="191.5" font-size="14" font-weight="bold" text-anchor="middle" textLength="60.6" lengthAdjust="spacingAndGlyphs">Log2 (Fc)</text>
<text x="373.0" y="18.2" font-size="21.5" font-weight="bold" textLength="20.4" lengthAdjust="spacingAndGlyphs">B.</text>
<polygon points="418.4,10.0 595.6,10.0 582.0,23.6 432.0,23.6" fill="url(#gtop)"/>
<polygon points="418.4,10.0 432.0,23.6 432.0,170.8 418.0,181.8 418.4,179.8" fill="url(#gleft)"/>
<rect x="432.0" y="23.6" width="150.0" height="147.2" fill="#fff"/>
<line x1="432.0" y1="23.6" x2="432.0" y2="170.8" stroke="#aaaaaa" stroke-width="1.0"/>
<line x1="432.0" y1="23.6" x2="418.4" y2="10.0" stroke="#8a8a8a" stroke-width="0.8"/>
<line x1="447.0" y1="23.6" x2="447.0" y2="170.8" stroke="#aaaaaa" stroke-width="1.0"/>
<line x1="447.0" y1="23.6" x2="436.1" y2="10.0" stroke="#8a8a8a" stroke-width="0.8"/>
<line x1="462.0" y1="23.6" x2="462.0" y2="170.8" stroke="#aaaaaa" stroke-width="1.0"/>
<line x1="462.0" y1="23.6" x2="453.8" y2="10.0" stroke="#8a8a8a" stroke-width="0.8"/>
<line x1="477.0" y1="23.6" x2="477.0" y2="170.8" stroke="#aaaaaa" stroke-width="1.0"/>
<line x1="477.0" y1="23.6" x2="471.6" y2="10.0" stroke="#8a8a8a" stroke-width="0.8"/>
<line x1="492.0" y1="23.6" x2="492.0" y2="170.8" stroke="#aaaaaa" stroke-width="1.0"/>
<line x1="492.0" y1="23.6" x2="489.3" y2="10.0" stroke="#8a8a8a" stroke-width="0.8"/>
<line x1="507.0" y1="23.6" x2="507.0" y2="170.8" stroke="#aaaaaa" stroke-width="1.0"/>
<line x1="507.0" y1="23.6" x2="507.0" y2="10.0" stroke="#8a8a8a" stroke-width="0.8"/>
<line x1="522.0" y1="23.6" x2="522.0" y2="170.8" stroke="#aaaaaa" stroke-width="1.0"/>
<line x1="522.0" y1="23.6" x2="524.7" y2="10.0" stroke="#8a8a8a" stroke-width="0.8"/>
<line x1="537.0" y1="23.6" x2="537.0" y2="170.8" stroke="#aaaaaa" stroke-width="1.0"/>
<line x1="537.0" y1="23.6" x2="542.4" y2="10.0" stroke="#8a8a8a" stroke-width="0.8"/>
<line x1="552.0" y1="23.6" x2="552.0" y2="170.8" stroke="#aaaaaa" stroke-width="1.0"/>
<line x1="552.0" y1="23.6" x2="560.2" y2="10.0" stroke="#8a8a8a" stroke-width="0.8"/>
<line x1="567.0" y1="23.6" x2="567.0" y2="170.8" stroke="#aaaaaa" stroke-width="1.0"/>
<line x1="567.0" y1="23.6" x2="577.9" y2="10.0" stroke="#8a8a8a" stroke-width="0.8"/>
<line x1="582.0" y1="23.6" x2="582.0" y2="170.8" stroke="#aaaaaa" stroke-width="1.0"/>
<line x1="582.0" y1="23.6" x2="595.6" y2="10.0" stroke="#8a8a8a" stroke-width="0.8"/>
<line x1="432.0" y1="23.6" x2="582.0" y2="23.6" stroke="#aaaaaa" stroke-width="1.0"/>
<line x1="432.0" y1="23.6" x2="418.4" y2="10.0" stroke="#8a8a8a" stroke-width="0.8"/>
<line x1="432.0" y1="38.3" x2="582.0" y2="38.3" stroke="#aaaaaa" stroke-width="1.0"/>
<line x1="432.0" y1="38.3" x2="418.4" y2="27.2" stroke="#8a8a8a" stroke-width="0.8"/>
<line x1="432.0" y1="53.0" x2="582.0" y2="53.0" stroke="#aaaaaa" stroke-width="1.0"/>
<line x1="432.0" y1="53.0" x2="418.4" y2="44.4" stroke="#8a8a8a" stroke-width="0.8"/>
<line x1="432.0" y1="67.8" x2="582.0" y2="67.8" stroke="#aaaaaa" stroke-width="1.0"/>
<line x1="432.0" y1="67.8" x2="418.4" y2="61.5" stroke="#8a8a8a" stroke-width="0.8"/>
<line x1="432.0" y1="82.5" x2="582.0" y2="82.5" stroke="#aaaaaa" stroke-width="1.0"/>
<line x1="432.0" y1="82.5" x2="418.4" y2="78.7" stroke="#8a8a8a" stroke-width="0.8"/>
<line x1="432.0" y1="97.2" x2="582.0" y2="97.2" stroke="#aaaaaa" stroke-width="1.0"/>
<line x1="432.0" y1="97.2" x2="418.4" y2="95.9" stroke="#8a8a8a" stroke-width="0.8"/>
<line x1="432.0" y1="111.9" x2="582.0" y2="111.9" stroke="#aaaaaa" stroke-width="1.0"/>
<line x1="432.0" y1="111.9" x2="418.4" y2="113.1" stroke="#8a8a8a" stroke-width="0.8"/>
<line x1="432.0" y1="126.6" x2="582.0" y2="126.6" stroke="#aaaaaa" stroke-width="1.0"/>
<line x1="432.0" y1="126.6" x2="418.4" y2="130.3" stroke="#8a8a8a" stroke-width="0.8"/>
<line x1="432.0" y1="141.4" x2="582.0" y2="141.4" stroke="#aaaaaa" stroke-width="1.0"/>
<line x1="432.0" y1="141.4" x2="418.4" y2="147.4" stroke="#8a8a8a" stroke-width="0.8"/>
<line x1="432.0" y1="156.1" x2="582.0" y2="156.1" stroke="#aaaaaa" stroke-width="1.0"/>
<line x1="432.0" y1="156.1" x2="418.4" y2="164.6" stroke="#8a8a8a" stroke-width="0.8"/>
<line x1="432.0" y1="170.8" x2="582.0" y2="170.8" stroke="#aaaaaa" stroke-width="1.0"/>
<line x1="432.0" y1="170.8" x2="418.4" y2="181.8" stroke="#8a8a8a" stroke-width="0.8"/>
<line x1="418.4" y1="10.0" x2="595.6" y2="10.0" stroke="#999" stroke-width="1"/>
<line x1="418.4" y1="10.0" x2="418.4" y2="180.8" stroke="#999" stroke-width="1"/>
<line x1="432.0" y1="23.6" x2="432.0" y2="170.8" stroke="#909090" stroke-width="1.6"/>
<line x1="432.0" y1="170.8" x2="582.0" y2="170.8" stroke="#909090" stroke-width="1.4"/>
<line x1="432.0" y1="23.6" x2="582.0" y2="23.6" stroke="#a8a8a8" stroke-width="1.2"/>
<line x1="582.0" y1="23.6" x2="582.0" y2="170.8" stroke="#b0b0b0" stroke-width="1.2"/>
<line x1="432.0" y1="170.8" x2="412.0" y2="182.0" stroke="#888" stroke-width="1"/>
<line x1="429.0" y1="171.8" x2="414.0" y2="180.0" stroke="#aaa" stroke-width="0.8"/>
<text x="503.0" y="170.5" font-size="3.6" text-anchor="middle" fill="#666">PC#2(9.8%)</text>
<text transform="translate(410.5,174.5) rotate(-90)" font-size="3.6" text-anchor="middle" fill="#555">PC#3(8%)</text>
<text x="426.5" y="99.2" font-size="3.6" text-anchor="middle" fill="#666">PC#1(38%)</text>
<circle cx="427.0" cy="58.8" r="4.1" fill="url(#sp)"/>
<circle cx="429.0" cy="63.3" r="4.1" fill="url(#sp)"/>
<circle cx="431.2" cy="67.7" r="4.1" fill="url(#sp)"/>
<circle cx="431.7" cy="139.6" r="4.1" fill="url(#sp)"/>
<circle cx="431.4" cy="147.8" r="4.1" fill="url(#sp)"/>
<circle cx="437.1" cy="156.3" r="4.1" fill="url(#sp)"/>
<circle cx="468.2" cy="99.2" r="3.6" fill="url(#ss)"/>
<circle cx="469.2" cy="102.2" r="3.6" fill="url(#ss)"/>
<circle cx="470.0" cy="105.0" r="3.6" fill="url(#ss)"/>
<circle cx="461.2" cy="140.1" r="3.6" fill="url(#ss)"/>
<circle cx="462.0" cy="142.3" r="3.6" fill="url(#ss)"/>
<circle cx="563.4" cy="21.8" r="4.3" fill="url(#sg)"/>
<circle cx="568.3" cy="27.6" r="4.3" fill="url(#sg)"/>
<circle cx="572.0" cy="155.8" r="4.3" fill="url(#sg)"/>
<circle cx="570.8" cy="65.8" r="4.3" fill="url(#sb)"/>
<circle cx="573.8" cy="70.7" r="4.3" fill="url(#sb)"/>
<circle cx="574.6" cy="78.7" r="4.3" fill="url(#sb)"/>
<circle cx="578.3" cy="170.0" r="4.3" fill="url(#sb)"/>
<circle cx="582.0" cy="176.4" r="4.3" fill="url(#sb)"/>
<circle cx="581.5" cy="171.4" r="4.3" fill="url(#sg)"/>
<line x1="401.5" y1="126.7" x2="600" y2="126.7" stroke="#000" stroke-width="2.6" stroke-dasharray="8.6,6.4"/>
<text x="586.2" y="114.8" font-size="10.5" font-weight="bold" textLength="41" lengthAdjust="spacingAndGlyphs">TAK-228</text>
<text x="587.6" y="141.5" font-size="10.5" font-weight="bold" textLength="30.5" lengthAdjust="spacingAndGlyphs">DMSO</text>
<rect x="599.6" y="10.9" width="53.0" height="47.3" fill="#fff" stroke="#7a7a7a" stroke-width="0.9"/>
<line x1="599.6" y1="21.8" x2="652.6" y2="21.8" stroke="#7a7a7a" stroke-width="0.9"/>
<text x="601.9" y="19.8" font-size="9.3" font-weight="bold" textLength="37.8" lengthAdjust="spacingAndGlyphs">Cell Line</text>
<rect x="601.7" y="27.0" width="4.4" height="4.4" fill="#f4a07a"/>
<text x="607.6" y="32.5" font-size="9.3" font-weight="bold" textLength="22.4" lengthAdjust="spacingAndGlyphs">BT37</text>
<rect x="601.7" y="34.9" width="4.4" height="4.4" fill="#1010e6"/>
<text x="607.6" y="40.4" font-size="9.3" font-weight="bold" textLength="36" lengthAdjust="spacingAndGlyphs">CHLA02</text>
<rect x="601.7" y="42.9" width="4.4" height="4.4" fill="#1e7a1e"/>
<text x="607.6" y="48.4" font-size="9.3" font-weight="bold" textLength="36" lengthAdjust="spacingAndGlyphs">CHLA06</text>
<rect x="601.7" y="50.8" width="4.4" height="4.4" fill="#6a0a7a"/>
<text x="607.6" y="56.3" font-size="9.3" font-weight="bold" textLength="42" lengthAdjust="spacingAndGlyphs">CHLA266</text>
<text x="51.3" y="213.9" font-size="21.5" font-weight="bold" textLength="20.9" lengthAdjust="spacingAndGlyphs">C.</text>
<text x="83.3" y="234.1" font-size="13.5" font-weight="bold" textLength="203.5" lengthAdjust="spacingAndGlyphs">Pathways Impacted by TAK-228</text>
<line x1="89.7" y1="250.7" x2="89.7" y2="283.3" stroke="#000" stroke-width="1.4"/>
<line x1="83.3" y1="251.3" x2="89.7" y2="251.3" stroke="#000" stroke-width="1.2"/>
<line x1="83.3" y1="269.8" x2="89.7" y2="269.8" stroke="#000" stroke-width="1.2"/>
<line x1="86.2" y1="282.6" x2="93.2" y2="282.6" stroke="#000" stroke-width="1.6"/>
<text x="82.3" y="254.8" font-size="9.5" text-anchor="end">4</text>
<text x="82.3" y="273.3" font-size="9.5" text-anchor="end">3</text>
<line x1="89.7" y1="294.2" x2="89.7" y2="419.5" stroke="#000" stroke-width="1.4"/>
<line x1="86.2" y1="294.8" x2="93.2" y2="294.8" stroke="#000" stroke-width="1.6"/>
<line x1="83.3" y1="310.6" x2="89.7" y2="310.6" stroke="#000" stroke-width="1.2"/>
<text x="83.2" y="314.2" font-size="10" text-anchor="end">2</text>
<line x1="83.3" y1="365.2" x2="89.7" y2="365.2" stroke="#000" stroke-width="1.2"/>
<text x="83.2" y="368.8" font-size="10" text-anchor="end">1</text>
<line x1="83.3" y1="419.0" x2="89.7" y2="419.0" stroke="#000" stroke-width="1.2"/>
<text x="83.2" y="422.6" font-size="10" text-anchor="end">0</text>
<line x1="89.0" y1="419.0" x2="238.6" y2="419.0" stroke="#000" stroke-width="1.6"/>
<line x1="89.5" y1="419.0" x2="89.5" y2="424.0" stroke="#000" stroke-width="1.2"/>
<text x="89.5" y="435.0" font-size="9.5" text-anchor="middle">0</text>
<line x1="139.2" y1="419.0" x2="139.2" y2="424.0" stroke="#000" stroke-width="1.2"/>
<text x="139.2" y="435.0" font-size="9.5" text-anchor="middle">5</text>
<line x1="189.0" y1="419.0" x2="189.0" y2="424.0" stroke="#000" stroke-width="1.2"/>
<text x="189.0" y="435.0" font-size="9.5" text-anchor="middle">10</text>
<line x1="238.8" y1="419.0" x2="238.8" y2="424.0" stroke="#000" stroke-width="1.2"/>
<text x="238.8" y="435.0" font-size="9.5" text-anchor="middle">15</text>
<text x="171.8" y="450.6" font-size="14" font-weight="bold" text-anchor="middle" textLength="112.3" lengthAdjust="spacingAndGlyphs">Enrichment Ratio</text>
<text transform="translate(64.4,344.0) rotate(-90)" font-size="14" font-weight="bold" text-anchor="middle" textLength="104.3" lengthAdjust="spacingAndGlyphs">-Log10 (p-value)</text>
<circle cx="158.7" cy="264.4" r="3.5" fill="#000"/>
<circle cx="112" cy="305.9" r="3.4" fill="#1010ff"/>
<circle cx="111.3" cy="321.4" r="3.4" fill="#1010ff"/>
<circle cx="163" cy="334.4" r="3.4" fill="#000"/>
<circle cx="129.6" cy="360.7" r="3.4" fill="#000"/>
<circle cx="126.2" cy="364.1" r="3.4" fill="#000"/>
<text x="163.5" y="262.3" font-size="10.5" font-weight="bold" textLength="49.5" lengthAdjust="spacingAndGlyphs">Cell Cycle</text>
<text x="163.5" y="275.8" font-size="10.5" font-weight="bold" textLength="97" lengthAdjust="spacingAndGlyphs">Pathway Regulation</text>
<text x="118.3" y="309.2" font-size="10.5" font-weight="bold" textLength="144.4" lengthAdjust="spacingAndGlyphs">Apoptosis Signaling Pathway</text>
<text x="117.0" y="325.5" font-size="10.5" font-weight="bold" textLength="132.6" lengthAdjust="spacingAndGlyphs">Oxidative Stress Response</text>
<text x="169.8" y="338.0" font-size="10.5" font-weight="bold" textLength="104.2" lengthAdjust="spacingAndGlyphs">Mannose Metabolism</text>
<text x="135.9" y="365.3" font-size="10.5" font-weight="bold" textLength="196.3" lengthAdjust="spacingAndGlyphs">Pyrimidine Ribonucleotide Biosynthesis</text>
<text x="127.0" y="378.2" font-size="10.5" font-weight="bold" textLength="123.7" lengthAdjust="spacingAndGlyphs">Cholesterol Biosynthesis</text>
<text x="354.9" y="213.8" font-size="21.5" font-weight="bold" textLength="20.4" lengthAdjust="spacingAndGlyphs">D.</text>
<rect x="372.8" y="294.4" width="9.2" height="9.1" fill="rgb(25,25,255)"/>
<rect x="382.9" y="294.4" width="9.2" height="9.1" fill="rgb(38,38,255)"/>
<rect x="393.0" y="294.4" width="9.2" height="9.1" fill="rgb(25,25,255)"/>
<rect x="403.1" y="294.4" width="9.2" height="9.1" fill="rgb(0,0,255)"/>
<rect x="413.2" y="294.4" width="9.2" height="9.1" fill="rgb(25,25,255)"/>
<rect x="423.3" y="294.4" width="9.2" height="9.1" fill="rgb(51,51,255)"/>
<rect x="433.4" y="294.4" width="9.2" height="9.1" fill="rgb(25,25,255)"/>
<rect x="443.5" y="294.4" width="9.2" height="9.1" fill="rgb(38,38,255)"/>
<rect x="453.6" y="294.4" width="9.2" height="9.1" fill="rgb(38,38,255)"/>
<rect x="463.7" y="294.4" width="9.2" height="9.1" fill="rgb(64,64,255)"/>
<rect x="473.8" y="294.4" width="9.2" height="9.1" fill="rgb(38,38,255)"/>
<rect x="483.9" y="294.4" width="8.8" height="9.1" fill="rgb(13,13,255)"/>
<rect x="495.3" y="294.4" width="9.2" height="9.1" fill="rgb(255,242,242)"/>
<rect x="505.4" y="294.4" width="9.2" height="9.1" fill="rgb(217,217,255)"/>
<rect x="515.5" y="294.4" width="9.2" height="9.1" fill="rgb(204,204,255)"/>
<rect x="525.7" y="294.4" width="9.2" height="9.1" fill="rgb(178,178,255)"/>
<rect x="535.8" y="294.4" width="9.2" height="9.1" fill="rgb(204,204,255)"/>
<rect x="545.9" y="294.4" width="9.2" height="9.1" fill="rgb(153,153,255)"/>
<rect x="556.0" y="294.4" width="9.2" height="9.1" fill="rgb(230,230,255)"/>
<rect x="566.1" y="294.4" width="9.2" height="9.1" fill="rgb(166,166,255)"/>
<rect x="576.3" y="294.4" width="9.2" height="9.1" fill="rgb(255,255,255)"/>
<rect x="586.4" y="294.4" width="9.2" height="9.1" fill="rgb(255,38,38)"/>
<rect x="596.5" y="294.4" width="9.2" height="9.1" fill="rgb(255,0,0)"/>
<rect x="606.6" y="294.4" width="9.2" height="9.1" fill="rgb(255,89,89)"/>
<rect x="372.8" y="304.5" width="9.2" height="9.1" fill="rgb(25,25,255)"/>
<rect x="382.9" y="304.5" width="9.2" height="9.1" fill="rgb(64,64,255)"/>
<rect x="393.0" y="304.5" width="9.2" height="9.1" fill="rgb(77,77,255)"/>
<rect x="403.1" y="304.5" width="9.2" height="9.1" fill="rgb(89,89,255)"/>
<rect x="413.2" y="304.5" width="9.2" height="9.1" fill="rgb(51,51,255)"/>
<rect x="423.3" y="304.5" width="9.2" height="9.1" fill="rgb(38,38,255)"/>
<rect x="433.4" y="304.5" width="9.2" height="9.1" fill="rgb(0,0,255)"/>
<rect x="443.5" y="304.5" width="9.2" height="9.1" fill="rgb(64,64,255)"/>
<rect x="453.6" y="304.5" width="9.2" height="9.1" fill="rgb(115,115,255)"/>
<rect x="463.7" y="304.5" width="9.2" height="9.1" fill="rgb(64,64,255)"/>
<rect x="473.8" y="304.5" width="9.2" height="9.1" fill="rgb(51,51,255)"/>
<rect x="483.9" y="304.5" width="8.8" height="9.1" fill="rgb(64,64,255)"/>
<rect x="495.3" y="304.5" width="9.2" height="9.1" fill="rgb(166,166,255)"/>
<rect x="505.4" y="304.5" width="9.2" height="9.1" fill="rgb(140,140,255)"/>
<rect x="515.5" y="304.5" width="9.2" height="9.1" fill="rgb(128,128,255)"/>
<rect x="525.7" y="304.5" width="9.2" height="9.1" fill="rgb(255,178,178)"/>
<rect x="535.8" y="304.5" width="9.2" height="9.1" fill="rgb(255,0,0)"/>
<rect x="545.9" y="304.5" width="9.2" height="9.1" fill="rgb(255,128,128)"/>
<rect x="556.0" y="304.5" width="9.2" height="9.1" fill="rgb(0,0,255)"/>
<rect x="566.1" y="304.5" width="9.2" height="9.1" fill="rgb(255,166,166)"/>
<rect x="576.3" y="304.5" width="9.2" height="9.1" fill="rgb(217,217,255)"/>
<rect x="586.4" y="304.5" width="9.2" height="9.1" fill="rgb(153,153,255)"/>
<rect x="596.5" y="304.5" width="9.2" height="9.1" fill="rgb(153,153,255)"/>
<rect x="606.6" y="304.5" width="9.2" height="9.1" fill="rgb(128,128,255)"/>
<rect x="372.8" y="314.6" width="9.2" height="9.1" fill="rgb(13,13,255)"/>
<rect x="382.9" y="314.6" width="9.2" height="9.1" fill="rgb(38,38,255)"/>
<rect x="393.0" y="314.6" width="9.2" height="9.1" fill="rgb(64,64,255)"/>
<rect x="403.1" y="314.6" width="9.2" height="9.1" fill="rgb(0,0,255)"/>
<rect x="413.2" y="314.6" width="9.2" height="9.1" fill="rgb(38,38,255)"/>
<rect x="423.3" y="314.6" width="9.2" height="9.1" fill="rgb(64,64,255)"/>
<rect x="433.4" y="314.6" width="9.2" height="9.1" fill="rgb(38,38,255)"/>
<rect x="443.5" y="314.6" width="9.2" height="9.1" fill="rgb(64,64,255)"/>
<rect x="453.6" y="314.6" width="9.2" height="9.1" fill="rgb(0,0,255)"/>
<rect x="463.7" y="314.6" width="9.2" height="9.1" fill="rgb(64,64,255)"/>
<rect x="473.8" y="314.6" width="9.2" height="9.1" fill="rgb(25,25,255)"/>
<rect x="483.9" y="314.6" width="8.8" height="9.1" fill="rgb(38,38,255)"/>
<rect x="495.3" y="314.6" width="9.2" height="9.1" fill="rgb(51,51,255)"/>
<rect x="505.4" y="314.6" width="9.2" height="9.1" fill="rgb(0,0,255)"/>
<rect x="515.5" y="314.6" width="9.2" height="9.1" fill="rgb(25,25,255)"/>
<rect x="525.7" y="314.6" width="9.2" height="9.1" fill="rgb(255,25,25)"/>
<rect x="535.8" y="314.6" width="9.2" height="9.1" fill="rgb(255,25,25)"/>
<rect x="545.9" y="314.6" width="9.2" height="9.1" fill="rgb(255,0,0)"/>
<rect x="556.0" y="314.6" width="9.2" height="9.1" fill="rgb(255,38,38)"/>
<rect x="566.1" y="314.6" width="9.2" height="9.1" fill="rgb(255,25,25)"/>
<rect x="576.3" y="314.6" width="9.2" height="9.1" fill="rgb(255,77,77)"/>
<rect x="586.4" y="314.6" width="9.2" height="9.1" fill="rgb(128,128,255)"/>
<rect x="596.5" y="314.6" width="9.2" height="9.1" fill="rgb(166,166,255)"/>
<rect x="606.6" y="314.6" width="9.2" height="9.1" fill="rgb(255,217,217)"/>
<rect x="372.8" y="324.8" width="9.2" height="9.1" fill="rgb(242,242,255)"/>
<rect x="382.9" y="324.8" width="9.2" height="9.1" fill="rgb(255,166,166)"/>
<rect x="393.0" y="324.8" width="9.2" height="9.1" fill="rgb(255,166,166)"/>
<rect x="403.1" y="324.8" width="9.2" height="9.1" fill="rgb(77,77,255)"/>
<rect x="413.2" y="324.8" width="9.2" height="9.1" fill="rgb(128,128,255)"/>
<rect x="423.3" y="324.8" width="9.2" height="9.1" fill="rgb(140,140,255)"/>
<rect x="433.4" y="324.8" width="9.2" height="9.1" fill="rgb(204,204,255)"/>
<rect x="443.5" y="324.8" width="9.2" height="9.1" fill="rgb(255,178,178)"/>
<rect x="453.6" y="324.8" width="9.2" height="9.1" fill="rgb(230,230,255)"/>
<rect x="463.7" y="324.8" width="9.2" height="9.1" fill="rgb(0,0,255)"/>
<rect x="473.8" y="324.8" width="9.2" height="9.1" fill="rgb(0,0,255)"/>
<rect x="483.9" y="324.8" width="8.8" height="9.1" fill="rgb(13,13,255)"/>
<rect x="495.3" y="324.8" width="9.2" height="9.1" fill="rgb(255,0,0)"/>
<rect x="505.4" y="324.8" width="9.2" height="9.1" fill="rgb(255,178,178)"/>
<rect x="515.5" y="324.8" width="9.2" height="9.1" fill="rgb(255,102,102)"/>
<rect x="525.7" y="324.8" width="9.2" height="9.1" fill="rgb(255,255,255)"/>
<rect x="535.8" y="324.8" width="9.2" height="9.1" fill="rgb(217,217,255)"/>
<rect x="545.9" y="324.8" width="9.2" height="9.1" fill="rgb(153,153,255)"/>
<rect x="556.0" y="324.8" width="9.2" height="9.1" fill="rgb(255,25,25)"/>
<rect x="566.1" y="324.8" width="9.2" height="9.1" fill="rgb(255,128,128)"/>
<rect x="576.3" y="324.8" width="9.2" height="9.1" fill="rgb(255,128,128)"/>
<rect x="586.4" y="324.8" width="9.2" height="9.1" fill="rgb(0,0,255)"/>
<rect x="596.5" y="324.8" width="9.2" height="9.1" fill="rgb(89,89,255)"/>
<rect x="606.6" y="324.8" width="9.2" height="9.1" fill="rgb(0,0,255)"/>
<rect x="372.8" y="334.9" width="9.2" height="9.1" fill="rgb(128,128,255)"/>
<rect x="382.9" y="334.9" width="9.2" height="9.1" fill="rgb(51,51,255)"/>
<rect x="393.0" y="334.9" width="9.2" height="9.1" fill="rgb(13,13,255)"/>
<rect x="403.1" y="334.9" width="9.2" height="9.1" fill="rgb(25,25,255)"/>
<rect x="413.2" y="334.9" width="9.2" height="9.1" fill="rgb(115,115,255)"/>
<rect x="423.3" y="334.9" width="9.2" height="9.1" fill="rgb(51,51,255)"/>
<rect x="433.4" y="334.9" width="9.2" height="9.1" fill="rgb(51,51,255)"/>
<rect x="443.5" y="334.9" width="9.2" height="9.1" fill="rgb(64,64,255)"/>
<rect x="453.6" y="334.9" width="9.2" height="9.1" fill="rgb(89,89,255)"/>
<rect x="463.7" y="334.9" width="9.2" height="9.1" fill="rgb(115,115,255)"/>
<rect x="473.8" y="334.9" width="9.2" height="9.1" fill="rgb(77,77,255)"/>
<rect x="483.9" y="334.9" width="8.8" height="9.1" fill="rgb(13,13,255)"/>
<rect x="495.3" y="334.9" width="9.2" height="9.1" fill="rgb(178,178,255)"/>
<rect x="505.4" y="334.9" width="9.2" height="9.1" fill="rgb(224,224,255)"/>
<rect x="515.5" y="334.9" width="9.2" height="9.1" fill="rgb(166,166,255)"/>
<rect x="525.7" y="334.9" width="9.2" height="9.1" fill="rgb(255,115,115)"/>
<rect x="535.8" y="334.9" width="9.2" height="9.1" fill="rgb(255,89,89)"/>
<rect x="545.9" y="334.9" width="9.2" height="9.1" fill="rgb(255,64,64)"/>
<rect x="556.0" y="334.9" width="9.2" height="9.1" fill="rgb(255,102,102)"/>
<rect x="566.1" y="334.9" width="9.2" height="9.1" fill="rgb(255,51,51)"/>
<rect x="576.3" y="334.9" width="9.2" height="9.1" fill="rgb(255,0,0)"/>
<rect x="586.4" y="334.9" width="9.2" height="9.1" fill="rgb(166,166,255)"/>
<rect x="596.5" y="334.9" width="9.2" height="9.1" fill="rgb(140,140,255)"/>
<rect x="606.6" y="334.9" width="9.2" height="9.1" fill="rgb(0,0,255)"/>
<rect x="372.8" y="345.0" width="9.2" height="9.1" fill="rgb(64,64,255)"/>
<rect x="382.9" y="345.0" width="9.2" height="9.1" fill="rgb(38,38,255)"/>
<rect x="393.0" y="345.0" width="9.2" height="9.1" fill="rgb(13,13,255)"/>
<rect x="403.1" y="345.0" width="9.2" height="9.1" fill="rgb(0,0,255)"/>
<rect x="413.2" y="345.0" width="9.2" height="9.1" fill="rgb(38,38,255)"/>
<rect x="423.3" y="345.0" width="9.2" height="9.1" fill="rgb(89,89,255)"/>
<rect x="433.4" y="345.0" width="9.2" height="9.1" fill="rgb(77,77,255)"/>
<rect x="443.5" y="345.0" width="9.2" height="9.1" fill="rgb(0,0,255)"/>
<rect x="453.6" y="345.0" width="9.2" height="9.1" fill="rgb(64,64,255)"/>
<rect x="463.7" y="345.0" width="9.2" height="9.1" fill="rgb(38,38,255)"/>
<rect x="473.8" y="345.0" width="9.2" height="9.1" fill="rgb(89,89,255)"/>
<rect x="483.9" y="345.0" width="8.8" height="9.1" fill="rgb(13,13,255)"/>
<rect x="495.3" y="345.0" width="9.2" height="9.1" fill="rgb(166,166,255)"/>
<rect x="505.4" y="345.0" width="9.2" height="9.1" fill="rgb(204,204,255)"/>
<rect x="515.5" y="345.0" width="9.2" height="9.1" fill="rgb(153,153,255)"/>
<rect x="525.7" y="345.0" width="9.2" height="9.1" fill="rgb(255,166,166)"/>
<rect x="535.8" y="345.0" width="9.2" height="9.1" fill="rgb(255,166,166)"/>
<rect x="545.9" y="345.0" width="9.2" height="9.1" fill="rgb(255,166,166)"/>
<rect x="556.0" y="345.0" width="9.2" height="9.1" fill="rgb(255,166,166)"/>
<rect x="566.1" y="345.0" width="9.2" height="9.1" fill="rgb(255,128,128)"/>
<rect x="576.3" y="345.0" width="9.2" height="9.1" fill="rgb(255,0,0)"/>
<rect x="586.4" y="345.0" width="9.2" height="9.1" fill="rgb(255,224,224)"/>
<rect x="596.5" y="345.0" width="9.2" height="9.1" fill="rgb(255,153,153)"/>
<rect x="606.6" y="345.0" width="9.2" height="9.1" fill="rgb(77,77,255)"/>
<rect x="372.8" y="355.1" width="9.2" height="9.1" fill="rgb(102,102,255)"/>
<rect x="382.9" y="355.1" width="9.2" height="9.1" fill="rgb(128,128,255)"/>
<rect x="393.0" y="355.1" width="9.2" height="9.1" fill="rgb(38,38,255)"/>
<rect x="403.1" y="355.1" width="9.2" height="9.1" fill="rgb(77,77,255)"/>
<rect x="413.2" y="355.1" width="9.2" height="9.1" fill="rgb(102,102,255)"/>
<rect x="423.3" y="355.1" width="9.2" height="9.1" fill="rgb(102,102,255)"/>
<rect x="433.4" y="355.1" width="9.2" height="9.1" fill="rgb(115,115,255)"/>
<rect x="443.5" y="355.1" width="9.2" height="9.1" fill="rgb(89,89,255)"/>
<rect x="453.6" y="355.1" width="9.2" height="9.1" fill="rgb(102,102,255)"/>
<rect x="463.7" y="355.1" width="9.2" height="9.1" fill="rgb(128,128,255)"/>
<rect x="473.8" y="355.1" width="9.2" height="9.1" fill="rgb(140,140,255)"/>
<rect x="483.9" y="355.1" width="8.8" height="9.1" fill="rgb(13,13,255)"/>
<rect x="495.3" y="355.1" width="9.2" height="9.1" fill="rgb(247,247,255)"/>
<rect x="505.4" y="355.1" width="9.2" height="9.1" fill="rgb(230,230,255)"/>
<rect x="515.5" y="355.1" width="9.2" height="9.1" fill="rgb(204,204,255)"/>
<rect x="525.7" y="355.1" width="9.2" height="9.1" fill="rgb(255,247,247)"/>
<rect x="535.8" y="355.1" width="9.2" height="9.1" fill="rgb(255,204,204)"/>
<rect x="545.9" y="355.1" width="9.2" height="9.1" fill="rgb(191,191,255)"/>
<rect x="556.0" y="355.1" width="9.2" height="9.1" fill="rgb(255,178,178)"/>
<rect x="566.1" y="355.1" width="9.2" height="9.1" fill="rgb(255,178,178)"/>
<rect x="576.3" y="355.1" width="9.2" height="9.1" fill="rgb(255,25,25)"/>
<rect x="586.4" y="355.1" width="9.2" height="9.1" fill="rgb(255,89,89)"/>
<rect x="596.5" y="355.1" width="9.2" height="9.1" fill="rgb(255,0,0)"/>
<rect x="606.6" y="355.1" width="9.2" height="9.1" fill="rgb(204,204,255)"/>
<rect x="372.8" y="365.2" width="9.2" height="9.1" fill="rgb(0,0,255)"/>
<rect x="382.9" y="365.2" width="9.2" height="9.1" fill="rgb(38,38,255)"/>
<rect x="393.0" y="365.2" width="9.2" height="9.1" fill="rgb(64,64,255)"/>
<rect x="403.1" y="365.2" width="9.2" height="9.1" fill="rgb(89,89,255)"/>
<rect x="413.2" y="365.2" width="9.2" height="9.1" fill="rgb(38,38,255)"/>
<rect x="423.3" y="365.2" width="9.2" height="9.1" fill="rgb(0,0,255)"/>
<rect x="433.4" y="365.2" width="9.2" height="9.1" fill="rgb(13,13,255)"/>
<rect x="443.5" y="365.2" width="9.2" height="9.1" fill="rgb(64,64,255)"/>
<rect x="453.6" y="365.2" width="9.2" height="9.1" fill="rgb(77,77,255)"/>
<rect x="463.7" y="365.2" width="9.2" height="9.1" fill="rgb(13,13,255)"/>
<rect x="473.8" y="365.2" width="9.2" height="9.1" fill="rgb(38,38,255)"/>
<rect x="483.9" y="365.2" width="8.8" height="9.1" fill="rgb(102,102,255)"/>
<rect x="495.3" y="365.2" width="9.2" height="9.1" fill="rgb(255,178,178)"/>
<rect x="505.4" y="365.2" width="9.2" height="9.1" fill="rgb(255,51,51)"/>
<rect x="515.5" y="365.2" width="9.2" height="9.1" fill="rgb(255,0,0)"/>
<rect x="525.7" y="365.2" width="9.2" height="9.1" fill="rgb(51,51,255)"/>
<rect x="535.8" y="365.2" width="9.2" height="9.1" fill="rgb(25,25,255)"/>
<rect x="545.9" y="365.2" width="9.2" height="9.1" fill="rgb(77,77,255)"/>
<rect x="556.0" y="365.2" width="9.2" height="9.1" fill="rgb(255,204,204)"/>
<rect x="566.1" y="365.2" width="9.2" height="9.1" fill="rgb(204,204,255)"/>
<rect x="576.3" y="365.2" width="9.2" height="9.1" fill="rgb(153,153,255)"/>
<rect x="586.4" y="365.2" width="9.2" height="9.1" fill="rgb(128,128,255)"/>
<rect x="596.5" y="365.2" width="9.2" height="9.1" fill="rgb(102,102,255)"/>
<rect x="606.6" y="365.2" width="9.2" height="9.1" fill="rgb(153,153,255)"/>
<rect x="372.8" y="376.9" width="9.2" height="9.1" fill="rgb(255,51,51)"/>
<rect x="382.9" y="376.9" width="9.2" height="9.1" fill="rgb(255,89,89)"/>
<rect x="393.0" y="376.9" width="9.2" height="9.1" fill="rgb(255,77,77)"/>
<rect x="403.1" y="376.9" width="9.2" height="9.1" fill="rgb(255,77,77)"/>
<rect x="413.2" y="376.9" width="9.2" height="9.1" fill="rgb(255,0,0)"/>
<rect x="423.3" y="376.9" width="9.2" height="9.1" fill="rgb(255,128,128)"/>
<rect x="433.4" y="376.9" width="9.2" height="9.1" fill="rgb(255,102,102)"/>
<rect x="443.5" y="376.9" width="9.2" height="9.1" fill="rgb(255,0,0)"/>
<rect x="453.6" y="376.9" width="9.2" height="9.1" fill="rgb(255,115,115)"/>
<rect x="463.7" y="376.9" width="9.2" height="9.1" fill="rgb(255,64,64)"/>
<rect x="473.8" y="376.9" width="9.2" height="9.1" fill="rgb(255,13,13)"/>
<rect x="483.9" y="376.9" width="8.8" height="9.1" fill="rgb(255,140,140)"/>
<rect x="495.3" y="376.9" width="9.2" height="9.1" fill="rgb(217,217,255)"/>
<rect x="505.4" y="376.9" width="9.2" height="9.1" fill="rgb(255,64,64)"/>
<rect x="515.5" y="376.9" width="9.2" height="9.1" fill="rgb(255,140,140)"/>
<rect x="525.7" y="376.9" width="9.2" height="9.1" fill="rgb(51,51,255)"/>
<rect x="535.8" y="376.9" width="9.2" height="9.1" fill="rgb(178,178,255)"/>
<rect x="545.9" y="376.9" width="9.2" height="9.1" fill="rgb(166,166,255)"/>
<rect x="556.0" y="376.9" width="9.2" height="9.1" fill="rgb(191,191,255)"/>
<rect x="566.1" y="376.9" width="9.2" height="9.1" fill="rgb(178,178,255)"/>
<rect x="576.3" y="376.9" width="9.2" height="9.1" fill="rgb(128,128,255)"/>
<rect x="586.4" y="376.9" width="9.2" height="9.1" fill="rgb(255,166,166)"/>
<rect x="596.5" y="376.9" width="9.2" height="9.1" fill="rgb(255,204,204)"/>
<rect x="606.6" y="376.9" width="9.2" height="9.1" fill="rgb(0,0,255)"/>
<rect x="372.8" y="386.8" width="9.2" height="9.1" fill="rgb(255,191,191)"/>
<rect x="382.9" y="386.8" width="9.2" height="9.1" fill="rgb(255,102,102)"/>
<rect x="393.0" y="386.8" width="9.2" height="9.1" fill="rgb(255,77,77)"/>
<rect x="403.1" y="386.8" width="9.2" height="9.1" fill="rgb(255,89,89)"/>
<rect x="413.2" y="386.8" width="9.2" height="9.1" fill="rgb(255,115,115)"/>
<rect x="423.3" y="386.8" width="9.2" height="9.1" fill="rgb(255,140,140)"/>
<rect x="433.4" y="386.8" width="9.2" height="9.1" fill="rgb(255,128,128)"/>
<rect x="443.5" y="386.8" width="9.2" height="9.1" fill="rgb(255,64,64)"/>
<rect x="453.6" y="386.8" width="9.2" height="9.1" fill="rgb(255,166,166)"/>
<rect x="463.7" y="386.8" width="9.2" height="9.1" fill="rgb(255,235,235)"/>
<rect x="473.8" y="386.8" width="9.2" height="9.1" fill="rgb(255,0,0)"/>
<rect x="483.9" y="386.8" width="8.8" height="9.1" fill="rgb(255,140,140)"/>
<rect x="495.3" y="386.8" width="9.2" height="9.1" fill="rgb(255,25,25)"/>
<rect x="505.4" y="386.8" width="9.2" height="9.1" fill="rgb(255,230,230)"/>
<rect x="515.5" y="386.8" width="9.2" height="9.1" fill="rgb(255,128,128)"/>
<rect x="525.7" y="386.8" width="9.2" height="9.1" fill="rgb(166,166,255)"/>
<rect x="535.8" y="386.8" width="9.2" height="9.1" fill="rgb(140,140,255)"/>
<rect x="545.9" y="386.8" width="9.2" height="9.1" fill="rgb(178,178,255)"/>
<rect x="556.0" y="386.8" width="9.2" height="9.1" fill="rgb(191,191,255)"/>
<rect x="566.1" y="386.8" width="9.2" height="9.1" fill="rgb(140,140,255)"/>
<rect x="576.3" y="386.8" width="9.2" height="9.1" fill="rgb(0,0,255)"/>
<rect x="586.4" y="386.8" width="9.2" height="9.1" fill="rgb(255,166,166)"/>
<rect x="596.5" y="386.8" width="9.2" height="9.1" fill="rgb(224,224,255)"/>
<rect x="606.6" y="386.8" width="9.2" height="9.1" fill="rgb(255,166,166)"/>
<rect x="372.8" y="396.8" width="9.2" height="9.1" fill="rgb(153,153,255)"/>
<rect x="382.9" y="396.8" width="9.2" height="9.1" fill="rgb(140,140,255)"/>
<rect x="393.0" y="396.8" width="9.2" height="9.1" fill="rgb(255,77,77)"/>
<rect x="403.1" y="396.8" width="9.2" height="9.1" fill="rgb(217,217,255)"/>
<rect x="413.2" y="396.8" width="9.2" height="9.1" fill="rgb(255,204,204)"/>
<rect x="423.3" y="396.8" width="9.2" height="9.1" fill="rgb(204,204,255)"/>
<rect x="433.4" y="396.8" width="9.2" height="9.1" fill="rgb(89,89,255)"/>
<rect x="443.5" y="396.8" width="9.2" height="9.1" fill="rgb(255,140,140)"/>
<rect x="453.6" y="396.8" width="9.2" height="9.1" fill="rgb(255,224,224)"/>
<rect x="463.7" y="396.8" width="9.2" height="9.1" fill="rgb(230,230,255)"/>
<rect x="473.8" y="396.8" width="9.2" height="9.1" fill="rgb(255,255,255)"/>
<rect x="483.9" y="396.8" width="8.8" height="9.1" fill="rgb(242,242,255)"/>
<rect x="495.3" y="396.8" width="9.2" height="9.1" fill="rgb(0,0,255)"/>
<rect x="505.4" y="396.8" width="9.2" height="9.1" fill="rgb(255,0,0)"/>
<rect x="515.5" y="396.8" width="9.2" height="9.1" fill="rgb(153,153,255)"/>
<rect x="525.7" y="396.8" width="9.2" height="9.1" fill="rgb(0,0,255)"/>
<rect x="535.8" y="396.8" width="9.2" height="9.1" fill="rgb(0,0,255)"/>
<rect x="545.9" y="396.8" width="9.2" height="9.1" fill="rgb(230,230,255)"/>
<rect x="556.0" y="396.8" width="9.2" height="9.1" fill="rgb(0,0,255)"/>
<rect x="566.1" y="396.8" width="9.2" height="9.1" fill="rgb(178,178,255)"/>
<rect x="576.3" y="396.8" width="9.2" height="9.1" fill="rgb(128,128,255)"/>
<rect x="586.4" y="396.8" width="9.2" height="9.1" fill="rgb(255,153,153)"/>
<rect x="596.5" y="396.8" width="9.2" height="9.1" fill="rgb(255,217,217)"/>
<rect x="606.6" y="396.8" width="9.2" height="9.1" fill="rgb(224,224,255)"/>
<rect x="372.8" y="406.8" width="9.2" height="9.1" fill="rgb(140,140,255)"/>
<rect x="382.9" y="406.8" width="9.2" height="9.1" fill="rgb(77,77,255)"/>
<rect x="393.0" y="406.8" width="9.2" height="9.1" fill="rgb(128,128,255)"/>
<rect x="403.1" y="406.8" width="9.2" height="9.1" fill="rgb(153,153,255)"/>
<rect x="413.2" y="406.8" width="9.2" height="9.1" fill="rgb(89,89,255)"/>
<rect x="423.3" y="406.8" width="9.2" height="9.1" fill="rgb(102,102,255)"/>
<rect x="433.4" y="406.8" width="9.2" height="9.1" fill="rgb(38,38,255)"/>
<rect x="443.5" y="406.8" width="9.2" height="9.1" fill="rgb(102,102,255)"/>
<rect x="453.6" y="406.8" width="9.2" height="9.1" fill="rgb(191,191,255)"/>
<rect x="463.7" y="406.8" width="9.2" height="9.1" fill="rgb(0,0,255)"/>
<rect x="473.8" y="406.8" width="9.2" height="9.1" fill="rgb(102,102,255)"/>
<rect x="483.9" y="406.8" width="8.8" height="9.1" fill="rgb(235,235,255)"/>
<rect x="495.3" y="406.8" width="9.2" height="9.1" fill="rgb(217,217,255)"/>
<rect x="505.4" y="406.8" width="9.2" height="9.1" fill="rgb(255,77,77)"/>
<rect x="515.5" y="406.8" width="9.2" height="9.1" fill="rgb(255,102,102)"/>
<rect x="525.7" y="406.8" width="9.2" height="9.1" fill="rgb(115,115,255)"/>
<rect x="535.8" y="406.8" width="9.2" height="9.1" fill="rgb(89,89,255)"/>
<rect x="545.9" y="406.8" width="9.2" height="9.1" fill="rgb(128,128,255)"/>
<rect x="556.0" y="406.8" width="9.2" height="9.1" fill="rgb(255,0,0)"/>
<rect x="566.1" y="406.8" width="9.2" height="9.1" fill="rgb(255,178,178)"/>
<rect x="576.3" y="406.8" width="9.2" height="9.1" fill="rgb(191,191,255)"/>
<rect x="586.4" y="406.8" width="9.2" height="9.1" fill="rgb(153,153,255)"/>
<rect x="596.5" y="406.8" width="9.2" height="9.1" fill="rgb(128,128,255)"/>
<rect x="606.6" y="406.8" width="9.2" height="9.1" fill="rgb(0,0,255)"/>
<rect x="372.8" y="416.7" width="9.2" height="9.1" fill="rgb(255,13,13)"/>
<rect x="382.9" y="416.7" width="9.2" height="9.1" fill="rgb(255,140,140)"/>
<rect x="393.0" y="416.7" width="9.2" height="9.1" fill="rgb(115,115,255)"/>
<rect x="403.1" y="416.7" width="9.2" height="9.1" fill="rgb(128,128,255)"/>
<rect x="413.2" y="416.7" width="9.2" height="9.1" fill="rgb(255,115,115)"/>
<rect x="423.3" y="416.7" width="9.2" height="9.1" fill="rgb(255,38,38)"/>
<rect x="433.4" y="416.7" width="9.2" height="9.1" fill="rgb(255,235,235)"/>
<rect x="443.5" y="416.7" width="9.2" height="9.1" fill="rgb(255,140,140)"/>
<rect x="453.6" y="416.7" width="9.2" height="9.1" fill="rgb(255,140,140)"/>
<rect x="463.7" y="416.7" width="9.2" height="9.1" fill="rgb(255,204,204)"/>
<rect x="473.8" y="416.7" width="9.2" height="9.1" fill="rgb(255,102,102)"/>
<rect x="483.9" y="416.7" width="8.8" height="9.1" fill="rgb(255,217,217)"/>
<rect x="495.3" y="416.7" width="9.2" height="9.1" fill="rgb(89,89,255)"/>
<rect x="505.4" y="416.7" width="9.2" height="9.1" fill="rgb(102,102,255)"/>
<rect x="515.5" y="416.7" width="9.2" height="9.1" fill="rgb(25,25,255)"/>
<rect x="525.7" y="416.7" width="9.2" height="9.1" fill="rgb(204,204,255)"/>
<rect x="535.8" y="416.7" width="9.2" height="9.1" fill="rgb(166,166,255)"/>
<rect x="545.9" y="416.7" width="9.2" height="9.1" fill="rgb(153,153,255)"/>
<rect x="556.0" y="416.7" width="9.2" height="9.1" fill="rgb(0,0,255)"/>
<rect x="566.1" y="416.7" width="9.2" height="9.1" fill="rgb(166,166,255)"/>
<rect x="576.3" y="416.7" width="9.2" height="9.1" fill="rgb(178,178,255)"/>
<rect x="586.4" y="416.7" width="9.2" height="9.1" fill="rgb(255,89,89)"/>
<rect x="596.5" y="416.7" width="9.2" height="9.1" fill="rgb(255,0,0)"/>
<rect x="606.6" y="416.7" width="9.2" height="9.1" fill="rgb(128,128,255)"/>
<line x1="620.0" y1="293.2" x2="662.0" y2="293.2" stroke="#ececec" stroke-width="0.6"/>
<line x1="620.0" y1="303.9" x2="662.0" y2="303.9" stroke="#ececec" stroke-width="0.6"/>
<line x1="620.0" y1="314.0" x2="662.0" y2="314.0" stroke="#ececec" stroke-width="0.6"/>
<line x1="620.0" y1="324.1" x2="662.0" y2="324.1" stroke="#ececec" stroke-width="0.6"/>
<line x1="620.0" y1="334.3" x2="662.0" y2="334.3" stroke="#ececec" stroke-width="0.6"/>
<line x1="620.0" y1="344.4" x2="662.0" y2="344.4" stroke="#ececec" stroke-width="0.6"/>
<line x1="620.0" y1="354.5" x2="662.0" y2="354.5" stroke="#ececec" stroke-width="0.6"/>
<line x1="620.0" y1="364.6" x2="662.0" y2="364.6" stroke="#ececec" stroke-width="0.6"/>
<line x1="620.0" y1="374.7" x2="662.0" y2="374.7" stroke="#ececec" stroke-width="0.6"/>
<line x1="620.0" y1="386.4" x2="662.0" y2="386.4" stroke="#ececec" stroke-width="0.6"/>
<line x1="620.0" y1="396.3" x2="662.0" y2="396.3" stroke="#ececec" stroke-width="0.6"/>
<line x1="620.0" y1="406.3" x2="662.0" y2="406.3" stroke="#ececec" stroke-width="0.6"/>
<line x1="620.0" y1="416.2" x2="662.0" y2="416.2" stroke="#ececec" stroke-width="0.6"/>
<line x1="620.0" y1="426.2" x2="662.0" y2="426.2" stroke="#ececec" stroke-width="0.6"/>
<line x1="382.4" y1="212.0" x2="382.4" y2="289.0" stroke="#f2f2f2" stroke-width="0.7"/>
<line x1="392.5" y1="212.0" x2="392.5" y2="289.0" stroke="#f2f2f2" stroke-width="0.7"/>
<line x1="402.6" y1="212.0" x2="402.6" y2="289.0" stroke="#f2f2f2" stroke-width="0.7"/>
<line x1="412.7" y1="212.0" x2="412.7" y2="289.0" stroke="#f2f2f2" stroke-width="0.7"/>
<line x1="422.8" y1="212.0" x2="422.8" y2="289.0" stroke="#f2f2f2" stroke-width="0.7"/>
<line x1="432.9" y1="212.0" x2="432.9" y2="289.0" stroke="#f2f2f2" stroke-width="0.7"/>
<line x1="443.0" y1="212.0" x2="443.0" y2="289.0" stroke="#f2f2f2" stroke-width="0.7"/>
<line x1="453.1" y1="212.0" x2="453.1" y2="289.0" stroke="#f2f2f2" stroke-width="0.7"/>
<line x1="463.2" y1="212.0" x2="463.2" y2="289.0" stroke="#f2f2f2" stroke-width="0.7"/>
<line x1="473.3" y1="212.0" x2="473.3" y2="289.0" stroke="#f2f2f2" stroke-width="0.7"/>
<line x1="483.4" y1="212.0" x2="483.4" y2="289.0" stroke="#f2f2f2" stroke-width="0.7"/>
<line x1="494.8" y1="212.0" x2="494.8" y2="289.0" stroke="#f2f2f2" stroke-width="0.7"/>
<line x1="504.9" y1="212.0" x2="504.9" y2="289.0" stroke="#f2f2f2" stroke-width="0.7"/>
<line x1="515.0" y1="212.0" x2="515.0" y2="289.0" stroke="#f2f2f2" stroke-width="0.7"/>
<line x1="525.2" y1="212.0" x2="525.2" y2="289.0" stroke="#f2f2f2" stroke-width="0.7"/>
<line x1="535.3" y1="212.0" x2="535.3" y2="289.0" stroke="#f2f2f2" stroke-width="0.7"/>
<line x1="545.4" y1="212.0" x2="545.4" y2="289.0" stroke="#f2f2f2" stroke-width="0.7"/>
<line x1="555.5" y1="212.0" x2="555.5" y2="289.0" stroke="#f2f2f2" stroke-width="0.7"/>
<line x1="565.6" y1="212.0" x2="565.6" y2="289.0" stroke="#f2f2f2" stroke-width="0.7"/>
<line x1="575.8" y1="212.0" x2="575.8" y2="289.0" stroke="#f2f2f2" stroke-width="0.7"/>
<line x1="585.9" y1="212.0" x2="585.9" y2="289.0" stroke="#f2f2f2" stroke-width="0.7"/>
<line x1="596.0" y1="212.0" x2="596.0" y2="289.0" stroke="#f2f2f2" stroke-width="0.7"/>
<line x1="606.1" y1="212.0" x2="606.1" y2="289.0" stroke="#f2f2f2" stroke-width="0.7"/>
<line x1="616.2" y1="212.0" x2="616.2" y2="289.0" stroke="#f2f2f2" stroke-width="0.7"/>
<text transform="translate(380.7,288.0) rotate(-90)" font-size="9.2" textLength="51.0" lengthAdjust="spacingAndGlyphs" fill="#222">BT37 Control</text>
<text transform="translate(390.8,288.0) rotate(-90)" font-size="9.2" textLength="51.0" lengthAdjust="spacingAndGlyphs" fill="#222">BT37 Control</text>
<text transform="translate(400.9,288.0) rotate(-90)" font-size="9.2" textLength="51.0" lengthAdjust="spacingAndGlyphs" fill="#222">BT37 Control</text>
<text transform="translate(411.0,288.0) rotate(-90)" font-size="9.2" textLength="63.0" lengthAdjust="spacingAndGlyphs" fill="#222">CHLA02 Control</text>
<text transform="translate(421.1,288.0) rotate(-90)" font-size="9.2" textLength="63.0" lengthAdjust="spacingAndGlyphs" fill="#222">CHLA02 Control</text>
<text transform="translate(431.2,288.0) rotate(-90)" font-size="9.2" textLength="63.0" lengthAdjust="spacingAndGlyphs" fill="#222">CHLA02 Control</text>
<text transform="translate(441.3,288.0) rotate(-90)" font-size="9.2" textLength="63.0" lengthAdjust="spacingAndGlyphs" fill="#222">CHLA06 Control</text>
<text transform="translate(451.4,288.0) rotate(-90)" font-size="9.2" textLength="63.0" lengthAdjust="spacingAndGlyphs" fill="#222">CHLA06 Control</text>
<text transform="translate(461.5,288.0) rotate(-90)" font-size="9.2" textLength="63.0" lengthAdjust="spacingAndGlyphs" fill="#222">CHLA06 Control</text>
<text transform="translate(471.6,288.0) rotate(-90)" font-size="9.2" textLength="67.8" lengthAdjust="spacingAndGlyphs" fill="#222">CHLA266 Control</text>
<text transform="translate(481.7,288.0) rotate(-90)" font-size="9.2" textLength="67.8" lengthAdjust="spacingAndGlyphs" fill="#222">CHLA266 Control</text>
<text transform="translate(491.8,288.0) rotate(-90)" font-size="9.2" textLength="67.8" lengthAdjust="spacingAndGlyphs" fill="#222">CHLA266 Control</text>
<text transform="translate(503.2,288.0) rotate(-90)" font-size="9.2" textLength="53.5" lengthAdjust="spacingAndGlyphs" fill="#222">BT37 TAK228</text>
<text transform="translate(513.3,288.0) rotate(-90)" font-size="9.2" textLength="53.5" lengthAdjust="spacingAndGlyphs" fill="#222">BT37 TAK228</text>
<text transform="translate(523.4,288.0) rotate(-90)" font-size="9.2" textLength="53.5" lengthAdjust="spacingAndGlyphs" fill="#222">BT37 TAK228</text>
<text transform="translate(533.6,288.0) rotate(-90)" font-size="9.2" textLength="65.6" lengthAdjust="spacingAndGlyphs" fill="#222">CHLA02 TAK228</text>
<text transform="translate(543.7,288.0) rotate(-90)" font-size="9.2" textLength="65.6" lengthAdjust="spacingAndGlyphs" fill="#222">CHLA02 TAK228</text>
<text transform="translate(553.8,288.0) rotate(-90)" font-size="9.2" textLength="65.6" lengthAdjust="spacingAndGlyphs" fill="#222">CHLA02 TAK228</text>
<text transform="translate(563.9,288.0) rotate(-90)" font-size="9.2" textLength="65.6" lengthAdjust="spacingAndGlyphs" fill="#222">CHLA06 TAK228</text>
<text transform="translate(574.0,288.0) rotate(-90)" font-size="9.2" textLength="65.6" lengthAdjust="spacingAndGlyphs" fill="#222">CHLA06 TAK228</text>
<text transform="translate(584.2,288.0) rotate(-90)" font-size="9.2" textLength="65.6" lengthAdjust="spacingAndGlyphs" fill="#222">CHLA06 TAK228</text>
<text transform="translate(594.3,288.0) rotate(-90)" font-size="9.2" textLength="70.4" lengthAdjust="spacingAndGlyphs" fill="#222">CHLA266 TAK228</text>
<text transform="translate(604.4,288.0) rotate(-90)" font-size="9.2" textLength="70.4" lengthAdjust="spacingAndGlyphs" fill="#222">CHLA266 TAK228</text>
<text transform="translate(614.5,288.0) rotate(-90)" font-size="9.2" textLength="70.4" lengthAdjust="spacingAndGlyphs" fill="#222">CHLA266 TAK228</text>
<text transform="translate(370.3,288.0) rotate(-90)" font-size="8.6" fill="#222">id</text>
<text x="621.5" y="289.0" font-size="8.6" fill="#222">id</text>
<text x="622.3" y="302.2" font-size="8.7" fill="#222">BBC3</text>
<text x="622.3" y="312.3" font-size="8.7" fill="#222">BMF</text>
<text x="622.3" y="322.4" font-size="8.7" fill="#222">DDIT3</text>
<text x="622.3" y="332.6" font-size="8.7" fill="#222">NOXA1</text>
<text x="622.3" y="342.7" font-size="8.7" fill="#222">BCL2L13</text>
<text x="622.3" y="352.8" font-size="8.7" fill="#222">BAG6</text>
<text x="622.3" y="362.9" font-size="8.7" fill="#222">BOK</text>
<text x="622.3" y="373.0" font-size="8.7" fill="#222">BNIP3L</text>
<text x="622.3" y="384.7" font-size="8.7" fill="#222">BIRC5</text>
<text x="622.3" y="394.6" font-size="8.7" fill="#222">BIRC6</text>
<text x="622.3" y="404.6" font-size="8.7" fill="#222">BCL2</text>
<text x="622.3" y="414.6" font-size="8.7" fill="#222">MCL1</text>
<text x="622.3" y="424.5" font-size="8.7" fill="#222">BC2L1</text>
<line x1="494.3" y1="206.6" x2="494.3" y2="433.8" stroke="#000" stroke-width="1.8"/>
<line x1="369.0" y1="375.5" x2="667.2" y2="375.5" stroke="#000" stroke-width="1.8"/>
<text transform="translate(363.8,329.5) rotate(-90)" font-size="11" font-weight="bold" text-anchor="middle" textLength="52.6" lengthAdjust="spacingAndGlyphs">Pro-Death</text>
<text transform="translate(363.8,403.0) rotate(-90)" font-size="11" font-weight="bold" text-anchor="middle" textLength="65.7" lengthAdjust="spacingAndGlyphs">Pro-Survival</text>
<rect x="411.7" y="432.4" width="165.8" height="21.7" fill="#e3e3e3"/>
<line x1="494.3" y1="432.4" x2="494.3" y2="433.8" stroke="#000" stroke-width="1.8"/>
<rect x="428.3" y="435.3" width="132.6" height="6.9" fill="url(#gbar)"/>
<text x="415.3" y="451.6" font-size="8.8" textLength="25.5" lengthAdjust="spacingAndGlyphs" fill="#333">row min</text>
<text x="574.8" y="451.6" font-size="8.8" text-anchor="end" textLength="27.8" lengthAdjust="spacingAndGlyphs" fill="#333">row max</text>
<text x="12.0" y="477.6" font-size="21.5" font-weight="bold" textLength="18.7" lengthAdjust="spacingAndGlyphs">E.</text>
<text x="113.9" y="481.2" font-size="12.5" font-weight="bold" text-anchor="middle" textLength="22.4" lengthAdjust="spacingAndGlyphs">266</text>
<line x1="102.4" y1="483.6" x2="125.4" y2="483.6" stroke="#000" stroke-width="1.3"/>
<text x="165.6" y="481.2" font-size="12.5" font-weight="bold" text-anchor="middle" textLength="14.6" lengthAdjust="spacingAndGlyphs">37</text>
<line x1="158.0" y1="483.6" x2="173.2" y2="483.6" stroke="#000" stroke-width="1.3"/>
<text x="215.2" y="481.0" font-size="12.5" font-weight="bold" text-anchor="middle" textLength="15" lengthAdjust="spacingAndGlyphs">02</text>
<line x1="207.4" y1="483.4" x2="223.0" y2="483.4" stroke="#000" stroke-width="1.3"/>
<text x="266.3" y="481.8" font-size="12.5" font-weight="bold" text-anchor="middle" textLength="15" lengthAdjust="spacingAndGlyphs">06</text>
<line x1="258.5" y1="484.2" x2="274.1" y2="484.2" stroke="#000" stroke-width="1.3"/>
<text x="316.4" y="482.6" font-size="12.5" font-weight="bold" text-anchor="middle" textLength="15" lengthAdjust="spacingAndGlyphs">05</text>
<line x1="308.6" y1="485.0" x2="324.2" y2="485.0" stroke="#000" stroke-width="1.3"/>
<text x="0.6" y="496.9" font-size="12.8" textLength="84" lengthAdjust="spacingAndGlyphs">TAK-228 (nM)</text>
<text x="79.4" y="510.9" font-size="12.8" text-anchor="end" textLength="40" lengthAdjust="spacingAndGlyphs">DMSO</text>
<text x="348.2" y="511.4" font-size="12.5" textLength="23" lengthAdjust="spacingAndGlyphs">kDa</text>
<text x="125.4" y="498.8" font-size="12.5" text-anchor="middle" textLength="14" lengthAdjust="spacingAndGlyphs">20</text>
<text x="100.1" y="510.3" font-size="12.5" text-anchor="middle" textLength="8.4" lengthAdjust="spacingAndGlyphs">X</text>
<text x="177.4" y="498.8" font-size="12.5" text-anchor="middle" textLength="14" lengthAdjust="spacingAndGlyphs">20</text>
<text x="152.1" y="510.3" font-size="12.5" text-anchor="middle" textLength="8.4" lengthAdjust="spacingAndGlyphs">X</text>
<text x="229.4" y="498.8" font-size="12.5" text-anchor="middle" textLength="14" lengthAdjust="spacingAndGlyphs">20</text>
<text x="204.1" y="510.3" font-size="12.5" text-anchor="middle" textLength="8.4" lengthAdjust="spacingAndGlyphs">X</text>
<text x="281.4" y="498.8" font-size="12.5" text-anchor="middle" textLength="14" lengthAdjust="spacingAndGlyphs">20</text>
<text x="256.1" y="510.3" font-size="12.5" text-anchor="middle" textLength="8.4" lengthAdjust="spacingAndGlyphs">X</text>
<text x="333.4" y="498.8" font-size="12.5" text-anchor="middle" textLength="14" lengthAdjust="spacingAndGlyphs">20</text>
<text x="308.1" y="510.3" font-size="12.5" text-anchor="middle" textLength="8.4" lengthAdjust="spacingAndGlyphs">X</text>
<text x="98.9" y="522.8" font-size="11.5" text-anchor="middle" textLength="15" lengthAdjust="spacingAndGlyphs" fill="#1a1a1a">1.0</text>
<text x="124.1" y="522.8" font-size="11.5" text-anchor="middle" textLength="15" lengthAdjust="spacingAndGlyphs" fill="#1a1a1a">0.6</text>
<text x="150.9" y="522.8" font-size="11.5" text-anchor="middle" textLength="15" lengthAdjust="spacingAndGlyphs" fill="#1a1a1a">1.0</text>
<text x="176.1" y="522.8" font-size="11.5" text-anchor="middle" textLength="15" lengthAdjust="spacingAndGlyphs" fill="#1a1a1a">0.2</text>
<text x="202.9" y="522.8" font-size="11.5" text-anchor="middle" textLength="15" lengthAdjust="spacingAndGlyphs" fill="#1a1a1a">1.0</text>
<text x="228.1" y="522.8" font-size="11.5" text-anchor="middle" textLength="15" lengthAdjust="spacingAndGlyphs" fill="#1a1a1a">0.5</text>
<text x="254.9" y="522.8" font-size="11.5" text-anchor="middle" textLength="15" lengthAdjust="spacingAndGlyphs" fill="#1a1a1a">1.0</text>
<text x="280.1" y="522.8" font-size="11.5" text-anchor="middle" textLength="15" lengthAdjust="spacingAndGlyphs" fill="#1a1a1a">0.5</text>
<text x="306.9" y="522.8" font-size="11.5" text-anchor="middle" textLength="15" lengthAdjust="spacingAndGlyphs" fill="#1a1a1a">1.0</text>
<text x="332.1" y="522.8" font-size="11.5" text-anchor="middle" textLength="15" lengthAdjust="spacingAndGlyphs" fill="#1a1a1a">0.5</text>
<text x="98.9" y="557.2" font-size="11.5" text-anchor="middle" textLength="15" lengthAdjust="spacingAndGlyphs" fill="#1a1a1a">1.0</text>
<text x="124.1" y="557.2" font-size="11.5" text-anchor="middle" textLength="15" lengthAdjust="spacingAndGlyphs" fill="#1a1a1a">1.2</text>
<text x="150.9" y="557.2" font-size="11.5" text-anchor="middle" fill="#1a1a1a">0</text>
<text x="176.1" y="557.2" font-size="11.5" text-anchor="middle" fill="#1a1a1a">0</text>
<text x="202.9" y="557.2" font-size="11.5" text-anchor="middle" textLength="15" lengthAdjust="spacingAndGlyphs" fill="#1a1a1a">1.0</text>
<text x="228.1" y="557.2" font-size="11.5" text-anchor="middle" textLength="15" lengthAdjust="spacingAndGlyphs" fill="#1a1a1a">1.2</text>
<text x="254.9" y="557.2" font-size="11.5" text-anchor="middle" fill="#1a1a1a">0</text>
<text x="280.1" y="557.2" font-size="11.5" text-anchor="middle" fill="#1a1a1a">0</text>
<text x="306.9" y="557.2" font-size="11.5" text-anchor="middle" textLength="15" lengthAdjust="spacingAndGlyphs" fill="#1a1a1a">1.0</text>
<text x="332.1" y="557.2" font-size="11.5" text-anchor="middle" textLength="15" lengthAdjust="spacingAndGlyphs" fill="#1a1a1a">1.3</text>
<text x="98.9" y="592.4" font-size="11.5" text-anchor="middle" textLength="15" lengthAdjust="spacingAndGlyphs" fill="#1a1a1a">1.0</text>
<text x="124.1" y="592.4" font-size="11.5" text-anchor="middle" textLength="15" lengthAdjust="spacingAndGlyphs" fill="#1a1a1a">1.1</text>
<text x="150.9" y="592.4" font-size="11.5" text-anchor="middle" textLength="15" lengthAdjust="spacingAndGlyphs" fill="#1a1a1a">1.0</text>
<text x="176.1" y="592.4" font-size="11.5" text-anchor="middle" textLength="15" lengthAdjust="spacingAndGlyphs" fill="#1a1a1a">1.0</text>
<text x="202.9" y="592.4" font-size="11.5" text-anchor="middle" textLength="15" lengthAdjust="spacingAndGlyphs" fill="#1a1a1a">1.0</text>
<text x="228.1" y="592.4" font-size="11.5" text-anchor="middle" textLength="15" lengthAdjust="spacingAndGlyphs" fill="#1a1a1a">1.0</text>
<text x="254.9" y="592.4" font-size="11.5" text-anchor="middle" textLength="15" lengthAdjust="spacingAndGlyphs" fill="#1a1a1a">1.0</text>
<text x="280.1" y="592.4" font-size="11.5" text-anchor="middle" textLength="15" lengthAdjust="spacingAndGlyphs" fill="#1a1a1a">1.0</text>
<text x="306.9" y="592.4" font-size="11.5" text-anchor="middle" textLength="15" lengthAdjust="spacingAndGlyphs" fill="#1a1a1a">1.0</text>
<text x="332.1" y="592.4" font-size="11.5" text-anchor="middle" textLength="15" lengthAdjust="spacingAndGlyphs" fill="#1a1a1a">1.0</text>
<text x="83.2" y="539.2" font-size="14" text-anchor="end" textLength="38.5" lengthAdjust="spacingAndGlyphs">MCL-1</text>
<text x="83.2" y="574.8" font-size="14" text-anchor="end" textLength="37.6" lengthAdjust="spacingAndGlyphs">BCL-2</text>
<text x="83.2" y="610.4" font-size="14" text-anchor="end" textLength="43.6" lengthAdjust="spacingAndGlyphs">BCL-xL</text>
<text x="83.2" y="637.3" font-size="14" text-anchor="end" textLength="39.5" lengthAdjust="spacingAndGlyphs">ACTIN</text>
<text x="351.3" y="539.7" font-size="13" textLength="15" lengthAdjust="spacingAndGlyphs">40</text>
<text x="351.3" y="574.8" font-size="13" textLength="15" lengthAdjust="spacingAndGlyphs">26</text>
<text x="351.3" y="610.3" font-size="13" textLength="15" lengthAdjust="spacingAndGlyphs">30</text>
<text x="351.3" y="634.8" font-size="13" textLength="15" lengthAdjust="spacingAndGlyphs">43</text>
<rect x="86.5" y="522.5" width="50.0" height="23.0" fill="#b3b3b3"/>
<rect x="138.5" y="522.5" width="50.5" height="23.0" fill="#b3b3b3"/>
<rect x="190.5" y="522.5" width="50.5" height="23.0" fill="#b3b3b3"/>
<rect x="242.5" y="522.5" width="50.0" height="23.0" fill="#b3b3b3"/>
<rect x="294.5" y="522.5" width="50.0" height="23.0" fill="#b3b3b3"/>
<rect x="86.5" y="557.5" width="50.0" height="23.0" fill="#b8b8b8"/>
<rect x="138.5" y="557.5" width="50.5" height="23.0" fill="#c2c2c2"/>
<rect x="190.5" y="557.5" width="50.5" height="23.0" fill="#b6b6b6"/>
<rect x="242.5" y="557.5" width="50.0" height="23.0" fill="#c2c2c2"/>
<rect x="294.5" y="557.5" width="50.0" height="23.0" fill="#b6b6b6"/>
<rect x="86.5" y="593.5" width="50.0" height="24.0" fill="#b4b4b4"/>
<rect x="138.5" y="593.5" width="50.5" height="24.0" fill="#b4b4b4"/>
<rect x="190.5" y="593.5" width="50.5" height="24.0" fill="#b4b4b4"/>
<rect x="242.5" y="593.5" width="50.0" height="24.0" fill="#b4b4b4"/>
<rect x="294.5" y="593.5" width="50.0" height="24.0" fill="#b4b4b4"/>
<rect x="86.5" y="619.5" width="50.0" height="24.0" fill="#b5b5b5"/>
<rect x="138.5" y="619.5" width="50.5" height="24.0" fill="#b5b5b5"/>
<rect x="190.5" y="619.5" width="50.5" height="24.0" fill="#b5b5b5"/>
<rect x="242.5" y="619.5" width="50.0" height="24.0" fill="#b5b5b5"/>
<rect x="294.5" y="619.5" width="50.0" height="24.0" fill="#b5b5b5"/>
<rect x="91.5" y="531.6" width="19.2" height="3.4" rx="1.7" fill="#2e2e2e" fill-opacity="1.00" filter="url(#bl7)"/>
<rect x="116.5" y="533.5" width="18.0" height="2.8" rx="1.4" fill="#555" fill-opacity="1.00" filter="url(#bl7)"/>
<rect x="141.0" y="532.9" width="19.2" height="5.0" rx="2.5" fill="#3a3a3a" fill-opacity="1.00" filter="url(#bl7)"/>
<rect x="166.8" y="532.6" width="16.2" height="2.4" rx="1.2" fill="#a4a4a4" fill-opacity="1.00" filter="url(#bl7)"/>
<rect x="194.8" y="534.3" width="19.2" height="4.6" rx="2.3" fill="#1e1e1e" fill-opacity="1.00" filter="url(#bl7)"/>
<rect x="219.3" y="534.9" width="17.6" height="3.0" rx="1.5" fill="#444" fill-opacity="1.00" filter="url(#bl7)"/>
<rect x="247.5" y="532.2" width="19.3" height="6.6" rx="3.3" fill="#222" fill-opacity="1.00" filter="url(#bl7)"/>
<rect x="272.0" y="533.0" width="9.0" height="2.6" rx="1.3" fill="#8a8a8a" fill-opacity="1.00" filter="url(#bl7)"/>
<rect x="278.5" y="530.9" width="11.3" height="5.0" rx="2.5" fill="#2e2e2e" fill-opacity="1.00" filter="url(#bl7)"/>
<rect x="296.8" y="530.5" width="21.0" height="10.5" rx="4.0" fill="#1c1c1c" fill-opacity="1.00" filter="url(#bl7)"/>
<rect x="322.3" y="530.6" width="19.5" height="8.0" rx="4.0" fill="#2e2e2e" fill-opacity="1.00" filter="url(#bl7)"/>
<rect x="90.8" y="567.0" width="17.6" height="4.4" rx="2.2" fill="#666" fill-opacity="1.00" filter="url(#bl7)"/>
<rect x="115.4" y="567.3" width="18.6" height="5.2" rx="2.6" fill="#444" fill-opacity="1.00" filter="url(#bl7)"/>
<rect x="195.3" y="568.4" width="19.4" height="4.0" rx="2.0" fill="#303030" fill-opacity="1.00" filter="url(#bl7)"/>
<rect x="221.0" y="568.4" width="18.2" height="4.0" rx="2.0" fill="#303030" fill-opacity="1.00" filter="url(#bl7)"/>
<rect x="301.0" y="565.5" width="16.6" height="3.4" rx="1.7" fill="#262626" fill-opacity="1.00" filter="url(#bl7)"/>
<rect x="322.9" y="564.7" width="18.3" height="4.4" rx="2.2" fill="#222" fill-opacity="1.00" filter="url(#bl7)"/>
<rect x="90.8" y="602.7" width="18.7" height="6.0" rx="3.0" fill="#333" fill-opacity="1.00" filter="url(#bl7)"/>
<rect x="115.4" y="602.6" width="19.8" height="7.0" rx="3.5" fill="#2e2e2e" fill-opacity="1.00" filter="url(#bl7)"/>
<rect x="143.0" y="602.4" width="18.0" height="6.0" rx="3.0" fill="#333" fill-opacity="1.00" filter="url(#bl7)"/>
<rect x="165.6" y="601.5" width="16.4" height="5.5" rx="2.8" fill="#333" fill-opacity="1.00" filter="url(#bl7)"/>
<rect x="193.0" y="601.7" width="19.3" height="8.0" rx="4.0" fill="#1e1e1e" fill-opacity="1.00" filter="url(#bl7)"/>
<rect x="218.2" y="600.8" width="18.2" height="7.0" rx="3.5" fill="#1e1e1e" fill-opacity="1.00" filter="url(#bl7)"/>
<rect x="246.0" y="602.0" width="18.2" height="6.5" rx="3.2" fill="#222" fill-opacity="1.00" filter="url(#bl7)"/>
<rect x="270.3" y="600.8" width="16.7" height="7.0" rx="3.5" fill="#222" fill-opacity="1.00" filter="url(#bl7)"/>
<rect x="297.5" y="602.2" width="20.1" height="5.0" rx="2.5" fill="#1e1e1e" fill-opacity="1.00" filter="url(#bl7)"/>
<rect x="322.0" y="602.4" width="19.2" height="4.6" rx="2.3" fill="#222" fill-opacity="1.00" filter="url(#bl7)"/>
<rect x="87.8" y="626.8" width="23.4" height="8.6" rx="4.0" fill="#262626" fill-opacity="1.00" filter="url(#bl7)"/>
<rect x="113.0" y="626.6" width="22.2" height="9.0" rx="4.0" fill="#262626" fill-opacity="1.00" filter="url(#bl7)"/>
<rect x="140.6" y="627.8" width="21.5" height="8.0" rx="4.0" fill="#262626" fill-opacity="1.00" filter="url(#bl7)"/>
<rect x="164.4" y="626.2" width="21.1" height="9.0" rx="4.0" fill="#262626" fill-opacity="1.00" filter="url(#bl7)"/>
<rect x="193.6" y="627.1" width="21.1" height="6.2" rx="3.1" fill="#262626" fill-opacity="1.00" filter="url(#bl7)"/>
<rect x="218.2" y="627.1" width="20.5" height="6.2" rx="3.1" fill="#262626" fill-opacity="1.00" filter="url(#bl7)"/>
<rect x="243.0" y="626.1" width="23.8" height="9.0" rx="4.0" fill="#262626" fill-opacity="1.00" filter="url(#bl7)"/>
<rect x="267.7" y="625.3" width="22.7" height="9.0" rx="4.0" fill="#262626" fill-opacity="1.00" filter="url(#bl7)"/>
<rect x="299.2" y="627.8" width="21.0" height="8.5" rx="4.0" fill="#222" fill-opacity="1.00" filter="url(#bl7)"/>
<rect x="321.0" y="628.0" width="21.1" height="8.0" rx="4.0" fill="#222" fill-opacity="1.00" filter="url(#bl7)"/>
<rect x="86.5" y="522.5" width="50.0" height="23.0" fill="none" stroke="#303030" stroke-width="1.0"/>
<rect x="138.5" y="522.5" width="50.5" height="23.0" fill="none" stroke="#303030" stroke-width="1.0"/>
<rect x="190.5" y="522.5" width="50.5" height="23.0" fill="none" stroke="#303030" stroke-width="1.0"/>
<rect x="242.5" y="522.5" width="50.0" height="23.0" fill="none" stroke="#303030" stroke-width="1.0"/>
<rect x="294.5" y="522.5" width="50.0" height="23.0" fill="none" stroke="#303030" stroke-width="1.0"/>
<rect x="86.5" y="557.5" width="50.0" height="23.0" fill="none" stroke="#303030" stroke-width="1.0"/>
<rect x="138.5" y="557.5" width="50.5" height="23.0" fill="none" stroke="#303030" stroke-width="1.0"/>
<rect x="190.5" y="557.5" width="50.5" height="23.0" fill="none" stroke="#303030" stroke-width="1.0"/>
<rect x="242.5" y="557.5" width="50.0" height="23.0" fill="none" stroke="#303030" stroke-width="1.0"/>
<rect x="294.5" y="557.5" width="50.0" height="23.0" fill="none" stroke="#303030" stroke-width="1.0"/>
<rect x="86.5" y="593.5" width="50.0" height="24.0" fill="none" stroke="#303030" stroke-width="1.0"/>
<rect x="138.5" y="593.5" width="50.5" height="24.0" fill="none" stroke="#303030" stroke-width="1.0"/>
<rect x="190.5" y="593.5" width="50.5" height="24.0" fill="none" stroke="#303030" stroke-width="1.0"/>
<rect x="242.5" y="593.5" width="50.0" height="24.0" fill="none" stroke="#303030" stroke-width="1.0"/>
<rect x="294.5" y="593.5" width="50.0" height="24.0" fill="none" stroke="#303030" stroke-width="1.0"/>
<rect x="86.5" y="619.5" width="50.0" height="24.0" fill="none" stroke="#303030" stroke-width="1.0"/>
<rect x="138.5" y="619.5" width="50.5" height="24.0" fill="none" stroke="#303030" stroke-width="1.0"/>
<rect x="190.5" y="619.5" width="50.5" height="24.0" fill="none" stroke="#303030" stroke-width="1.0"/>
<rect x="242.5" y="619.5" width="50.0" height="24.0" fill="none" stroke="#303030" stroke-width="1.0"/>
<rect x="294.5" y="619.5" width="50.0" height="24.0" fill="none" stroke="#303030" stroke-width="1.0"/>
<text x="369.1" y="483.8" font-size="21.5" font-weight="bold" textLength="16.3" lengthAdjust="spacingAndGlyphs">F.</text>
<rect x="433.9" y="503.3" width="12.6" height="130.8" fill="#000"/>
<rect x="447.9" y="560.2" width="13.0" height="73.9" fill="#0a6fe0"/>
<line x1="454.4" y1="568.0" x2="454.4" y2="552.4" stroke="#3a3a3a" stroke-width="1.1"/>
<line x1="451.4" y1="568.0" x2="457.4" y2="568.0" stroke="#3a3a3a" stroke-width="1.1"/>
<line x1="451.4" y1="552.4" x2="457.4" y2="552.4" stroke="#3a3a3a" stroke-width="1.1"/>
<line x1="435.9" y1="497.9" x2="456.4" y2="497.9" stroke="#000" stroke-width="1.7"/>
<text x="447.3" y="500.7" font-size="18" font-weight="bold" text-anchor="middle" textLength="14.6" lengthAdjust="spacingAndGlyphs">**</text>
<line x1="447.2" y1="634.1" x2="447.2" y2="638.6" stroke="#000" stroke-width="1.3"/>
<text x="445.6" y="650.6" font-size="12" text-anchor="middle">266</text>
<rect x="475.3" y="503.3" width="12.6" height="130.8" fill="#000"/>
<rect x="489.3" y="595.1" width="13.0" height="39.0" fill="#0a6fe0"/>
<line x1="495.8" y1="607.9" x2="495.8" y2="581.8" stroke="#3a3a3a" stroke-width="1.1"/>
<line x1="492.8" y1="607.9" x2="498.8" y2="607.9" stroke="#3a3a3a" stroke-width="1.1"/>
<line x1="492.8" y1="581.8" x2="498.8" y2="581.8" stroke="#3a3a3a" stroke-width="1.1"/>
<line x1="477.3" y1="497.9" x2="497.8" y2="497.9" stroke="#000" stroke-width="1.7"/>
<text x="488.7" y="500.7" font-size="18" font-weight="bold" text-anchor="middle" textLength="14.6" lengthAdjust="spacingAndGlyphs">**</text>
<line x1="488.6" y1="634.1" x2="488.6" y2="638.6" stroke="#000" stroke-width="1.3"/>
<text x="487.0" y="650.6" font-size="12" text-anchor="middle">37</text>
<rect x="517.0" y="503.3" width="12.6" height="130.8" fill="#000"/>
<rect x="531.0" y="572.9" width="13.0" height="61.2" fill="#0a6fe0"/>
<line x1="537.5" y1="580.5" x2="537.5" y2="565.0" stroke="#3a3a3a" stroke-width="1.1"/>
<line x1="534.5" y1="580.5" x2="540.5" y2="580.5" stroke="#3a3a3a" stroke-width="1.1"/>
<line x1="534.5" y1="565.0" x2="540.5" y2="565.0" stroke="#3a3a3a" stroke-width="1.1"/>
<line x1="519.0" y1="497.9" x2="539.5" y2="497.9" stroke="#000" stroke-width="1.7"/>
<text x="530.4" y="500.7" font-size="18" font-weight="bold" text-anchor="middle" textLength="14.6" lengthAdjust="spacingAndGlyphs">**</text>
<line x1="530.3" y1="634.1" x2="530.3" y2="638.6" stroke="#000" stroke-width="1.3"/>
<text x="528.7" y="650.6" font-size="12" text-anchor="middle">02</text>
<rect x="558.5" y="503.3" width="12.6" height="130.8" fill="#000"/>
<rect x="572.5" y="565.0" width="13.0" height="69.1" fill="#0a6fe0"/>
<line x1="579.0" y1="572.6" x2="579.0" y2="556.9" stroke="#3a3a3a" stroke-width="1.1"/>
<line x1="576.0" y1="572.6" x2="582.0" y2="572.6" stroke="#3a3a3a" stroke-width="1.1"/>
<line x1="576.0" y1="556.9" x2="582.0" y2="556.9" stroke="#3a3a3a" stroke-width="1.1"/>
<line x1="560.5" y1="497.9" x2="581.0" y2="497.9" stroke="#000" stroke-width="1.7"/>
<text x="571.9" y="500.7" font-size="18" font-weight="bold" text-anchor="middle" textLength="14.6" lengthAdjust="spacingAndGlyphs">**</text>
<line x1="571.8" y1="634.1" x2="571.8" y2="638.6" stroke="#000" stroke-width="1.3"/>
<text x="570.2" y="650.6" font-size="12" text-anchor="middle">06</text>
<rect x="600.2" y="503.3" width="12.6" height="130.8" fill="#000"/>
<rect x="614.2" y="572.9" width="13.0" height="61.2" fill="#0a6fe0"/>
<line x1="620.7" y1="580.5" x2="620.7" y2="565.0" stroke="#3a3a3a" stroke-width="1.1"/>
<line x1="617.7" y1="580.5" x2="623.7" y2="580.5" stroke="#3a3a3a" stroke-width="1.1"/>
<line x1="617.7" y1="565.0" x2="623.7" y2="565.0" stroke="#3a3a3a" stroke-width="1.1"/>
<line x1="602.2" y1="497.9" x2="622.7" y2="497.9" stroke="#000" stroke-width="1.7"/>
<text x="613.6" y="500.7" font-size="18" font-weight="bold" text-anchor="middle" textLength="14.6" lengthAdjust="spacingAndGlyphs">**</text>
<line x1="613.5" y1="634.1" x2="613.5" y2="638.6" stroke="#000" stroke-width="1.3"/>
<text x="611.9" y="650.6" font-size="12" text-anchor="middle">05</text>
<line x1="432.9" y1="502.6" x2="432.9" y2="634.7" stroke="#333" stroke-width="1.6"/>
<line x1="431.9" y1="634.1" x2="627.5" y2="634.1" stroke="#000" stroke-width="1.6"/>
<line x1="428.4" y1="634.1" x2="432.9" y2="634.1" stroke="#000" stroke-width="1.2"/>
<line x1="428.4" y1="601.4" x2="432.9" y2="601.4" stroke="#000" stroke-width="1.2"/>
<line x1="428.4" y1="568.7" x2="432.9" y2="568.7" stroke="#000" stroke-width="1.2"/>
<line x1="428.4" y1="536.0" x2="432.9" y2="536.0" stroke="#000" stroke-width="1.2"/>
<line x1="428.4" y1="503.3" x2="432.9" y2="503.3" stroke="#000" stroke-width="1.2"/>
<text x="425.6" y="507.3" font-size="11.5" text-anchor="end" fill="#222">1.0</text>
<text x="425.6" y="572.7" font-size="11.5" text-anchor="end" fill="#222">0.5</text>
<text x="425.0" y="638.1" font-size="11.5" text-anchor="end" fill="#222">0</text>
<text transform="translate(404.9,560.8) rotate(-90)" font-size="13" font-weight="bold" text-anchor="middle" textLength="173" lengthAdjust="spacingAndGlyphs">Relative MCL-1 Expression</text>
<rect x="627.3" y="516.4" width="12.9" height="6.9" fill="#000"/>
<rect x="627.3" y="539.0" width="12.9" height="6.1" fill="#0a6fe0"/>
<text x="647.7" y="523.2" font-size="11" textLength="28.3" lengthAdjust="spacingAndGlyphs" fill="#222">DMSO</text>
<text x="647.7" y="539.5" font-size="11" textLength="37.2" lengthAdjust="spacingAndGlyphs" fill="#222">TAK-228</text>
<text x="647.7" y="551.3" font-size="11" textLength="23.5" lengthAdjust="spacingAndGlyphs" fill="#222">20nM</text>
<text x="13.9" y="701.5" font-size="21.5" font-weight="bold" textLength="21.9" lengthAdjust="spacingAndGlyphs">G.</text>
<text x="170.7" y="679.2" font-size="13.8" font-weight="bold" text-anchor="middle" textLength="160" lengthAdjust="spacingAndGlyphs">Expression of Pro-Death</text>
<text x="170.6" y="696.3" font-size="13.8" font-weight="bold" text-anchor="middle" textLength="132.5" lengthAdjust="spacingAndGlyphs">Genes after TAK-228</text>
<rect x="69.0" y="801.0" width="11.9" height="32.8" fill="#000"/>
<rect x="82.4" y="770.5" width="11.9" height="63.2" fill="#00007e"/>
<line x1="88.4" y1="773.8" x2="88.4" y2="766.6" stroke="#111" stroke-width="1.3"/>
<line x1="85.4" y1="773.8" x2="91.3" y2="773.8" stroke="#111" stroke-width="1.3"/>
<line x1="85.4" y1="766.6" x2="91.3" y2="766.6" stroke="#111" stroke-width="1.3"/>
<text x="88.4" y="768.0" font-size="12.2" text-anchor="middle" fill="#1a1a1a">**</text>
<rect x="95.8" y="786.2" width="11.9" height="47.5" fill="#5252f8"/>
<line x1="101.8" y1="788.8" x2="101.8" y2="782.9" stroke="#111" stroke-width="1.3"/>
<line x1="98.8" y1="788.8" x2="104.7" y2="788.8" stroke="#111" stroke-width="1.3"/>
<line x1="98.8" y1="782.9" x2="104.7" y2="782.9" stroke="#111" stroke-width="1.3"/>
<text x="101.8" y="784.3" font-size="12.2" text-anchor="middle" fill="#1a1a1a">**</text>
<rect x="109.2" y="738.1" width="11.9" height="95.6" fill="#c5dcf5"/>
<line x1="115.2" y1="741.3" x2="115.2" y2="734.5" stroke="#111" stroke-width="1.3"/>
<line x1="112.2" y1="741.3" x2="118.1" y2="741.3" stroke="#111" stroke-width="1.3"/>
<line x1="112.2" y1="734.5" x2="118.1" y2="734.5" stroke="#111" stroke-width="1.3"/>
<text x="115.2" y="735.9" font-size="12.2" text-anchor="middle" fill="#1a1a1a">**</text>
<line x1="95.4" y1="833.7" x2="95.4" y2="838.2" stroke="#000" stroke-width="1.6"/>
<text x="96.2" y="849.0" font-size="13" font-weight="bold" text-anchor="middle" textLength="32.7" lengthAdjust="spacingAndGlyphs">DDIT3</text>
<rect x="134.2" y="801.0" width="11.9" height="32.8" fill="#000"/>
<rect x="147.6" y="785.2" width="11.9" height="48.5" fill="#00007e"/>
<line x1="153.5" y1="786.9" x2="153.5" y2="783.6" stroke="#111" stroke-width="1.3"/>
<line x1="150.6" y1="786.9" x2="156.5" y2="786.9" stroke="#111" stroke-width="1.3"/>
<line x1="150.6" y1="783.6" x2="156.5" y2="783.6" stroke="#111" stroke-width="1.3"/>
<text x="153.6" y="785.0" font-size="12.2" text-anchor="middle" fill="#1a1a1a">**</text>
<rect x="161.0" y="752.5" width="11.9" height="81.2" fill="#5252f8"/>
<line x1="166.9" y1="778.7" x2="166.9" y2="726.3" stroke="#111" stroke-width="1.3"/>
<line x1="164.0" y1="778.7" x2="169.9" y2="778.7" stroke="#111" stroke-width="1.3"/>
<line x1="164.0" y1="726.3" x2="169.9" y2="726.3" stroke="#111" stroke-width="1.3"/>
<text x="167.0" y="727.7" font-size="12.2" text-anchor="middle" fill="#1a1a1a">*</text>
<rect x="174.4" y="792.1" width="11.9" height="41.6" fill="#c5dcf5"/>
<line x1="180.3" y1="794.4" x2="180.3" y2="789.2" stroke="#111" stroke-width="1.3"/>
<line x1="177.4" y1="794.4" x2="183.3" y2="794.4" stroke="#111" stroke-width="1.3"/>
<line x1="177.4" y1="789.2" x2="183.3" y2="789.2" stroke="#111" stroke-width="1.3"/>
<text x="180.4" y="790.6" font-size="12.2" text-anchor="middle" fill="#1a1a1a">**</text>
<line x1="160.6" y1="833.7" x2="160.6" y2="838.2" stroke="#000" stroke-width="1.6"/>
<text x="159.7" y="849.0" font-size="13" font-weight="bold" text-anchor="middle" textLength="24.2" lengthAdjust="spacingAndGlyphs">BOK</text>
<rect x="199.8" y="801.0" width="11.9" height="32.8" fill="#000"/>
<rect x="213.2" y="741.0" width="11.9" height="92.7" fill="#00007e"/>
<line x1="219.2" y1="745.3" x2="219.2" y2="736.1" stroke="#111" stroke-width="1.3"/>
<line x1="216.2" y1="745.3" x2="222.1" y2="745.3" stroke="#111" stroke-width="1.3"/>
<line x1="216.2" y1="736.1" x2="222.1" y2="736.1" stroke="#111" stroke-width="1.3"/>
<text x="219.2" y="737.5" font-size="12.2" text-anchor="middle" fill="#1a1a1a">**</text>
<rect x="226.6" y="782.9" width="11.9" height="50.8" fill="#5252f8"/>
<line x1="232.6" y1="787.9" x2="232.6" y2="777.7" stroke="#111" stroke-width="1.3"/>
<line x1="229.6" y1="787.9" x2="235.5" y2="787.9" stroke="#111" stroke-width="1.3"/>
<line x1="229.6" y1="777.7" x2="235.5" y2="777.7" stroke="#111" stroke-width="1.3"/>
<text x="232.6" y="779.1" font-size="12.2" text-anchor="middle" fill="#1a1a1a">**</text>
<rect x="240.0" y="777.0" width="11.9" height="56.7" fill="#c5dcf5"/>
<line x1="245.9" y1="779.0" x2="245.9" y2="774.8" stroke="#111" stroke-width="1.3"/>
<line x1="243.0" y1="779.0" x2="248.9" y2="779.0" stroke="#111" stroke-width="1.3"/>
<line x1="243.0" y1="774.8" x2="248.9" y2="774.8" stroke="#111" stroke-width="1.3"/>
<text x="246.0" y="776.1" font-size="12.2" text-anchor="middle" fill="#1a1a1a">**</text>
<line x1="226.2" y1="833.7" x2="226.2" y2="838.2" stroke="#000" stroke-width="1.6"/>
<text x="224.4" y="849.0" font-size="13" font-weight="bold" text-anchor="middle" textLength="38" lengthAdjust="spacingAndGlyphs">NOXA1</text>
<line x1="68.0" y1="702.0" x2="68.0" y2="834.3" stroke="#000" stroke-width="1.4"/>
<line x1="67.4" y1="833.7" x2="253.6" y2="833.7" stroke="#000" stroke-width="1.6"/>
<line x1="63.5" y1="833.7" x2="68.0" y2="833.7" stroke="#000" stroke-width="1.2"/>
<line x1="65.0" y1="817.3" x2="68.0" y2="817.3" stroke="#000" stroke-width="1.2"/>
<line x1="63.5" y1="801.0" x2="68.0" y2="801.0" stroke="#000" stroke-width="1.2"/>
<line x1="65.0" y1="784.6" x2="68.0" y2="784.6" stroke="#000" stroke-width="1.2"/>
<line x1="63.5" y1="768.2" x2="68.0" y2="768.2" stroke="#000" stroke-width="1.2"/>
<line x1="65.0" y1="751.8" x2="68.0" y2="751.8" stroke="#000" stroke-width="1.2"/>
<line x1="63.5" y1="735.5" x2="68.0" y2="735.5" stroke="#000" stroke-width="1.2"/>
<line x1="65.0" y1="719.1" x2="68.0" y2="719.1" stroke="#000" stroke-width="1.2"/>
<line x1="63.5" y1="702.7" x2="68.0" y2="702.7" stroke="#000" stroke-width="1.2"/>
<text x="61.6" y="837.6" font-size="11" text-anchor="end" fill="#222">0</text>
<text x="61.6" y="804.9" font-size="11" text-anchor="end" fill="#222">1</text>
<text x="61.6" y="772.1" font-size="11" text-anchor="end" fill="#222">2</text>
<text x="61.6" y="739.4" font-size="11" text-anchor="end" fill="#222">3</text>
<text x="61.6" y="706.6" font-size="11" text-anchor="end" fill="#222">4</text>
<text transform="translate(49.3,766.7) rotate(-90)" font-size="13.3" font-weight="bold" text-anchor="middle" textLength="128.5" lengthAdjust="spacingAndGlyphs">Relative Expression</text>
<rect x="263.4" y="707.4" width="12.4" height="6.4" fill="#000"/>
<text x="283.5" y="714.6" font-size="11" textLength="28.5" lengthAdjust="spacingAndGlyphs" fill="#333">DMSO</text>
<rect x="263.4" y="723.4" width="12.4" height="6.4" fill="#00007e"/>
<text x="283.5" y="730.6" font-size="11" textLength="36" lengthAdjust="spacingAndGlyphs" fill="#333">CHLA06</text>
<rect x="263.4" y="739.3" width="12.4" height="6.4" fill="#5252f8"/>
<text x="283.5" y="746.5" font-size="11" textLength="21.5" lengthAdjust="spacingAndGlyphs" fill="#333">BT37</text>
<rect x="263.4" y="755.2" width="12.4" height="6.4" fill="#c5dcf5"/>
<text x="283.5" y="762.5" font-size="11" textLength="41.3" lengthAdjust="spacingAndGlyphs" fill="#333">CHLA266</text>
<text x="340.6" y="700.0" font-size="21.5" font-weight="bold" textLength="20.3" lengthAdjust="spacingAndGlyphs">H.</text>
<text x="391.5" y="685.9" font-size="14" font-weight="bold" textLength="213.5" lengthAdjust="spacingAndGlyphs">Expression after mTOR inhibition</text>
<rect x="393.9" y="797.0" width="12.0" height="40.0" fill="#000"/>
<rect x="409.2" y="759.8" width="12.0" height="77.2" fill="#ff0505"/>
<line x1="415.2" y1="768.2" x2="415.2" y2="751.0" stroke="#111" stroke-width="1.1"/>
<line x1="412.4" y1="768.2" x2="417.9" y2="768.2" stroke="#111" stroke-width="1.1"/>
<line x1="412.4" y1="751.0" x2="417.9" y2="751.0" stroke="#111" stroke-width="1.1"/>
<text x="415.2" y="749.0" font-size="12.2" text-anchor="middle" fill="#1a1a1a">**</text>
<rect x="424.5" y="765.8" width="12.0" height="71.2" fill="#0808c8"/>
<line x1="430.5" y1="775.0" x2="430.5" y2="755.4" stroke="#111" stroke-width="1.1"/>
<line x1="427.8" y1="775.0" x2="433.2" y2="775.0" stroke="#111" stroke-width="1.1"/>
<line x1="427.8" y1="755.4" x2="433.2" y2="755.4" stroke="#111" stroke-width="1.1"/>
<text x="430.5" y="753.4" font-size="12.2" text-anchor="middle" fill="#1a1a1a">**</text>
<rect x="439.8" y="757.0" width="12.0" height="80.0" fill="#0a820e"/>
<line x1="445.8" y1="773.0" x2="445.8" y2="741.0" stroke="#111" stroke-width="1.1"/>
<line x1="443.0" y1="773.0" x2="448.5" y2="773.0" stroke="#111" stroke-width="1.1"/>
<line x1="443.0" y1="741.0" x2="448.5" y2="741.0" stroke="#111" stroke-width="1.1"/>
<text x="445.8" y="739.0" font-size="12.2" text-anchor="middle" fill="#1a1a1a">**</text>
<line x1="422.9" y1="837.0" x2="422.9" y2="842.0" stroke="#000" stroke-width="1.6"/>
<text x="422.8" y="855.0" font-size="13" font-weight="bold" text-anchor="middle" textLength="32" lengthAdjust="spacingAndGlyphs">DDIT3</text>
<rect x="468.0" y="797.0" width="12.0" height="40.0" fill="#000"/>
<rect x="483.3" y="777.8" width="12.0" height="59.2" fill="#ff0505"/>
<line x1="489.3" y1="781.0" x2="489.3" y2="773.8" stroke="#111" stroke-width="1.1"/>
<line x1="486.6" y1="781.0" x2="492.1" y2="781.0" stroke="#111" stroke-width="1.1"/>
<line x1="486.6" y1="773.8" x2="492.1" y2="773.8" stroke="#111" stroke-width="1.1"/>
<text x="489.3" y="771.8" font-size="12.2" text-anchor="middle" fill="#1a1a1a">**</text>
<rect x="498.6" y="763.8" width="12.0" height="73.2" fill="#0808c8"/>
<line x1="504.6" y1="774.2" x2="504.6" y2="753.0" stroke="#111" stroke-width="1.1"/>
<line x1="501.9" y1="774.2" x2="507.4" y2="774.2" stroke="#111" stroke-width="1.1"/>
<line x1="501.9" y1="753.0" x2="507.4" y2="753.0" stroke="#111" stroke-width="1.1"/>
<text x="504.6" y="751.0" font-size="12.2" text-anchor="middle" fill="#1a1a1a">**</text>
<rect x="513.9" y="772.2" width="12.0" height="64.8" fill="#0a820e"/>
<line x1="519.9" y1="779.0" x2="519.9" y2="765.0" stroke="#111" stroke-width="1.1"/>
<line x1="517.1" y1="779.0" x2="522.6" y2="779.0" stroke="#111" stroke-width="1.1"/>
<line x1="517.1" y1="765.0" x2="522.6" y2="765.0" stroke="#111" stroke-width="1.1"/>
<text x="519.9" y="763.0" font-size="12.2" text-anchor="middle" fill="#1a1a1a">**</text>
<line x1="497.0" y1="837.0" x2="497.0" y2="842.0" stroke="#000" stroke-width="1.6"/>
<text x="497.0" y="855.0" font-size="13" font-weight="bold" text-anchor="middle" textLength="24.5" lengthAdjust="spacingAndGlyphs">BOK</text>
<rect x="542.4" y="797.0" width="12.0" height="40.0" fill="#000"/>
<rect x="557.7" y="723.8" width="12.0" height="113.2" fill="#ff0505"/>
<line x1="563.7" y1="735.0" x2="563.7" y2="713.0" stroke="#111" stroke-width="1.1"/>
<line x1="560.9" y1="735.0" x2="566.4" y2="735.0" stroke="#111" stroke-width="1.1"/>
<line x1="560.9" y1="713.0" x2="566.4" y2="713.0" stroke="#111" stroke-width="1.1"/>
<text x="563.7" y="711.0" font-size="12.2" text-anchor="middle" fill="#1a1a1a">**</text>
<rect x="573.0" y="723.0" width="12.0" height="114.0" fill="#0808c8"/>
<line x1="579.0" y1="735.0" x2="579.0" y2="711.0" stroke="#111" stroke-width="1.1"/>
<line x1="576.2" y1="735.0" x2="581.8" y2="735.0" stroke="#111" stroke-width="1.1"/>
<line x1="576.2" y1="711.0" x2="581.8" y2="711.0" stroke="#111" stroke-width="1.1"/>
<text x="579.0" y="709.0" font-size="12.2" text-anchor="middle" fill="#1a1a1a">**</text>
<rect x="588.3" y="765.8" width="12.0" height="71.2" fill="#0a820e"/>
<line x1="594.3" y1="777.0" x2="594.3" y2="753.0" stroke="#111" stroke-width="1.1"/>
<line x1="591.5" y1="777.0" x2="597.0" y2="777.0" stroke="#111" stroke-width="1.1"/>
<line x1="591.5" y1="753.0" x2="597.0" y2="753.0" stroke="#111" stroke-width="1.1"/>
<text x="594.3" y="751.0" font-size="12.2" text-anchor="middle" fill="#1a1a1a">**</text>
<line x1="571.4" y1="837.0" x2="571.4" y2="842.0" stroke="#000" stroke-width="1.6"/>
<text x="571.3" y="855.0" font-size="13" font-weight="bold" text-anchor="middle" textLength="37" lengthAdjust="spacingAndGlyphs">NOXA1</text>
<line x1="390.0" y1="696.5" x2="390.0" y2="837.6" stroke="#000" stroke-width="1.4"/>
<line x1="389.4" y1="837.0" x2="608.0" y2="837.0" stroke="#000" stroke-width="1.6"/>
<line x1="385.5" y1="837.0" x2="390.0" y2="837.0" stroke="#000" stroke-width="1.2"/>
<line x1="387.0" y1="817.0" x2="390.0" y2="817.0" stroke="#000" stroke-width="1.2"/>
<line x1="385.5" y1="797.0" x2="390.0" y2="797.0" stroke="#000" stroke-width="1.2"/>
<line x1="387.0" y1="777.0" x2="390.0" y2="777.0" stroke="#000" stroke-width="1.2"/>
<line x1="385.5" y1="757.0" x2="390.0" y2="757.0" stroke="#000" stroke-width="1.2"/>
<line x1="387.0" y1="737.0" x2="390.0" y2="737.0" stroke="#000" stroke-width="1.2"/>
<line x1="385.5" y1="717.0" x2="390.0" y2="717.0" stroke="#000" stroke-width="1.2"/>
<line x1="387.0" y1="697.0" x2="390.0" y2="697.0" stroke="#000" stroke-width="1.2"/>
<text x="383.0" y="840.9" font-size="11" text-anchor="end" fill="#222">0</text>
<text x="383.0" y="800.9" font-size="11" text-anchor="end" fill="#222">1</text>
<text x="383.0" y="760.9" font-size="11" text-anchor="end" fill="#222">2</text>
<text x="383.0" y="720.9" font-size="11" text-anchor="end" fill="#222">3</text>
<text transform="translate(369.6,770.5) rotate(-90)" font-size="13.3" font-weight="bold" text-anchor="middle" textLength="128.3" lengthAdjust="spacingAndGlyphs">Relative Expression</text>
<rect x="612.9" y="702.3" width="12.1" height="6.2" fill="#000"/>
<text x="632.3" y="709.3" font-size="11" textLength="27" lengthAdjust="spacingAndGlyphs" fill="#333">DMSO</text>
<rect x="612.9" y="717.8" width="12.1" height="6.2" fill="#ff0505"/>
<text x="632.3" y="724.8" font-size="11" textLength="36.5" lengthAdjust="spacingAndGlyphs" fill="#333">TAK-228</text>
<rect x="612.9" y="733.3" width="12.1" height="6.2" fill="#0808c8"/>
<text x="632.3" y="740.3" font-size="11" textLength="52.7" lengthAdjust="spacingAndGlyphs" fill="#333">KU-0063794</text>
<rect x="612.9" y="748.8" width="12.1" height="6.2" fill="#0a820e"/>
<text x="632.3" y="755.8" font-size="11" textLength="36.5" lengthAdjust="spacingAndGlyphs" fill="#333">Paxalisib</text>
</svg></body></html>
